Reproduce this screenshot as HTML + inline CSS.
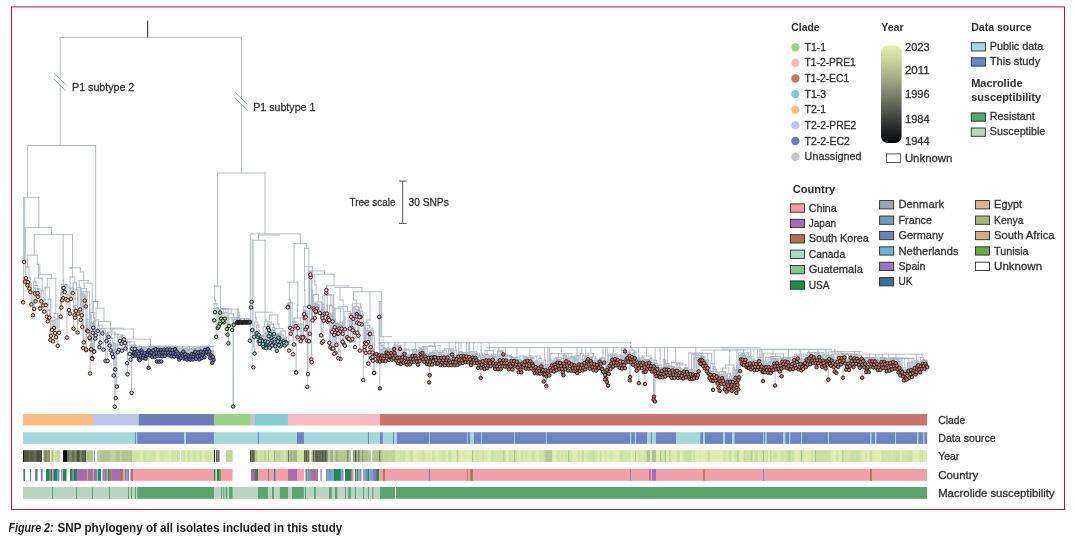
<!DOCTYPE html>
<html lang="en"><head><meta charset="utf-8"><title>Figure 2: SNP phylogeny of all isolates included in this study</title>
<style>html,body{margin:0;padding:0;background:#fff}body{width:1075px;height:536px;overflow:hidden}svg{display:block}text{font-family:"Liberation Sans",sans-serif}</style></head><body>
<svg width="1075" height="536" viewBox="0 0 1075 536">
<defs><linearGradient id="yg" x1="0" y1="0" x2="0" y2="1"><stop offset="0" stop-color="#e6edb4"/><stop offset="0.12" stop-color="#d0d8a4"/><stop offset="0.35" stop-color="#a2a882"/><stop offset="0.6" stop-color="#63675a"/><stop offset="0.85" stop-color="#25282a"/><stop offset="1" stop-color="#050607"/></linearGradient></defs>
<rect x="0" y="0" width="1075" height="536" fill="#ffffff"/>
<rect x="11.5" y="6.9" width="1053" height="502.6" fill="none" stroke="#b8163f" stroke-width="1"/>
<path d="M60.2 37.4L241.5 37.4M60.2 37.4L60.2 145.5M241.5 37.4L241.5 173.0M27.6 145.5L95.6 145.5M27.6 145.5L27.6 197.4M23.6 197.4L38.9 197.4M23.6 197.4L23.6 300.5M24.7 197.4L24.7 260.0M38.9 197.4L38.9 227.5M25.3 227.5L51.4 227.5M25.3 227.5L25.3 277.0M51.4 227.5L51.4 234.6M34.2 234.6L72.5 234.6M34.2 234.6L34.2 255.1M63.1 234.6L63.1 280.3M72.5 234.6L72.5 267.8M95.6 145.5L95.6 301.5M25.9 267.0L25.9 276.6M27.3 278.2L27.3 283.8M27.9 278.2L27.9 280.7M27.3 278.2L27.9 278.2M27.6 277.9L27.6 278.2M29.4 283.4L29.4 287.1M30.4 283.4L30.4 290.6M31.4 283.4L31.4 302.9M29.4 283.4L31.4 283.4M30.4 277.9L30.4 283.4M27.6 277.9L30.4 277.9M29.0 267.0L29.0 277.9M25.9 267.0L29.0 267.0M27.4 255.1L27.4 267.0M27.4 255.1L30.9 255.1M32.9 291.8L32.9 313.8M34.1 291.8L34.1 307.4M32.9 291.8L34.1 291.8M33.5 281.9L33.5 291.8M34.9 285.5L34.9 292.0M35.5 288.7L35.5 299.8M37.6 289.1L37.6 291.6M38.0 289.1L38.0 295.3M40.0 289.1L40.0 307.0M37.6 289.1L40.0 289.1M38.8 288.7L38.8 289.1M35.5 288.7L38.8 288.7M37.2 285.5L37.2 288.7M34.9 285.5L37.2 285.5M36.0 281.9L36.0 285.5M33.5 281.9L36.0 281.9M34.8 278.1L34.8 281.9M41.3 290.6L41.3 299.8M43.1 290.6L43.1 303.9M41.3 290.6L43.1 290.6M42.2 278.1L42.2 290.6M34.8 278.1L42.2 278.1M38.5 264.4L38.5 278.1M37.4 255.1L37.4 264.4M37.4 264.4L38.5 264.4M30.9 255.1L37.4 255.1M44.3 299.1L44.3 310.1M45.8 299.1L45.8 303.5M44.3 299.1L45.8 299.1M45.1 287.2L45.1 299.1M46.8 310.1L46.8 315.2M47.8 310.1L47.8 319.9M49.3 310.1L49.3 316.2M46.8 310.1L49.3 310.1M48.0 299.1L48.0 310.1M50.3 299.1L50.3 338.4M50.9 299.1L50.9 334.3M48.0 299.1L50.9 299.1M49.5 287.2L49.5 299.1M45.1 287.2L49.5 287.2M47.3 278.3L47.3 287.2M51.9 320.6L51.9 328.5M53.0 320.6L53.0 339.8M54.0 320.6L54.0 326.5M51.9 320.6L54.0 320.6M53.0 317.3L53.0 320.6M55.0 317.3L55.0 331.6M53.0 317.3L55.0 317.3M54.0 313.7L54.0 317.3M56.0 318.6L56.0 335.7M57.7 318.6L57.7 344.3M59.1 318.6L59.1 331.2M56.0 318.6L59.1 318.6M57.6 313.7L57.6 318.6M54.0 313.7L57.6 313.7M55.8 278.3L55.8 313.7M47.3 278.3L55.8 278.3M51.5 274.7L51.5 278.3M39.8 264.4L39.8 274.7M39.8 274.7L51.5 274.7M60.6 292.4L60.6 315.2M61.4 292.4L61.4 306.0M62.2 292.4L62.2 298.8M60.6 292.4L62.2 292.4M61.4 284.5L61.4 292.4M63.2 284.5L63.2 296.7M63.6 284.5L63.6 286.5M64.7 284.5L64.7 290.6M63.2 284.5L64.7 284.5M65.9 294.5L65.9 297.8M66.9 294.5L66.9 336.1M67.9 294.5L67.9 298.8M65.9 294.5L67.9 294.5M66.9 284.5L66.9 294.5M63.9 284.5L66.9 284.5M61.4 284.5L65.4 284.5M63.4 280.3L63.4 284.5M63.1 280.3L63.4 280.3M69.0 288.0L69.0 308.6M70.0 288.0L70.0 312.1M71.0 288.0L71.0 297.3M69.0 288.0L71.0 288.0M70.0 277.0L70.0 288.0M72.7 287.2L72.7 291.6M73.5 287.2L73.5 327.1M72.7 287.2L73.5 287.2M73.1 282.8L73.1 287.2M74.5 305.5L74.5 313.8M75.1 305.5L75.1 316.2M75.9 305.5L75.9 309.4M74.5 305.5L75.9 305.5M75.2 289.6L75.2 305.5M77.6 289.6L77.6 331.0M75.2 289.6L77.6 289.6M76.4 282.8L76.4 289.6M73.1 282.8L76.4 282.8M74.7 277.0L74.7 282.8M70.0 277.0L74.7 277.0M72.4 267.8L72.4 277.0M69.7 267.8L72.4 267.8M78.0 287.3L78.0 312.1M80.1 287.3L80.1 308.0M80.7 287.3L80.7 318.3M78.0 287.3L80.7 287.3M79.3 280.5L79.3 287.3M81.7 288.5L81.7 313.8M82.3 293.9L82.3 325.5M83.1 295.2L83.1 346.6M83.7 296.5L83.7 340.8M84.8 296.5L84.8 299.2M85.8 296.5L85.8 304.9M83.7 296.5L85.8 296.5M84.8 295.2L84.8 296.5M83.1 295.2L84.8 295.2M84.0 293.9L84.0 295.2M82.3 293.9L84.0 293.9M83.1 291.8L83.1 293.9M86.0 291.8L86.0 348.0M86.2 319.4L86.2 348.6M87.2 319.4L87.2 329.1M88.0 319.4L88.0 330.0M86.2 319.4L88.0 319.4M87.1 291.8L87.1 319.4M89.5 304.9L89.5 336.0M89.9 304.9L89.9 336.7M89.5 304.9L89.9 304.9M89.7 291.8L89.7 304.9M83.1 291.8L89.7 291.8M86.4 288.5L86.4 291.8M81.7 288.5L86.4 288.5M84.1 283.2L84.1 288.5M90.1 312.5L90.1 372.0M90.9 333.4L90.9 348.0M91.2 344.0L91.2 347.8M92.0 344.0L92.0 356.6M92.2 344.0L92.2 357.4M91.2 344.0L92.2 344.0M91.7 333.4L91.7 344.0M90.9 333.4L91.7 333.4M91.3 312.5L91.3 333.4M94.0 312.5L94.0 349.7M90.1 312.5L94.0 312.5M92.1 283.2L92.1 312.5M84.1 283.2L92.1 283.2M88.1 280.5L88.1 283.2M79.3 280.5L88.1 280.5M83.7 271.9L83.7 280.5M80.3 267.8L80.3 271.9M80.3 271.9L83.7 271.9M69.7 267.8L80.3 267.8M93.5 301.5L97.6 301.5M92.2 324.1L92.2 357.4M92.8 324.1L92.8 331.3M93.2 324.1L93.2 326.2M92.2 324.1L93.2 324.1M92.7 323.6L92.7 324.1M94.0 327.8L94.0 349.7M94.2 327.8L94.2 350.2M95.3 327.8L95.3 337.1M94.0 327.8L95.3 327.8M94.6 323.6L94.6 327.8M92.7 323.6L94.6 323.6M93.7 321.1L93.7 323.6M95.7 321.1L95.7 333.8M93.7 321.1L95.7 321.1M94.7 318.0L94.7 321.1M93.5 301.5L93.5 318.0M93.5 318.0L94.7 318.0M97.6 301.5L97.6 308.1M96.0 308.1L103.9 308.1M97.7 325.8L97.7 329.3M99.4 325.8L99.4 345.7M97.7 325.8L99.4 325.8M98.5 320.0L98.5 325.8M96.0 308.1L96.0 320.0M96.0 320.0L98.5 320.0M103.9 308.1L103.9 321.7M98.3 321.7L110.5 321.7M100.4 328.8L100.4 341.2M102.4 330.2L102.4 331.9M103.5 330.2L103.5 348.2M105.5 330.2L105.5 359.4M102.4 330.2L105.5 330.2M104.0 328.8L104.0 330.2M100.4 328.8L104.0 328.8M102.2 325.0L102.2 328.8M98.3 321.7L98.3 325.0M98.3 325.0L102.2 325.0M110.5 321.7L110.5 329.0M100.8 328.2L123.8 328.2M106.5 333.2L106.5 339.5M107.6 333.2L107.6 359.4M108.6 333.2L108.6 335.4M106.5 333.2L108.6 333.2M107.6 332.1L107.6 333.2M109.6 340.5L109.6 344.1M110.7 340.5L110.7 348.8M109.6 340.5L110.7 340.5M110.1 338.1L110.1 340.5M112.1 342.4L112.1 352.3M113.1 342.4L113.1 355.5M112.1 342.4L113.1 342.4M112.6 338.1L112.6 342.4M110.1 338.1L112.6 338.1M111.4 334.0L111.4 338.1M113.7 343.4L113.7 374.0M114.8 343.4L114.8 405.2M115.2 343.4L115.2 367.9M115.8 343.4L115.8 396.6M113.7 343.4L115.8 343.4M114.8 334.7L114.8 343.4M116.8 345.0L116.8 385.1M117.8 345.0L117.8 350.8M118.9 345.0L118.9 348.4M116.8 345.0L118.9 345.0M117.8 334.7L117.8 345.0M119.9 336.5L119.9 339.5M121.5 336.5L121.5 342.2M121.9 336.5L121.9 349.2M119.9 336.5L121.9 336.5M120.9 335.7L120.9 336.5M124.0 335.7L124.0 337.9M120.9 335.7L124.0 335.7M122.5 334.7L122.5 335.7M114.8 334.7L122.5 334.7M118.6 334.0L118.6 334.7M111.4 334.0L118.6 334.0M115.0 332.1L115.0 334.0M107.6 332.1L115.0 332.1M111.3 331.0L111.3 332.1M112.0 328.2L112.0 331.0M111.3 331.0L112.0 331.0M110.5 329.0L133.5 329.0M133.5 329.0L133.5 339.1M127.4 339.1L150.5 339.1M125.0 342.0L125.0 341.6M125.4 342.0L125.4 347.1M127.1 342.0L127.1 361.7M125.0 342.0L127.1 342.0M127.5 345.3L127.5 372.8M129.7 348.1L129.7 352.5M130.6 348.1L130.6 358.0M129.7 348.1L130.6 348.1M130.1 345.3L130.1 348.1M131.6 345.3L131.6 391.3M132.2 345.3L132.2 347.3M133.0 351.9L133.0 354.3M133.2 351.9L133.2 354.3M133.0 351.9L133.2 351.9M133.1 345.3L133.1 351.9M131.6 345.3L133.1 345.3M130.1 345.3L132.3 345.3M127.5 345.3L131.2 345.3M129.4 342.0L129.4 345.3M126.0 342.0L129.4 342.0M133.8 345.0L133.8 351.3M134.7 345.4L134.7 351.0M134.9 345.4L134.9 347.3M134.7 345.4L134.9 345.4M135.5 349.3L135.5 354.2M136.3 349.3L136.3 351.4M136.4 349.3L136.4 352.0M135.5 349.3L136.4 349.3M135.9 345.4L135.9 349.3M134.8 345.4L135.9 345.4M135.4 345.0L135.4 345.4M133.8 345.0L135.4 345.0M134.6 342.0L134.6 345.0M127.7 342.0L134.6 342.0M127.4 339.1L127.4 342.0M127.4 342.0L131.2 342.0M150.5 339.1L150.5 346.4M137.1 346.4L213.5 346.4M137.2 347.3L137.2 349.8M138.0 347.3L138.0 354.3M137.2 347.3L138.0 347.3M137.6 346.4L137.6 347.3M138.8 349.3L138.8 357.6M138.9 349.6L138.9 352.0M139.7 349.6L139.7 358.7M140.6 349.6L140.6 354.6M138.9 349.6L140.6 349.6M139.7 349.3L139.7 349.6M138.8 349.3L139.7 349.3M139.2 346.4L139.2 349.3M141.4 347.1L141.4 349.0M142.2 347.1L142.2 351.2M143.1 347.1L143.1 356.3M141.4 347.1L143.1 347.1M143.9 349.0L143.9 354.0M144.8 349.0L144.8 351.7M145.6 349.0L145.6 357.2M143.9 349.0L145.6 349.0M144.8 347.9L144.8 349.0M146.4 348.7L146.4 354.2M147.3 348.7L147.3 353.2M148.1 348.7L148.1 350.3M146.4 348.7L148.1 348.7M147.3 347.9L147.3 348.7M144.8 347.9L147.3 347.9M146.0 347.1L146.0 347.9M142.2 347.1L146.0 347.1M144.1 346.4L144.1 347.1M148.6 347.0L148.6 366.2M149.0 347.0L149.0 349.0M148.6 347.0L149.0 347.0M149.8 348.7L149.8 353.9M150.6 348.7L150.6 351.4M149.8 348.7L150.6 348.7M150.2 347.0L150.2 348.7M151.5 347.0L151.5 351.0M152.3 347.0L152.3 355.4M153.2 347.0L153.2 348.8M154.0 347.0L154.0 352.8M152.3 347.0L154.0 347.0M151.5 347.0L153.2 347.0M150.2 347.0L152.3 347.0M148.8 347.0L151.3 347.0M150.0 346.6L150.0 347.0M154.8 346.6L154.8 355.5M150.0 346.6L154.8 346.6M152.4 346.4L152.4 346.6M155.7 346.4L155.7 347.7M156.5 348.3L156.5 351.1M157.0 348.3L157.0 360.0M157.4 348.3L157.4 354.3M156.5 348.3L157.4 348.3M156.9 346.4L156.9 348.3M158.2 346.4L158.2 348.3M155.7 346.4L158.2 346.4M159.0 346.4L159.0 351.3M159.2 346.4L159.2 360.1M159.9 346.4L159.9 354.2M160.7 346.4L160.7 348.5M159.2 346.4L160.7 346.4M159.0 346.4L160.0 346.4M161.3 347.6L161.3 360.0M161.6 348.8L161.6 350.8M162.4 348.8L162.4 354.6M163.2 348.8L163.2 350.9M161.6 348.8L163.2 348.8M162.4 347.6L162.4 348.8M161.3 347.6L162.4 347.6M161.9 346.4L161.9 347.6M164.1 346.4L164.1 348.1M161.9 346.4L164.1 346.4M164.9 346.4L164.9 354.4M165.8 346.4L165.8 351.3M166.6 346.4L166.6 348.7M167.4 346.4L167.4 348.1M165.8 346.4L167.4 346.4M164.9 346.4L166.6 346.4M168.3 346.4L168.3 351.1M169.1 346.4L169.1 353.8M170.0 346.4L170.0 348.1M170.8 346.4L170.8 351.5M169.1 346.4L170.8 346.4M168.3 346.4L170.0 346.4M165.8 346.4L169.1 346.4M171.6 346.8L171.6 355.0M172.5 346.8L172.5 348.8M171.6 346.8L172.5 346.8M172.1 346.4L172.1 346.8M173.3 346.4L173.3 351.9M174.2 346.4L174.2 355.0M175.0 346.4L175.0 347.7M175.8 346.4L175.8 352.5M173.3 346.4L175.8 346.4M176.7 347.5L176.7 350.2M177.5 347.5L177.5 355.0M176.7 347.5L177.5 347.5M177.1 346.4L177.1 347.5M174.6 346.4L177.1 346.4M172.1 346.4L175.8 346.4M178.4 348.4L178.4 352.2M179.2 348.4L179.2 358.0M180.0 348.4L180.0 354.6M178.4 348.4L180.0 348.4M179.2 346.4L179.2 348.4M180.9 348.3L180.9 356.4M181.7 348.3L181.7 352.3M182.6 348.3L182.6 354.3M183.4 348.3L183.4 350.1M182.6 348.3L183.4 348.3M184.2 348.3L184.2 356.9M185.1 348.3L185.1 352.7M185.9 348.3L185.9 355.7M181.7 348.3L185.9 348.3M180.9 348.3L183.8 348.3M182.4 346.4L182.4 348.3M186.8 349.9L186.8 358.0M187.6 349.9L187.6 353.5M186.8 349.9L187.6 349.9M187.2 346.4L187.2 349.9M188.4 349.9L188.4 354.3M189.3 349.9L189.3 357.2M190.1 349.9L190.1 358.0M188.4 349.9L190.1 349.9M189.3 346.4L189.3 349.9M191.0 348.5L191.0 354.8M191.8 349.5L191.8 352.6M192.6 349.5L192.6 358.0M191.8 349.5L192.6 349.5M192.2 348.5L192.2 349.5M193.5 348.5L193.5 355.0M194.3 348.5L194.3 352.8M195.2 348.5L195.2 350.3M196.0 348.5L196.0 357.3M194.3 348.5L196.0 348.5M193.5 348.5L195.2 348.5M191.0 348.5L194.3 348.5M192.6 346.4L192.6 348.5M196.8 350.2L196.8 352.9M197.7 350.2L197.7 354.7M196.8 350.2L197.7 350.2M197.3 347.7L197.3 350.2M198.5 349.0L198.5 350.7M199.4 349.0L199.4 358.0M198.5 349.0L199.4 349.0M198.9 347.9L198.9 349.0M200.2 347.9L200.2 354.4M201.0 347.9L201.0 350.0M200.2 347.9L201.0 347.9M198.9 347.9L200.6 347.9M199.8 347.7L199.8 347.9M197.3 347.7L199.8 347.7M198.5 346.4L198.5 347.7M201.9 347.2L201.9 356.6M202.7 347.2L202.7 353.4M203.6 347.2L203.6 351.0M201.9 347.2L203.6 347.2M202.7 346.4L202.7 347.2M204.4 346.4L204.4 355.7M205.2 346.4L205.2 348.4M206.1 346.4L206.1 351.1M205.2 346.4L206.1 346.4M202.7 346.4L205.7 346.4M206.9 346.4L206.9 350.3M207.8 346.4L207.8 347.6M208.6 346.4L208.6 352.8M206.9 346.4L208.6 346.4M209.4 346.4L209.4 349.9M207.8 346.4L209.4 346.4M210.3 351.4L210.3 356.7M211.1 351.4L211.1 353.8M210.3 351.4L211.1 351.4M210.7 346.4L210.7 351.4M208.6 346.4L210.7 346.4M212.2 350.9L212.2 361.3M212.9 350.9L212.9 355.5M213.6 350.9L213.6 358.3M212.2 350.9L213.6 350.9M212.9 346.4L212.9 350.9M217.5 173.0L265.0 173.0M217.5 173.0L217.5 286.0M214.4 286.0L220.6 286.0M265.0 173.0L265.0 233.9M250.4 233.9L300.3 233.9M258.5 235.0L279.6 235.0M250.4 233.9L250.4 340.0M252.2 240.2L252.2 366.0M252.2 240.2L265.0 240.2M258.5 233.9L258.5 240.2M265.0 240.2L265.0 312.2M300.3 233.9L300.3 243.6M294.0 243.6L306.3 243.6M294.0 243.6L294.0 282.2M287.5 282.2L297.9 282.2M306.3 243.6L306.3 248.3M304.5 248.3L308.9 248.3M304.5 248.3L304.5 266.6M308.9 248.3L308.9 271.0M214.2 303.8L214.2 318.9M215.0 307.9L215.0 310.7M216.1 307.9L216.1 335.3M217.7 307.9L217.7 326.5M218.7 307.9L218.7 325.0M215.0 307.9L218.7 307.9M216.9 303.8L216.9 307.9M214.2 303.8L216.9 303.8M215.5 300.0L215.5 303.8M214.7 286.0L214.7 300.0M214.7 300.0L215.5 300.0M219.8 309.0L219.8 322.4M220.2 309.0L220.2 311.1M221.2 309.0L221.2 317.2M220.2 309.0L221.2 309.0M222.8 313.2L222.8 319.3M223.9 313.2L223.9 320.9M222.8 313.2L223.9 313.2M223.3 309.0L223.3 313.2M224.9 312.5L224.9 317.2M226.9 312.5L226.9 327.5M224.9 312.5L226.9 312.5M225.9 309.0L225.9 312.5M220.7 309.0L225.9 309.0M219.8 309.0L223.3 309.0M227.6 327.2L227.6 333.2M228.4 327.2L228.4 341.9M227.6 327.2L228.4 327.2M228.0 309.0L228.0 327.2M229.0 313.8L229.0 324.4M232.1 317.4L232.1 328.5M233.1 319.4L233.1 405.0M233.7 319.4L233.7 323.4M236.8 319.4L236.8 321.3M233.1 319.4L236.8 319.4M234.9 317.4L234.9 319.4M232.1 317.4L234.9 317.4M233.5 313.8L233.5 317.4M229.0 313.8L233.5 313.8M231.2 309.0L231.2 313.8M237.0 317.3L237.0 320.8M237.4 317.3L237.4 320.6M237.0 317.3L237.4 317.3M237.2 309.0L237.2 317.3M237.9 312.6L237.9 320.6M238.3 317.1L238.3 321.0M238.8 317.1L238.8 321.1M239.2 317.1L239.2 320.6M238.3 317.1L239.2 317.1M238.8 315.7L238.8 317.1M239.7 315.7L239.7 320.5M238.8 315.7L239.7 315.7M239.2 312.6L239.2 315.7M237.9 312.6L239.2 312.6M238.6 309.0L238.6 312.6M221.5 309.0L238.6 309.0M220.5 286.0L220.5 309.0M220.5 309.0L230.1 309.0M233.3 325.0L233.3 405.0M236.9 318.5L250.3 318.5M228.0 317.8L238.6 317.8M255.4 312.2L272.2 312.2M254.6 321.9L254.6 352.1M256.7 325.1L256.7 331.6M257.7 331.8L257.7 335.3M258.7 331.8L258.7 333.4M257.7 331.8L258.7 331.8M258.2 331.1L258.2 331.8M258.7 335.1L258.7 339.8M259.8 336.0L259.8 342.3M260.0 336.0L260.0 339.2M260.8 336.0L260.8 337.8M261.8 336.0L261.8 342.9M260.0 336.0L261.8 336.0M259.8 336.0L260.9 336.0M260.3 335.1L260.3 336.0M258.7 335.1L260.3 335.1M259.5 331.1L259.5 335.1M258.2 331.1L259.5 331.1M258.9 325.1L258.9 331.1M256.7 325.1L258.9 325.1M257.8 321.9L257.8 325.1M254.6 321.9L257.8 321.9M256.2 318.0L256.2 321.9M255.4 312.2L255.4 318.0M255.4 318.0L256.2 318.0M262.2 336.7L262.2 339.4M263.0 336.7L263.0 342.4M262.2 336.7L263.0 336.7M262.6 335.3L262.6 336.7M263.1 335.3L263.1 344.3M263.9 335.3L263.9 346.0M262.6 335.3L263.9 335.3M263.2 326.8L263.2 335.3M264.9 333.2L264.9 342.9M265.5 333.2L265.5 339.8M266.3 333.2L266.3 346.6M264.9 333.2L266.3 333.2M265.6 326.8L265.6 333.2M263.2 326.8L265.6 326.8M264.4 321.6L264.4 326.8M267.0 332.5L267.0 341.9M267.8 332.5L267.8 340.5M267.0 332.5L267.8 332.5M267.4 323.9L267.4 332.5M268.0 324.8L268.0 326.5M268.8 324.8L268.8 344.9M268.9 324.8L268.9 334.8M268.0 324.8L268.9 324.8M268.4 323.9L268.4 324.8M267.4 323.9L268.4 323.9M267.9 321.6L267.9 323.9M264.4 321.6L267.9 321.6M266.2 320.0L266.2 321.6M265.1 312.2L265.1 320.0M265.1 320.0L266.2 320.0M269.4 315.0L277.8 315.0M269.0 325.9L269.0 328.5M269.6 325.9L269.6 346.3M270.0 325.9L270.0 332.6M269.0 325.9L270.0 325.9M269.5 324.2L269.5 325.9M271.1 330.0L271.1 336.1M271.7 330.0L271.7 343.9M272.0 330.0L272.0 343.9M272.1 330.0L272.1 338.8M273.1 330.0L273.1 342.9M274.1 330.0L274.1 332.6M271.1 330.0L274.1 330.0M272.6 327.4L272.6 330.0M274.5 327.4L274.5 337.8M272.6 327.4L274.5 327.4M273.6 324.2L273.6 327.4M269.5 324.2L273.6 324.2M271.5 322.0L271.5 324.2M269.4 315.0L269.4 322.0M269.4 322.0L271.5 322.0M275.2 328.7L275.2 344.9M276.2 334.6L276.2 342.9M276.8 334.6L276.8 349.4M277.8 334.6L277.8 339.8M278.4 334.6L278.4 336.2M276.8 334.6L278.4 334.6M278.7 335.1L278.7 343.5M279.3 335.1L279.3 336.7M278.7 335.1L279.3 335.1M279.0 334.6L279.0 335.1M277.6 334.6L279.0 334.6M276.2 334.6L278.3 334.6M277.2 334.0L277.2 334.6M280.3 334.0L280.3 340.8M277.2 334.0L280.3 334.0M278.8 333.1L278.8 334.0M280.3 335.1L280.3 344.9M281.9 335.1L281.9 342.9M283.4 335.1L283.4 339.8M280.3 335.1L283.4 335.1M281.8 333.1L281.8 335.1M278.8 333.1L281.8 333.1M280.3 331.1L280.3 333.1M284.0 338.0L284.0 341.4M284.7 338.0L284.7 344.0M285.4 338.3L285.4 342.9M286.4 338.3L286.4 340.8M285.4 338.3L286.4 338.3M285.9 338.0L285.9 338.3M286.6 338.0L286.6 342.1M284.0 338.0L286.6 338.0M285.3 331.1L285.3 338.0M280.3 331.1L285.3 331.1M282.8 328.7L282.8 331.1M275.2 328.7L282.8 328.7M279.0 324.0L279.0 328.7M277.8 315.0L277.8 324.0M277.8 324.0L279.0 324.0M253.1 240.2L253.1 347.7M287.8 303.5L287.8 305.9M288.1 303.5L288.1 305.3M289.0 303.5L289.0 349.1M290.1 303.5L290.1 326.3M288.1 303.5L290.1 303.5M287.8 303.5L289.1 303.5M288.5 302.7L288.5 303.5M290.7 302.7L290.7 332.3M292.3 302.7L292.3 327.8M288.5 302.7L292.3 302.7M290.4 300.0L290.4 302.7M289.3 282.2L289.3 300.0M289.3 300.0L290.4 300.0M293.0 321.2L293.0 352.9M293.9 321.9L293.9 343.0M295.7 321.9L295.7 324.5M296.1 321.9L296.1 371.0M293.9 321.9L296.1 321.9M295.0 321.2L295.0 321.9M293.0 321.2L295.0 321.2M294.0 318.1L294.0 321.2M297.5 325.0L297.5 335.7M297.9 325.0L297.9 326.7M300.8 325.0L300.8 339.7M301.3 325.0L301.3 335.7M297.9 325.0L301.3 325.0M297.5 325.0L299.6 325.0M298.5 324.1L298.5 325.0M302.9 324.1L302.9 336.0M298.5 324.1L302.9 324.1M300.7 318.1L300.7 324.1M294.0 318.1L300.7 318.1M297.4 305.0L297.4 318.1M297.9 282.2L297.9 305.0M297.4 305.0L297.9 305.0M304.5 266.6L312.3 266.6M303.5 310.0L303.5 335.7M304.2 310.0L304.2 312.6M303.5 310.0L304.2 310.0M303.8 306.5L303.8 310.0M304.6 310.7L304.6 316.6M305.7 311.6L305.7 327.8M305.7 311.6L305.7 315.6M305.7 311.6L305.7 311.6M305.7 310.7L305.7 311.6M306.9 314.9L306.9 339.0M307.0 314.9L307.0 325.5M307.3 333.3L307.3 385.4M308.0 333.3L308.0 372.6M307.3 333.3L308.0 333.3M307.6 314.9L307.6 333.3M306.9 314.9L307.6 314.9M307.3 310.7L307.3 314.9M304.6 310.7L307.3 310.7M305.9 306.5L305.9 310.7M303.8 306.5L305.9 306.5M304.9 290.0L304.9 306.5M304.5 266.6L304.5 290.0M304.5 290.0L304.9 290.0M308.9 271.0L324.6 271.0M309.0 272.0L309.0 339.8M309.1 272.0L309.1 305.4M309.8 272.0L309.8 332.3M310.4 272.0L310.4 273.2M310.7 272.0L310.7 275.7M310.4 272.0L310.7 272.0M311.3 272.0L311.3 358.0M309.8 272.0L311.3 272.0M311.6 290.0L311.6 360.7M312.5 290.0L312.5 318.9M311.6 290.0L312.5 290.0M312.0 272.0L312.0 290.0M310.6 272.0L312.0 272.0M309.1 272.0L311.3 272.0M309.0 272.0L310.2 272.0M312.3 266.6L312.3 272.0M309.6 272.0L312.3 272.0M324.6 271.0L324.6 274.1M314.9 274.1L334.0 274.1M313.6 294.5L313.6 307.0M314.6 303.6L314.6 308.7M314.7 307.8L314.7 316.6M315.8 307.8L315.8 310.6M315.8 307.8L315.8 309.9M314.7 307.8L315.8 307.8M315.3 304.6L315.3 307.8M316.9 304.9L316.9 307.0M319.8 304.9L319.8 311.5M316.9 304.9L319.8 304.9M318.4 304.6L318.4 304.9M315.3 304.6L318.4 304.6M316.8 303.6L316.8 304.6M314.6 303.6L316.8 303.6M315.7 302.0L315.7 303.6M321.0 310.4L321.0 333.9M321.9 310.4L321.9 341.3M321.0 310.4L321.9 310.4M321.4 302.0L321.4 310.4M315.7 302.0L321.4 302.0M318.6 294.5L318.6 302.0M313.6 294.5L318.6 294.5M316.1 285.0L316.1 294.5M314.9 274.1L314.9 285.0M314.9 285.0L316.1 285.0M334.0 274.1L334.0 285.8M326.4 285.8L348.2 285.8M322.5 304.2L322.5 314.4M322.5 307.6L322.5 316.6M323.2 307.6L323.2 339.8M323.8 307.6L323.8 319.2M322.5 307.6L323.8 307.6M323.2 304.2L323.2 307.6M322.5 304.2L323.2 304.2M322.9 295.0L322.9 304.2M324.8 295.0L324.8 312.2M326.3 295.0L326.3 291.3M326.4 295.0L326.4 288.6M326.9 305.2L326.9 312.1M327.5 305.2L327.5 320.0M327.5 305.2L327.5 318.2M326.9 305.2L327.5 305.2M327.2 295.0L327.2 305.2M326.4 295.0L327.2 295.0M326.3 295.0L326.8 295.0M328.1 313.3L328.1 316.6M329.2 315.4L329.2 318.6M329.3 315.4L329.3 341.3M330.4 315.4L330.4 345.7M331.9 315.4L331.9 347.3M329.2 315.4L331.9 315.4M330.6 313.3L330.6 315.4M328.1 313.3L330.6 313.3M329.4 305.5L329.4 313.3M332.0 313.3L332.0 330.6M332.6 313.3L332.6 320.0M332.0 313.3L332.6 313.3M332.3 305.5L332.3 313.3M329.4 305.5L332.3 305.5M330.8 295.0L330.8 305.5M326.6 295.0L330.8 295.0M333.1 295.0L333.1 347.0M333.7 295.0L333.7 328.5M328.7 295.0L333.7 295.0M324.8 295.0L331.2 295.0M322.9 295.0L328.0 295.0M326.4 285.8L326.4 295.0M325.4 295.0L326.4 295.0M348.2 285.8L348.2 287.5M334.9 287.5L362.0 287.5M334.2 325.5L334.2 333.4M334.3 325.5L334.3 352.2M334.2 325.5L334.3 325.5M334.2 308.2L334.2 325.5M334.8 318.9L334.8 325.8M335.5 318.9L335.5 351.3M334.8 318.9L335.5 318.9M335.2 308.2L335.2 318.9M336.4 323.6L336.4 343.5M337.1 325.2L337.1 328.5M337.8 325.2L337.8 332.3M338.3 325.2L338.3 356.7M338.3 325.2L338.3 331.9M339.3 325.2L339.3 327.2M338.3 325.2L339.3 325.2M337.8 325.2L338.8 325.2M337.1 325.2L338.3 325.2M339.9 325.2L339.9 330.1M340.4 325.2L340.4 357.6M341.6 325.2L341.6 327.2M342.7 325.2L342.7 332.3M340.4 325.2L342.7 325.2M339.9 325.2L341.6 325.2M337.7 325.2L340.7 325.2M339.2 323.6L339.2 325.2M336.4 323.6L339.2 323.6M337.8 322.2L337.8 323.6M342.7 322.2L342.7 340.3M337.8 322.2L342.7 322.2M340.3 308.2L340.3 322.2M343.4 308.2L343.4 341.9M334.2 308.2L343.4 308.2M338.8 306.4L338.8 308.2M344.9 317.2L344.9 327.8M344.9 317.2L344.9 344.2M344.9 317.2L344.9 317.2M344.9 311.5L344.9 317.2M347.2 328.9L347.2 335.7M348.3 328.9L348.3 337.5M348.8 328.9L348.8 337.3M347.2 328.9L348.8 328.9M348.0 320.9L348.0 328.9M349.9 320.9L349.9 327.1M348.0 320.9L349.9 320.9M348.9 313.4L348.9 320.9M350.5 313.4L350.5 339.0M351.2 313.4L351.2 315.4M351.6 313.4L351.6 326.3M351.2 313.4L351.6 313.4M348.9 313.4L351.4 313.4M350.2 311.5L350.2 313.4M344.9 311.5L350.2 311.5M347.5 306.4L347.5 311.5M338.8 306.4L347.5 306.4M343.2 300.0L343.2 306.4M340.0 287.5L340.0 300.0M340.0 300.0L343.2 300.0M362.0 287.5L362.0 291.8M353.5 291.8L381.7 291.8M352.4 303.8L352.4 337.5M352.8 307.9L352.8 328.9M353.2 312.0L353.2 317.3M355.0 312.0L355.0 331.2M355.0 312.0L355.0 345.7M353.2 312.0L355.0 312.0M354.1 309.6L354.1 312.0M356.8 309.6L356.8 312.6M354.1 309.6L356.8 309.6M355.4 307.9L355.4 309.6M352.8 307.9L355.4 307.9M354.1 306.5L354.1 307.9M356.8 313.3L356.8 315.1M357.2 313.3L357.2 321.1M357.3 313.3L357.3 331.2M356.8 313.3L357.3 313.3M357.1 311.9L357.1 313.3M358.4 311.9L358.4 334.1M357.1 311.9L358.4 311.9M357.7 310.2L357.7 311.9M359.2 310.2L359.2 322.2M357.7 310.2L359.2 310.2M358.4 306.5L358.4 310.2M354.1 306.5L358.4 306.5M356.3 303.8L356.3 306.5M359.5 307.3L359.5 315.5M359.9 311.3L359.9 349.1M360.6 311.3L360.6 315.5M361.7 315.2L361.7 322.9M363.3 315.2L363.3 378.6M361.7 315.2L363.3 315.2M362.5 311.3L362.5 315.2M359.9 311.3L362.5 311.3M361.2 307.3L361.2 311.3M359.5 307.3L361.2 307.3M360.4 303.8L360.4 307.3M352.4 303.8L360.4 303.8M356.4 300.0L356.4 303.8M353.5 291.8L353.5 300.0M353.5 300.0L356.4 300.0M364.6 328.0L364.6 348.7M364.6 328.0L364.6 345.3M365.1 328.0L365.1 341.3M364.6 328.0L365.1 328.0M364.8 322.8L364.8 328.0M365.7 325.5L365.7 351.3M366.4 330.5L366.4 342.5M368.0 330.8L368.0 340.6M368.4 330.8L368.4 362.1M369.5 330.8L369.5 332.7M369.5 330.8L369.5 350.9M368.0 330.8L369.5 330.8M368.8 330.5L368.8 330.8M366.4 330.5L368.8 330.5M367.6 328.1L367.6 330.5M370.2 330.8L370.2 332.4M370.7 330.8L370.7 345.7M371.0 330.8L371.0 356.5M370.2 330.8L371.0 330.8M370.6 330.2L370.6 330.8M372.5 344.2L372.5 351.0M372.7 349.2L372.7 355.3M372.9 351.5L372.9 359.2M374.0 353.0L374.0 354.7M374.0 353.0L374.0 371.5M374.1 353.0L374.1 371.5M374.0 353.0L374.1 353.0M374.1 351.5L374.1 353.0M372.9 351.5L374.1 351.5M373.5 349.2L373.5 351.5M372.7 349.2L373.5 349.2M373.1 344.2L373.1 349.2M372.5 344.2L373.1 344.2M372.8 335.6L372.8 344.2M374.5 335.6L374.5 355.0M372.8 335.6L374.5 335.6M373.6 330.2L373.6 335.6M370.6 330.2L373.6 330.2M372.1 328.1L372.1 330.2M367.6 328.1L372.1 328.1M369.8 325.5L369.8 328.1M365.7 325.5L369.8 325.5M367.8 322.8L367.8 325.5M364.8 322.8L367.8 322.8M366.3 320.0L366.3 322.8M370.0 291.8L370.0 320.0M366.3 320.0L370.0 320.0M381.7 291.8L381.7 336.7M380.3 301.5L380.3 336.7M379.3 301.5L379.3 315.0M379.3 301.5L381.7 301.5M380.3 336.7L391.5 336.7M383.0 336.7L383.0 342.7M380.0 342.7L630.5 342.7M630.5 342.7L630.5 347.5M487.0 347.5L760.0 347.5M721.5 349.2L831.5 349.2M760.0 349.7L831.5 349.7M831.5 351.4L861.3 351.4M863.0 354.2L923.4 354.2M701.0 350.0L745.0 350.0M379.2 343.0L379.2 315.5M379.2 343.0L379.2 353.8M379.2 343.0L379.2 343.0M379.3 343.0L379.3 315.4M379.9 343.0L379.9 386.9M379.3 343.0L379.9 343.0M380.1 349.5L380.1 359.8M381.0 349.5L381.0 356.9M381.9 349.5L381.9 354.0M380.1 349.5L381.9 349.5M381.0 345.6L381.0 349.5M382.8 345.6L382.8 359.4M381.0 345.6L382.8 345.6M381.9 343.0L381.9 345.6M379.6 343.0L381.9 343.0M379.2 343.0L380.7 343.0M380.0 342.7L380.0 343.0M383.7 347.9L383.7 357.0M384.6 347.9L384.6 354.4M383.7 347.9L384.6 347.9M384.1 345.2L384.1 347.9M384.1 342.7L384.1 345.2M385.5 349.1L385.5 359.6M386.4 349.1L386.4 351.1M385.5 349.1L386.4 349.1M385.9 348.9L385.9 349.1M387.3 349.8L387.3 354.8M388.2 350.3L388.2 352.1M389.1 350.3L389.1 358.3M390.0 350.3L390.0 354.6M388.2 350.3L390.0 350.3M389.1 349.8L389.1 350.3M387.3 349.8L389.1 349.8M388.2 349.2L388.2 349.8M390.9 349.8L390.9 351.6M391.8 352.2L391.8 358.1M392.7 352.2L392.7 354.1M391.8 352.2L392.7 352.2M392.2 349.8L392.2 352.2M393.6 349.8L393.6 356.5M390.9 349.8L393.6 349.8M392.2 349.2L392.2 349.8M388.2 349.2L392.2 349.2M390.2 348.9L390.2 349.2M385.9 348.9L390.2 348.9M388.1 348.1L388.1 348.9M388.1 342.7L388.1 348.1M394.0 345.1L394.0 347.5M394.5 345.1L394.5 351.4M395.4 345.1L395.4 354.2M396.3 345.1L396.3 359.1M394.0 345.1L396.3 345.1M395.1 344.2L395.1 345.1M395.1 342.7L395.1 344.2M397.2 345.6L397.2 356.5M398.1 345.6L398.1 361.7M399.0 345.6L399.0 359.3M399.9 345.6L399.9 356.1M400.0 345.6L400.0 347.5M399.0 345.6L400.0 345.6M400.8 345.6L400.8 362.5M399.5 345.6L400.8 345.6M398.1 345.6L400.1 345.6M397.2 345.6L399.1 345.6M398.2 344.7L398.2 345.6M398.2 342.7L398.2 344.7M401.7 349.1L401.7 358.5M402.6 352.4L402.6 355.7M403.5 352.4L403.5 361.3M402.6 352.4L403.5 352.4M403.0 349.9L403.0 352.4M404.4 350.3L404.4 352.3M405.3 354.0L405.3 356.4M406.2 354.0L406.2 360.7M407.1 354.0L407.1 363.1M405.3 354.0L407.1 354.0M406.2 350.3L406.2 354.0M404.4 350.3L406.2 350.3M405.3 349.9L405.3 350.3M408.0 354.8L408.0 357.3M408.9 355.1L408.9 360.6M409.8 355.1L409.8 362.9M410.7 355.1L410.7 357.2M408.9 355.1L410.7 355.1M411.6 355.1L411.6 360.3M409.8 355.1L411.6 355.1M410.7 354.8L410.7 355.1M408.0 354.8L410.7 354.8M409.3 349.9L409.3 354.8M412.5 349.9L412.5 354.5M413.4 349.9L413.4 357.7M403.0 349.9L413.4 349.9M408.2 349.1L408.2 349.9M401.7 349.1L408.2 349.1M405.0 348.7L405.0 349.1M405.0 342.7L405.0 348.7M414.3 349.3L414.3 360.2M415.2 351.6L415.2 354.3M416.1 351.6L416.1 356.9M417.0 351.6L417.0 360.1M417.9 351.6L417.9 363.2M415.2 351.6L417.9 351.6M416.5 349.3L416.5 351.6M414.3 349.3L416.5 349.3M415.4 347.6L415.4 349.3M415.4 342.7L415.4 347.6M418.8 351.0L418.8 356.9M419.7 351.0L419.7 359.5M418.8 351.0L419.7 351.0M419.2 348.0L419.2 351.0M420.6 349.0L420.6 352.4M421.5 349.0L421.5 355.6M420.6 349.0L421.5 349.0M421.0 348.0L421.0 349.0M422.4 349.5L422.4 351.5M423.3 349.5L423.3 357.9M424.2 349.5L424.2 360.2M422.4 349.5L424.2 349.5M423.3 348.0L423.3 349.5M425.1 348.0L425.1 355.1M426.0 353.6L426.0 357.8M426.9 354.7L426.9 362.5M427.8 354.7L427.8 360.1M428.7 354.7L428.7 356.3M429.2 354.7L429.2 380.9M426.9 354.7L429.2 354.7M428.0 353.6L428.0 354.7M426.0 353.6L428.0 353.6M427.0 348.0L427.0 353.6M419.2 348.0L427.0 348.0M423.1 346.5L423.1 348.0M429.6 354.9L429.6 362.9M429.7 354.9L429.7 373.8M429.6 354.9L429.7 354.9M429.6 352.2L429.6 354.9M430.5 352.9L430.5 360.2M431.4 352.9L431.4 356.1M432.3 354.9L432.3 363.0M433.2 354.9L433.2 359.5M432.3 354.9L433.2 354.9M432.7 352.9L432.7 354.9M434.1 353.5L434.1 355.8M435.0 353.5L435.0 355.8M434.1 353.5L435.0 353.5M434.5 352.9L434.5 353.5M430.5 352.9L434.5 352.9M432.5 352.2L432.5 352.9M435.9 355.6L435.9 358.7M436.8 355.6L436.8 362.5M435.9 355.6L436.8 355.6M436.3 352.2L436.3 355.6M429.6 352.2L436.3 352.2M433.0 350.7L433.0 352.2M437.7 350.7L437.7 361.6M433.0 350.7L437.7 350.7M435.3 346.5L435.3 350.7M423.1 346.5L435.3 346.5M429.2 345.7L429.2 346.5M438.6 352.5L438.6 356.5M439.5 352.5L439.5 359.1M440.4 352.5L440.4 363.5M441.3 352.5L441.3 356.3M438.6 352.5L441.3 352.5M439.9 345.7L439.9 352.5M429.2 345.7L439.9 345.7M434.6 344.9L434.6 345.7M434.6 342.7L434.6 344.9M442.2 352.3L442.2 361.0M443.1 354.4L443.1 358.7M444.0 354.4L444.0 356.1M444.9 354.4L444.9 363.7M443.1 354.4L444.9 354.4M444.0 352.3L444.0 354.4M442.2 352.3L444.0 352.3M443.1 350.7L443.1 352.3M445.8 355.9L445.8 361.0M446.7 355.9L446.7 358.6M445.8 355.9L446.7 355.9M446.2 350.7L446.2 355.9M443.1 350.7L446.2 350.7M444.7 348.9L444.7 350.7M447.6 353.9L447.6 356.0M448.5 353.9L448.5 363.7M449.4 353.9L449.4 359.3M447.6 353.9L449.4 353.9M448.5 349.8L448.5 353.9M450.3 350.5L450.3 361.1M451.2 350.5L451.2 363.7M452.1 350.5L452.1 353.0M450.3 350.5L452.1 350.5M451.2 349.8L451.2 350.5M448.5 349.8L451.2 349.8M449.8 348.9L449.8 349.8M453.0 352.7L453.0 360.5M453.9 352.7L453.9 357.0M453.0 352.7L453.9 352.7M453.4 348.9L453.4 352.7M444.7 348.9L453.4 348.9M449.1 347.2L449.1 348.9M449.1 342.7L449.1 347.2M454.8 350.2L454.8 363.7M455.7 355.6L455.7 360.7M456.6 355.6L456.6 357.8M457.5 355.6L457.5 363.3M455.7 355.6L457.5 355.6M456.6 350.2L456.6 355.6M454.8 350.2L456.6 350.2M455.7 347.2L455.7 350.2M455.7 342.7L455.7 347.2M458.4 352.1L458.4 355.0M459.3 352.1L459.3 358.6M458.4 352.1L459.3 352.1M458.8 351.1L458.8 352.1M458.8 342.7L458.8 351.1M460.2 351.9L460.2 361.9M461.1 352.6L461.1 354.5M462.0 352.9L462.0 358.8M462.9 352.9L462.9 361.3M463.8 352.9L463.8 354.8M462.0 352.9L463.8 352.9M462.9 352.6L462.9 352.9M461.1 352.6L462.9 352.6M462.0 351.9L462.0 352.6M460.2 351.9L462.0 351.9M461.1 346.1L461.1 351.9M461.1 342.7L461.1 346.1M464.7 352.9L464.7 357.5M465.6 352.9L465.6 360.6M466.5 352.9L466.5 355.1M464.7 352.9L466.5 352.9M465.6 352.4L465.6 352.9M467.4 352.4L467.4 358.3M465.6 352.4L467.4 352.4M466.5 348.9L466.5 352.4M466.5 342.7L466.5 348.9M468.3 342.7L468.3 360.8M469.2 352.1L469.2 355.5M470.1 352.1L470.1 357.9M469.2 352.1L470.1 352.1M469.6 346.9L469.6 352.1M469.6 342.7L469.6 346.9M471.0 351.8L471.0 363.6M471.9 354.2L471.9 360.9M472.8 354.2L472.8 356.2M473.7 354.2L473.7 358.5M471.9 354.2L473.7 354.2M472.8 351.8L472.8 354.2M474.6 351.8L474.6 361.3M475.5 353.3L475.5 356.4M476.4 353.3L476.4 358.9M477.3 353.3L477.3 361.4M475.5 353.3L477.3 353.3M476.4 351.8L476.4 353.3M471.0 351.8L476.4 351.8M473.7 349.1L473.7 351.8M473.7 342.7L473.7 349.1M478.2 360.0L478.2 366.3M479.1 360.0L479.1 363.9M478.2 360.0L479.1 360.0M478.6 356.0L478.6 360.0M480.0 356.8L480.0 360.8M480.7 356.8L480.7 376.5M480.9 356.8L480.9 366.2M480.0 356.8L480.9 356.8M480.4 356.0L480.4 356.8M478.6 356.0L480.4 356.0M479.5 354.1L479.5 356.0M481.8 355.5L481.8 363.1M482.7 355.5L482.7 359.7M483.6 355.5L483.6 365.8M481.8 355.5L483.6 355.5M482.7 354.1L482.7 355.5M479.5 354.1L482.7 354.1M481.1 350.1L481.1 354.1M481.1 342.7L481.1 350.1M484.5 354.4L484.5 367.4M485.4 354.4L485.4 361.4M484.5 354.4L485.4 354.4M484.9 350.5L484.9 354.4M486.3 354.5L486.3 358.9M487.2 354.5L487.2 366.5M488.1 354.5L488.1 364.1M486.3 354.5L488.1 354.5M487.2 350.5L487.2 354.5M489.0 357.3L489.0 359.0M489.9 357.3L489.9 361.7M489.0 357.3L489.9 357.3M489.4 355.5L489.4 357.3M490.8 356.7L490.8 364.6M491.7 356.7L491.7 359.1M492.6 356.7L492.6 358.3M490.8 356.7L492.6 356.7M493.5 356.7L493.5 362.1M491.7 356.7L493.5 356.7M492.6 356.0L492.6 356.7M494.4 356.0L494.4 364.5M492.6 356.0L494.4 356.0M493.5 355.5L493.5 356.0M489.4 355.5L493.5 355.5M491.5 354.3L491.5 355.5M495.3 357.1L495.3 367.4M496.2 357.1L496.2 362.1M495.3 357.1L496.2 357.1M495.7 354.3L495.7 357.1M491.5 354.3L495.7 354.3M493.6 350.5L493.6 354.3M484.9 350.5L493.6 350.5M489.3 347.7L489.3 350.5M489.3 342.7L489.3 347.7M497.1 354.9L497.1 364.8M498.0 354.9L498.0 367.7M497.1 354.9L498.0 354.9M497.5 350.9L497.5 354.9M498.9 350.9L498.9 362.4M499.8 356.3L499.8 358.7M500.7 356.3L500.7 367.6M499.8 356.3L500.7 356.3M500.2 350.9L500.2 356.3M501.6 350.9L501.6 361.3M502.5 350.9L502.5 364.9M503.3 350.9L503.3 352.9M501.6 350.9L503.3 350.9M500.2 350.9L502.4 350.9M498.9 350.9L501.3 350.9M497.5 350.9L500.1 350.9M498.8 349.1L498.8 350.9M498.8 347.5L498.8 349.1M503.4 354.1L503.4 358.9M504.3 355.9L504.3 361.9M505.2 355.9L505.2 365.1M506.1 355.9L506.1 359.1M504.3 355.9L506.1 355.9M505.2 355.1L505.2 355.9M507.0 359.2L507.0 361.8M507.9 359.2L507.9 365.4M507.0 359.2L507.9 359.2M507.4 355.9L507.4 359.2M508.8 359.9L508.8 367.8M509.7 359.9L509.7 363.0M508.8 359.9L509.7 359.9M509.2 356.5L509.2 359.9M510.6 357.6L510.6 364.8M511.5 357.6L511.5 359.6M510.6 357.6L511.5 357.6M511.0 357.4L511.0 357.6M512.4 357.6L512.4 368.0M513.3 357.6L513.3 362.3M514.2 357.6L514.2 359.5M515.1 357.6L515.1 364.8M513.3 357.6L515.1 357.6M512.4 357.6L514.2 357.6M513.3 357.4L513.3 357.6M511.0 357.4L513.3 357.4M512.2 356.5L512.2 357.4M509.2 356.5L512.2 356.5M510.7 355.9L510.7 356.5M507.4 355.9L510.7 355.9M509.1 355.1L509.1 355.9M505.2 355.1L509.1 355.1M507.1 354.1L507.1 355.1M503.4 354.1L507.1 354.1M505.3 353.7L505.3 354.1M505.3 347.5L505.3 353.7M516.0 357.2L516.0 362.9M516.9 357.2L516.9 360.2M517.8 357.2L517.8 366.1M516.0 357.2L517.8 357.2M516.9 351.0L516.9 357.2M516.9 347.5L516.9 351.0M518.7 359.3L518.7 370.7M519.6 361.5L519.6 363.2M520.5 361.5L520.5 368.2M519.6 361.5L520.5 361.5M520.0 360.3L520.0 361.5M521.4 360.3L521.4 370.9M522.3 360.3L522.3 362.1M521.4 360.3L522.3 360.3M520.0 360.3L521.8 360.3M520.9 359.3L520.9 360.3M518.7 359.3L520.9 359.3M519.8 356.1L519.8 359.3M523.2 356.1L523.2 365.6M524.1 356.7L524.1 363.3M525.0 357.6L525.0 360.1M525.9 357.6L525.9 367.1M526.8 357.6L526.8 363.6M527.7 357.6L527.7 359.4M525.0 357.6L527.7 357.6M526.3 356.7L526.3 357.6M524.1 356.7L526.3 356.7M525.2 356.1L525.2 356.7M528.6 361.7L528.6 367.2M529.5 361.7L529.5 364.4M528.6 361.7L529.5 361.7M529.0 358.0L529.0 361.7M530.4 358.0L530.4 359.9M531.3 358.0L531.3 366.9M532.2 358.0L532.2 362.3M530.4 358.0L532.2 358.0M533.1 362.0L533.1 364.2M534.0 362.0L534.0 369.3M534.9 362.0L534.9 371.7M533.1 362.0L534.9 362.0M534.0 358.0L534.0 362.0M531.3 358.0L534.0 358.0M529.0 358.0L532.6 358.0M530.8 356.1L530.8 358.0M535.8 360.8L535.8 365.8M536.7 360.8L536.7 369.4M537.6 360.8L537.6 371.9M535.8 360.8L537.6 360.8M536.7 356.1L536.7 360.8M538.5 363.7L538.5 366.9M539.4 363.7L539.4 369.4M538.5 363.7L539.4 363.7M538.9 358.3L538.9 363.7M540.3 362.3L540.3 372.2M541.2 362.9L541.2 364.8M542.1 362.9L542.1 369.6M543.0 362.9L543.0 368.5M541.2 362.9L543.0 362.9M542.1 362.3L542.1 362.9M540.3 362.3L542.1 362.3M541.2 358.3L541.2 362.3M538.9 358.3L541.2 358.3M540.1 356.1L540.1 358.3M519.8 356.1L540.1 356.1M529.9 355.6L529.9 356.1M529.9 347.5L529.9 355.6M543.7 365.4L543.7 380.0M543.9 365.4L543.9 373.2M543.7 365.4L543.9 365.4M543.8 360.2L543.8 365.4M544.8 364.5L544.8 372.6M545.7 366.4L545.7 368.8M546.3 366.4L546.3 384.5M546.6 366.4L546.6 374.9M545.7 366.4L546.6 366.4M546.1 364.5L546.1 366.4M544.8 364.5L546.1 364.5M545.5 360.2L545.5 364.5M543.8 360.2L545.5 360.2M544.6 354.5L544.6 360.2M544.6 347.5L544.6 354.5M547.5 364.8L547.5 371.8M548.4 364.8L548.4 369.4M547.5 364.8L548.4 364.8M547.9 360.9L547.9 364.8M547.9 347.5L547.9 360.9M549.3 347.5L549.3 373.8M550.2 360.0L550.2 366.6M551.1 360.0L551.1 369.1M550.2 360.0L551.1 360.0M550.6 353.6L550.6 360.0M552.0 362.2L552.0 364.0M552.9 362.2L552.9 366.7M553.8 362.2L553.8 369.9M552.0 362.2L553.8 362.2M552.9 361.0L552.9 362.2M554.7 361.0L554.7 363.1M555.6 361.0L555.6 365.5M554.7 361.0L555.6 361.0M552.9 361.0L555.1 361.0M554.0 358.8L554.0 361.0M556.5 359.3L556.5 368.8M557.4 359.3L557.4 361.2M558.3 359.8L558.3 364.1M559.2 359.8L559.2 367.8M560.1 359.8L560.1 361.4M558.3 359.8L560.1 359.8M559.2 359.3L559.2 359.8M557.4 359.3L559.2 359.3M556.5 359.3L558.3 359.3M557.4 358.8L557.4 359.3M554.0 358.8L557.4 358.8M555.7 357.7L555.7 358.8M561.0 361.5L561.0 364.7M561.9 361.5L561.9 367.3M561.0 361.5L561.9 361.5M561.4 357.7L561.4 361.5M555.7 357.7L561.4 357.7M558.6 353.6L558.6 357.7M562.8 355.2L562.8 370.7M563.4 358.8L563.4 373.8M563.7 358.8L563.7 362.3M563.4 358.8L563.7 358.8M563.5 355.2L563.5 358.8M564.6 355.2L564.6 365.0M565.5 355.2L565.5 367.6M566.4 355.2L566.4 359.7M562.8 355.2L566.4 355.2M564.6 353.6L564.6 355.2M567.3 358.2L567.3 363.9M568.2 358.2L568.2 368.9M569.1 358.2L569.1 361.4M567.3 358.2L569.1 358.2M568.2 353.6L568.2 358.2M570.0 356.9L570.0 364.5M570.9 356.9L570.9 369.1M571.8 356.9L571.8 362.9M572.7 356.9L572.7 366.5M573.6 356.9L573.6 369.3M570.0 356.9L573.6 356.9M571.8 353.6L571.8 356.9M550.6 353.6L571.8 353.6M561.2 351.6L561.2 353.6M561.2 347.5L561.2 351.6M574.5 357.8L574.5 363.9M575.4 357.8L575.4 366.8M574.5 357.8L575.4 357.8M574.9 355.8L574.9 357.8M576.3 355.8L576.3 370.3M577.2 355.8L577.2 371.6M578.1 355.8L578.1 366.2M579.0 355.8L579.0 363.0M574.9 355.8L579.0 355.8M577.0 353.4L577.0 355.8M577.0 347.5L577.0 353.4M579.9 362.5L579.9 369.4M580.8 362.5L580.8 366.6M579.9 362.5L580.8 362.5M580.3 353.9L580.3 362.5M581.7 359.3L581.7 363.4M582.6 359.3L582.6 368.9M583.5 359.3L583.5 366.4M581.7 359.3L583.5 359.3M582.6 355.7L582.6 359.3M584.4 355.7L584.4 361.6M582.6 355.7L584.4 355.7M583.5 353.9L583.5 355.7M580.3 353.9L583.5 353.9M581.9 350.6L581.9 353.9M581.9 347.5L581.9 350.6M585.3 356.8L585.3 367.8M586.2 356.8L586.2 364.9M585.3 356.8L586.2 356.8M585.7 351.6L585.7 356.8M585.7 347.5L585.7 351.6M587.1 355.8L587.1 359.7M588.0 355.8L588.0 357.8M588.9 355.8L588.9 362.9M587.1 355.8L588.9 355.8M588.0 353.7L588.0 355.8M589.8 357.7L589.8 367.0M590.7 357.7L590.7 359.7M589.8 357.7L590.7 357.7M590.2 357.3L590.2 357.7M591.6 357.3L591.6 362.1M592.5 357.3L592.5 365.5M590.2 357.3L592.5 357.3M591.4 356.9L591.4 357.3M593.4 360.7L593.4 368.6M594.3 360.7L594.3 362.5M595.2 360.7L595.2 366.2M593.4 360.7L595.2 360.7M594.3 358.9L594.3 360.7M596.1 360.3L596.1 369.0M597.0 360.9L597.0 363.5M597.9 360.9L597.9 366.5M598.8 360.9L598.8 366.5M597.0 360.9L598.8 360.9M597.9 360.3L597.9 360.9M596.1 360.3L597.9 360.3M597.0 358.9L597.0 360.3M594.3 358.9L597.0 358.9M595.6 356.9L595.6 358.9M591.4 356.9L595.6 356.9M593.5 353.7L593.5 356.9M588.0 353.7L593.5 353.7M590.8 351.9L590.8 353.7M590.8 347.5L590.8 351.9M599.7 358.1L599.7 360.2M600.6 358.1L600.6 362.5M601.5 358.1L601.5 367.1M599.7 358.1L601.5 358.1M602.4 362.8L602.4 367.6M603.3 362.8L603.3 370.2M602.4 362.8L603.3 362.8M602.8 358.1L602.8 362.8M600.6 358.1L602.8 358.1M604.2 358.1L604.2 361.2M601.7 358.1L604.2 358.1M603.0 353.1L603.0 358.1M603.0 347.5L603.0 353.1M605.0 371.0L605.0 378.0M605.1 371.0L605.1 373.5M606.0 371.0L606.0 376.8M605.0 371.0L606.0 371.0M605.5 363.6L605.5 371.0M605.5 347.5L605.5 363.6M606.8 365.7L606.8 380.5M606.9 365.7L606.9 368.4M607.8 365.7L607.8 371.3M606.8 365.7L607.8 365.7M607.3 362.4L607.3 365.7M607.3 347.5L607.3 362.4M608.1 366.6L608.1 384.1M608.7 366.6L608.7 372.3M608.1 366.6L608.7 366.6M608.4 354.9L608.4 366.6M609.6 359.9L609.6 364.4M610.5 359.9L610.5 367.6M611.4 359.9L611.4 362.0M609.6 359.9L611.4 359.9M610.5 356.2L610.5 359.9M612.3 356.2L612.3 358.2M613.2 356.2L613.2 365.0M612.3 356.2L613.2 356.2M610.5 356.2L612.7 356.2M611.6 355.6L611.6 356.2M614.1 355.6L614.1 361.2M611.6 355.6L614.1 355.6M612.9 354.9L612.9 355.6M608.4 354.9L612.9 354.9M610.6 353.9L610.6 354.9M615.0 355.0L615.0 357.7M615.9 356.4L615.9 363.9M616.8 356.8L616.8 361.0M617.7 356.8L617.7 358.6M616.8 356.8L617.7 356.8M618.6 361.8L618.6 363.8M619.5 361.8L619.5 366.1M618.6 361.8L619.5 361.8M619.0 356.8L619.0 361.8M617.2 356.8L619.0 356.8M618.1 356.4L618.1 356.8M615.9 356.4L618.1 356.4M617.0 355.0L617.0 356.4M615.0 355.0L617.0 355.0M616.0 353.9L616.0 355.0M610.6 353.9L616.0 353.9M613.3 351.7L613.3 353.9M613.3 347.5L613.3 351.7M620.4 355.9L620.4 359.7M621.3 355.9L621.3 363.8M620.4 355.9L621.3 355.9M620.8 355.0L620.8 355.9M622.2 357.1L622.2 366.9M623.1 357.1L623.1 360.5M622.2 357.1L623.1 357.1M622.6 355.0L622.6 357.1M620.8 355.0L622.6 355.0M621.7 350.6L621.7 355.0M621.7 347.5L621.7 350.6M624.0 348.1L624.0 363.7M624.9 348.1L624.9 366.7M625.0 348.1L625.0 349.9M624.0 348.1L625.0 348.1M624.5 347.5L624.5 348.1M625.8 347.5L625.8 361.0M626.7 354.5L626.7 357.5M627.6 354.5L627.6 356.3M628.5 354.5L628.5 360.1M626.7 354.5L628.5 354.5M627.6 352.7L627.6 354.5M629.4 352.7L629.4 354.5M629.8 352.7L629.8 379.0M629.4 352.7L629.8 352.7M627.6 352.7L629.6 352.7M628.6 352.2L628.6 352.7M630.1 353.5L630.1 375.5M630.3 353.5L630.3 357.2M630.1 353.5L630.3 353.5M630.2 352.2L630.2 353.5M628.6 352.2L630.2 352.2M629.4 350.2L629.4 352.2M631.2 353.9L631.2 360.8M632.1 353.9L632.1 355.7M633.0 353.9L633.0 363.3M631.2 353.9L633.0 353.9M633.9 353.9L633.9 360.0M634.8 353.9L634.8 356.8M632.1 353.9L634.8 353.9M633.4 352.1L633.4 353.9M635.7 358.9L635.7 365.1M636.6 358.9L636.6 369.2M635.7 358.9L636.6 358.9M636.1 352.1L636.1 358.9M633.4 352.1L636.1 352.1M634.8 350.2L634.8 352.1M629.4 350.2L634.8 350.2M632.1 349.1L632.1 350.2M632.1 347.5L632.1 349.1M637.5 358.8L637.5 361.0M638.4 358.8L638.4 363.8M637.5 358.8L638.4 358.8M637.9 358.2L637.9 358.8M638.9 359.1L638.9 381.7M639.3 359.1L639.3 366.8M640.2 359.1L640.2 361.4M638.9 359.1L640.2 359.1M639.5 358.2L639.5 359.1M637.9 358.2L639.5 358.2M638.7 356.4L638.7 358.2M638.7 347.5L638.7 356.4M641.1 357.3L641.1 363.8M642.0 359.1L642.0 366.6M642.9 359.6L642.9 361.2M643.8 359.6L643.8 370.5M644.7 359.6L644.7 365.7M642.9 359.6L644.7 359.6M645.0 360.0L645.0 382.5M645.6 360.0L645.6 370.2M646.5 360.0L646.5 362.4M645.0 360.0L646.5 360.0M645.7 359.6L645.7 360.0M647.4 359.6L647.4 367.2M648.3 359.6L648.3 364.8M649.2 359.6L649.2 361.4M647.4 359.6L649.2 359.6M645.7 359.6L648.3 359.6M643.8 359.6L647.0 359.6M645.4 359.1L645.4 359.6M642.0 359.1L645.4 359.1M643.7 357.3L643.7 359.1M641.1 357.3L643.7 357.3M642.4 356.0L642.4 357.3M650.1 358.2L650.1 367.4M651.0 358.2L651.0 364.7M651.9 358.2L651.9 370.0M650.1 358.2L651.9 358.2M651.0 356.0L651.0 358.2M642.4 356.0L651.0 356.0M646.7 352.5L646.7 356.0M646.7 347.5L646.7 352.5M652.8 362.6L652.8 367.4M653.5 362.6L653.5 398.1M653.7 362.6L653.7 364.9M654.0 362.6L654.0 395.3M654.6 362.6L654.6 369.9M655.0 362.6L655.0 400.0M652.8 362.6L655.0 362.6M653.9 360.3L653.9 362.6M655.5 363.2L655.5 372.6M656.4 365.6L656.4 374.7M657.3 365.6L657.3 367.4M658.2 365.6L658.2 371.5M656.4 365.6L658.2 365.6M657.3 363.2L657.3 365.6M655.5 363.2L657.3 363.2M656.4 360.3L656.4 363.2M653.9 360.3L656.4 360.3M655.1 354.8L655.1 360.3M655.1 347.5L655.1 354.8M659.1 364.9L659.1 374.9M660.0 367.5L660.0 375.7M660.9 367.5L660.9 371.8M661.8 367.5L661.8 369.4M662.7 367.5L662.7 375.8M661.8 367.5L662.7 367.5M660.0 367.5L662.2 367.5M661.1 364.9L661.1 367.5M659.1 364.9L661.1 364.9M660.1 351.8L660.1 364.9M660.1 347.5L660.1 351.8M663.6 359.9L663.6 372.5M664.5 359.9L664.5 368.0M665.4 359.9L665.4 374.9M663.6 359.9L665.4 359.9M664.5 353.5L664.5 359.9M664.5 347.5L664.5 353.5M666.3 363.7L666.3 370.8M667.2 366.4L667.2 368.1M668.1 366.4L668.1 373.6M669.0 366.4L669.0 368.6M667.2 366.4L669.0 366.4M668.1 365.7L668.1 366.4M669.9 365.7L669.9 371.2M668.1 365.7L669.9 365.7M669.0 363.7L669.0 365.7M666.3 363.7L669.0 363.7M667.6 358.4L667.6 363.7M667.6 347.5L667.6 358.4M670.8 366.3L670.8 374.5M671.7 366.8L671.7 376.3M672.6 366.8L672.6 368.9M673.5 367.6L673.5 373.6M674.4 367.6L674.4 376.4M675.3 367.6L675.3 369.8M673.5 367.6L675.3 367.6M674.4 366.8L674.4 367.6M672.6 366.8L674.4 366.8M671.7 366.8L673.5 366.8M672.6 366.3L672.6 366.8M670.8 366.3L672.6 366.3M671.7 362.3L671.7 366.3M676.2 364.5L676.2 373.9M677.1 364.5L677.1 369.3M676.2 364.5L677.1 364.5M676.6 363.3L676.6 364.5M678.0 369.6L678.0 376.4M678.9 369.6L678.9 373.5M678.0 369.6L678.9 369.6M678.4 367.2L678.4 369.6M679.8 368.7L679.8 371.2M680.7 369.5L680.7 376.0M681.6 369.5L681.6 374.3M682.5 369.5L682.5 371.3M683.4 369.5L683.4 376.9M682.5 369.5L683.4 369.5M680.7 369.5L682.9 369.5M681.8 368.7L681.8 369.5M679.8 368.7L681.8 368.7M680.8 367.2L680.8 368.7M678.4 367.2L680.8 367.2M679.6 364.9L679.6 367.2M684.3 368.5L684.3 370.2M685.2 368.5L685.2 373.1M684.3 368.5L685.2 368.5M684.7 367.7L684.7 368.5M686.1 368.1L686.1 375.8M687.0 368.1L687.0 370.5M687.9 368.1L687.9 372.9M686.1 368.1L687.9 368.1M687.0 367.7L687.0 368.1M684.7 367.7L687.0 367.7M685.9 364.9L685.9 367.7M679.6 364.9L685.9 364.9M682.8 363.3L682.8 364.9M676.6 363.3L682.8 363.3M679.7 362.3L679.7 363.3M671.7 362.3L679.7 362.3M675.7 358.4L675.7 362.3M675.7 347.5L675.7 358.4M688.8 352.9L688.8 375.6M689.7 369.9L689.7 377.2M690.6 369.9L690.6 372.7M691.5 369.9L691.5 376.9M689.7 369.9L691.5 369.9M690.6 369.3L690.6 369.9M692.4 369.3L692.4 377.4M690.6 369.3L692.4 369.3M691.5 354.1L691.5 369.3M693.3 355.0L693.3 373.1M694.2 357.4L694.2 376.8M695.1 357.4L695.1 374.0M696.0 370.2L696.0 373.5M696.9 370.2L696.9 376.5M696.0 370.2L696.9 370.2M696.4 357.4L696.4 370.2M697.8 357.4L697.8 373.8M698.7 357.4L698.7 369.9M699.6 357.4L699.6 359.1M698.7 357.4L699.6 357.4M695.1 357.4L699.1 357.4M694.2 357.4L697.1 357.4M695.7 355.6L695.7 357.4M700.5 356.5L700.5 362.2M701.4 356.5L701.4 358.2M702.3 356.5L702.3 359.0M703.2 356.5L703.2 364.5M704.1 356.5L704.1 361.5M705.0 356.5L705.0 366.8M701.4 356.5L705.0 356.5M700.5 356.5L703.2 356.5M701.8 355.6L701.8 356.5M695.7 355.6L701.8 355.6M698.8 355.0L698.8 355.6M693.3 355.0L698.8 355.0M696.0 354.1L696.0 355.0M691.5 354.1L696.0 354.1M693.8 353.6L693.8 354.1M705.9 360.6L705.9 364.3M706.8 360.6L706.8 369.9M707.7 360.6L707.7 366.7M705.9 360.6L707.7 360.6M706.8 359.8L706.8 360.6M708.6 359.8L708.6 372.3M706.8 359.8L708.6 359.8M707.7 353.6L707.7 359.8M709.5 370.4L709.5 376.5M710.4 371.5L710.4 373.3M711.3 371.5L711.3 379.0M712.2 371.5L712.2 375.7M710.4 371.5L712.2 371.5M711.3 370.4L711.3 371.5M709.5 370.4L711.3 370.4M710.4 363.7L710.4 370.4M713.0 363.7L713.0 388.4M710.4 363.7L713.0 363.7M711.7 353.6L711.7 363.7M693.8 353.6L711.7 353.6M702.7 352.9L702.7 353.6M688.8 352.9L702.7 352.9M695.8 350.4L695.8 352.9M695.8 347.5L695.8 350.4M713.1 366.9L713.1 379.3M714.0 369.8L714.0 373.7M714.9 373.9L714.9 376.7M715.8 373.9L715.8 379.3M714.9 373.9L715.8 373.9M715.3 371.8L715.3 373.9M716.7 372.7L716.7 375.0M717.6 375.0L717.6 382.0M718.5 375.0L718.5 386.1M719.4 375.0L719.4 377.3M717.6 375.0L719.4 375.0M718.5 372.7L718.5 375.0M716.7 372.7L718.5 372.7M717.6 371.8L717.6 372.7M715.3 371.8L717.6 371.8M716.5 369.8L716.5 371.8M714.0 369.8L716.5 369.8M715.2 366.9L715.2 369.8M713.1 366.9L715.2 366.9M714.2 365.0L714.2 366.9M714.2 350.0L714.2 365.0M719.6 371.7L719.6 389.3M720.3 374.5L720.3 379.9M721.2 374.5L721.2 382.3M722.1 374.5L722.1 376.6M720.3 374.5L722.1 374.5M721.2 371.7L721.2 374.5M723.0 371.7L723.0 379.3M723.9 371.7L723.9 382.5M724.8 371.7L724.8 387.6M725.7 371.7L725.7 385.2M719.6 371.7L725.7 371.7M722.6 368.1L722.6 371.7M726.6 375.7L726.6 390.1M727.5 375.7L727.5 380.3M726.6 375.7L727.5 375.7M727.0 373.8L727.0 375.7M728.4 378.5L728.4 384.7M729.3 378.5L729.3 387.7M730.2 378.5L730.2 380.3M728.4 378.5L730.2 378.5M729.3 376.2L729.3 378.5M731.1 378.3L731.1 385.0M731.7 378.3L731.7 389.3M732.0 378.3L732.0 383.1M731.1 378.3L732.0 378.3M731.5 376.2L731.5 378.3M729.3 376.2L731.5 376.2M730.4 373.8L730.4 376.2M727.0 373.8L730.4 373.8M728.7 368.1L728.7 373.8M722.6 368.1L728.7 368.1M725.7 365.0L725.7 368.1M732.9 367.9L732.9 380.5M733.8 370.0L733.8 387.3M734.7 370.0L734.7 384.1M735.6 370.0L735.6 376.4M733.8 370.0L735.6 370.0M734.7 367.9L734.7 370.0M732.9 367.9L734.7 367.9M733.8 365.0L733.8 367.9M725.7 365.0L733.8 365.0M729.7 357.7L729.7 365.0M729.7 350.0L729.7 357.7M736.4 366.1L736.4 391.5M736.5 366.1L736.5 381.0M737.4 366.1L737.4 383.3M736.4 366.1L737.4 366.1M736.9 356.2L736.9 366.1M736.9 349.4L736.9 356.2M738.3 369.2L738.3 378.3M738.3 369.2L738.3 387.8M738.3 369.2L738.3 369.2M738.3 352.9L738.3 369.2M739.2 355.5L739.2 375.8M740.1 355.5L740.1 369.7M741.0 355.5L741.0 357.9M739.2 355.5L741.0 355.5M740.1 355.0L740.1 355.5M741.9 356.3L741.9 362.3M742.8 356.3L742.8 358.3M741.9 356.3L742.8 356.3M742.3 355.0L742.3 356.3M740.1 355.0L742.3 355.0M741.2 353.8L741.2 355.0M743.7 355.6L743.7 363.5M744.6 355.6L744.6 360.7M745.5 355.6L745.5 358.4M743.7 355.6L745.5 355.6M744.6 353.8L744.6 355.6M741.2 353.8L744.6 353.8M742.9 352.9L742.9 353.8M746.4 357.3L746.4 365.3M747.3 357.3L747.3 362.9M746.4 357.3L747.3 357.3M746.8 352.9L746.8 357.3M748.2 356.6L748.2 366.5M749.1 356.6L749.1 366.5M748.2 356.6L749.1 356.6M748.6 352.9L748.6 356.6M738.3 352.9L748.6 352.9M743.5 352.1L743.5 352.9M743.5 349.4L743.5 352.1M750.0 356.4L750.0 361.9M750.9 356.4L750.9 367.9M751.8 356.4L751.8 365.2M750.0 356.4L751.8 356.4M750.9 352.0L750.9 356.4M750.9 349.4L750.9 352.0M752.7 360.1L752.7 366.2M753.6 360.4L753.6 362.2M754.5 360.4L754.5 368.6M753.6 360.4L754.5 360.4M755.4 360.7L755.4 365.3M756.3 360.7L756.3 362.6M755.4 360.7L756.3 360.7M755.8 360.4L755.8 360.7M754.0 360.4L755.8 360.4M754.9 360.1L754.9 360.4M752.7 360.1L754.9 360.1M753.8 358.3L753.8 360.1M753.8 349.4L753.8 358.3M757.2 361.9L757.2 368.3M758.1 361.9L758.1 365.6M757.2 361.9L758.1 361.9M757.6 357.0L757.6 361.9M757.6 349.4L757.6 357.0M759.0 357.2L759.0 359.7M759.9 357.2L759.9 362.6M760.8 357.2L760.8 367.9M759.0 357.2L760.8 357.2M759.9 353.7L759.9 357.2M759.9 349.4L759.9 353.7M761.7 349.4L761.7 365.3M762.6 365.0L762.6 370.2M763.0 365.0L763.0 379.5M762.6 365.0L763.0 365.0M762.8 353.9L762.8 365.0M763.5 353.9L763.5 370.1M764.4 361.4L764.4 366.1M765.3 361.4L765.3 370.7M766.2 363.8L766.2 365.7M767.1 363.8L767.1 368.4M766.2 363.8L767.1 363.8M766.6 361.4L766.6 363.8M764.4 361.4L766.6 361.4M765.5 357.6L765.5 361.4M768.0 359.1L768.0 371.1M768.9 362.3L768.9 365.7M769.8 362.3L769.8 368.4M768.9 362.3L769.8 362.3M769.3 361.2L769.3 362.3M770.7 361.2L770.7 371.5M771.6 361.2L771.6 366.1M772.5 361.2L772.5 368.7M773.4 361.2L773.4 368.2M769.3 361.2L773.4 361.2M771.4 359.9L771.4 361.2M774.3 359.9L774.3 362.2M775.2 359.9L775.2 365.0M775.2 363.5L775.2 384.1M776.1 363.5L776.1 367.9M775.2 363.5L776.1 363.5M775.6 359.9L775.6 363.5M777.0 359.9L777.0 361.7M774.3 359.9L777.0 359.9M777.9 359.9L777.9 364.9M775.6 359.9L777.9 359.9M771.4 359.9L776.8 359.9M774.1 359.1L774.1 359.9M768.0 359.1L774.1 359.1M771.0 358.4L771.0 359.1M778.8 362.6L778.8 367.3M779.7 362.6L779.7 370.0M778.8 362.6L779.7 362.6M779.2 358.4L779.2 362.6M771.0 358.4L779.2 358.4M775.1 357.6L775.1 358.4M765.5 357.6L775.1 357.6M770.3 356.5L770.3 357.6M780.6 356.5L780.6 364.0M770.3 356.5L780.6 356.5M775.5 353.9L775.5 356.5M781.5 358.3L781.5 367.1M781.6 358.3L781.6 374.8M782.4 358.3L782.4 360.2M781.5 358.3L782.4 358.3M783.3 358.3L783.3 362.6M781.9 358.3L783.3 358.3M782.6 357.5L782.6 358.3M784.2 357.5L784.2 365.8M782.6 357.5L784.2 357.5M783.4 353.9L783.4 357.5M762.8 353.9L783.4 353.9M773.1 353.3L773.1 353.9M773.1 349.4L773.1 353.3M785.1 357.3L785.1 360.0M786.0 360.4L786.0 363.1M786.9 360.4L786.9 366.7M786.0 360.4L786.9 360.4M786.4 358.8L786.4 360.4M787.8 358.8L787.8 360.7M788.7 358.8L788.7 364.4M787.8 358.8L788.7 358.8M786.4 358.8L788.2 358.8M787.3 357.3L787.3 358.8M789.6 357.3L789.6 367.8M790.5 357.3L790.5 367.8M791.4 360.2L791.4 365.1M792.3 360.2L792.3 362.6M793.2 360.2L793.2 367.4M791.4 360.2L793.2 360.2M792.3 357.3L792.3 360.2M785.1 357.3L792.3 357.3M788.7 356.1L788.7 357.3M788.7 349.4L788.7 356.1M794.1 356.6L794.1 358.7M795.0 356.6L795.0 364.2M794.1 356.6L795.0 356.6M794.5 354.2L794.5 356.6M795.9 355.4L795.9 366.7M796.8 355.4L796.8 360.6M797.7 355.4L797.7 357.1M795.9 355.4L797.7 355.4M796.8 354.2L796.8 355.4M798.6 356.0L798.6 367.8M799.5 356.0L799.5 365.4M800.4 358.8L800.4 362.6M801.3 358.8L801.3 368.8M802.2 358.8L802.2 365.7M800.4 358.8L802.2 358.8M801.3 356.0L801.3 358.8M803.1 359.5L803.1 367.4M804.0 359.5L804.0 362.6M804.9 359.5L804.9 361.7M803.1 359.5L804.9 359.5M804.0 356.0L804.0 359.5M798.6 356.0L804.0 356.0M801.3 354.2L801.3 356.0M805.8 354.2L805.8 365.7M794.5 354.2L805.8 354.2M800.2 354.0L800.2 354.2M800.2 349.4L800.2 354.0M806.7 355.2L806.7 358.0M807.6 355.2L807.6 363.1M808.5 355.2L808.5 359.1M806.7 355.2L808.5 355.2M807.6 352.7L807.6 355.2M809.4 352.7L809.4 356.8M810.3 352.7L810.3 362.5M811.2 352.7L811.2 354.7M809.4 352.7L811.2 352.7M807.6 352.7L810.3 352.7M808.9 351.5L808.9 352.7M808.9 349.4L808.9 351.5M812.1 355.7L812.1 358.9M813.0 355.7L813.0 361.6M812.1 355.7L813.0 355.7M812.5 352.3L812.5 355.7M813.9 353.1L813.9 356.0M814.8 353.1L814.8 359.2M815.7 353.1L815.7 361.7M813.9 353.1L815.7 353.1M814.8 352.3L814.8 353.1M816.6 353.4L816.6 365.6M817.5 353.4L817.5 359.0M818.4 353.4L818.4 361.7M819.3 353.4L819.3 355.7M816.6 353.4L819.3 353.4M817.9 352.3L817.9 353.4M820.2 355.3L820.2 359.1M821.1 355.3L821.1 362.4M822.0 355.3L822.0 365.3M820.2 355.3L822.0 355.3M821.1 352.3L821.1 355.3M822.9 353.9L822.9 359.1M823.8 353.9L823.8 361.5M822.9 353.9L823.8 353.9M823.3 352.3L823.3 353.9M812.5 352.3L823.3 352.3M817.9 351.8L817.9 352.3M817.9 349.4L817.9 351.8M824.7 354.8L824.7 364.4M825.6 356.0L825.6 367.0M826.5 356.0L826.5 359.5M827.4 356.0L827.4 363.1M828.3 356.0L828.3 359.1M825.6 356.0L828.3 356.0M826.9 354.8L826.9 356.0M824.7 354.8L826.9 354.8M825.8 353.3L825.8 354.8M825.8 349.4L825.8 353.3M828.3 352.0L828.3 378.1M829.2 355.7L829.2 357.5M830.1 355.7L830.1 362.0M829.2 355.7L830.1 355.7M831.0 357.2L831.0 364.3M831.9 357.2L831.9 359.1M832.8 359.4L832.8 361.6M833.7 359.4L833.7 365.6M832.8 359.4L833.7 359.4M833.2 357.2L833.2 359.4M831.0 357.2L833.2 357.2M834.6 359.6L834.6 370.0M835.5 359.6L835.5 363.2M834.6 359.6L835.5 359.6M835.0 357.2L835.0 359.6M832.1 357.2L835.0 357.2M833.6 355.7L833.6 357.2M829.6 355.7L833.6 355.7M831.6 354.6L831.6 355.7M836.4 357.1L836.4 371.3M837.3 357.1L837.3 360.5M838.2 357.1L838.2 365.3M836.4 357.1L838.2 357.1M837.3 354.6L837.3 357.1M839.1 354.6L839.1 356.6M837.3 354.6L839.1 354.6M831.6 354.6L838.2 354.6M834.9 353.2L834.9 354.6M840.0 356.8L840.0 359.4M840.9 356.8L840.9 362.9M840.0 356.8L840.9 356.8M840.4 354.9L840.4 356.8M841.8 354.9L841.8 356.8M842.7 354.9L842.7 360.4M843.0 354.9L843.0 376.2M841.8 354.9L843.0 354.9M843.6 354.9L843.6 358.8M842.4 354.9L843.6 354.9M840.4 354.9L843.0 354.9M841.7 353.6L841.7 354.9M844.5 354.4L844.5 356.0M845.4 354.4L845.4 362.1M846.3 354.4L846.3 368.1M844.5 354.4L846.3 354.4M847.2 359.9L847.2 365.3M848.1 360.3L848.1 362.2M849.0 360.3L849.0 368.6M848.1 360.3L849.0 360.3M848.5 359.9L848.5 360.3M849.9 359.9L849.9 364.9M847.2 359.9L849.9 359.9M848.5 354.4L848.5 359.9M845.4 354.4L848.5 354.4M847.0 353.6L847.0 354.4M841.7 353.6L847.0 353.6M844.3 353.4L844.3 353.6M850.8 354.1L850.8 356.3M851.7 354.1L851.7 359.7M850.8 354.1L851.7 354.1M851.2 353.4L851.2 354.1M844.3 353.4L851.2 353.4M847.8 353.2L847.8 353.4M834.9 353.2L847.8 353.2M841.4 352.0L841.4 353.2M828.3 352.0L841.4 352.0M834.8 350.5L834.8 352.0M834.8 349.4L834.8 350.5M852.6 360.1L852.6 362.5M853.5 360.1L853.5 365.6M852.6 360.1L853.5 360.1M853.0 354.2L853.0 360.1M854.4 354.7L854.4 356.8M855.3 354.7L855.3 359.9M856.2 354.7L856.2 362.5M854.4 354.7L856.2 354.7M857.1 354.7L857.1 357.3M855.3 354.7L857.1 354.7M856.2 354.2L856.2 354.7M853.0 354.2L856.2 354.2M854.6 353.8L854.6 354.2M854.6 351.4L854.6 353.8M858.0 355.4L858.0 359.6M858.9 358.6L858.9 363.5M859.8 358.6L859.8 366.2M860.7 358.6L860.7 360.9M858.9 358.6L860.7 358.6M859.8 355.4L859.8 358.6M861.6 355.4L861.6 357.3M859.8 355.4L861.6 355.4M858.0 355.4L860.7 355.4M859.3 354.7L859.3 355.4M859.3 351.4L859.3 354.7M862.2 361.0L862.2 376.2M862.5 361.0L862.5 363.3M862.2 361.0L862.5 361.0M862.3 358.1L862.3 361.0M863.4 358.1L863.4 359.6M864.3 359.9L864.3 365.9M865.2 359.9L865.2 362.4M866.1 359.9L866.1 370.4M864.3 359.9L866.1 359.9M865.2 358.1L865.2 359.9M863.4 358.1L865.2 358.1M867.0 358.1L867.0 367.1M864.3 358.1L867.0 358.1M862.3 358.1L865.6 358.1M867.9 358.1L867.9 365.6M868.8 358.1L868.8 370.6M869.7 358.1L869.7 359.9M870.6 358.1L870.6 364.9M868.8 358.1L870.6 358.1M871.5 358.1L871.5 362.4M869.7 358.1L871.5 358.1M867.9 358.1L870.6 358.1M864.0 358.1L869.2 358.1M866.6 357.5L866.6 358.1M872.4 357.7L872.4 359.8M873.3 357.7L873.3 365.9M872.4 357.7L873.3 357.7M872.8 357.5L872.8 357.7M866.6 357.5L872.8 357.5M869.7 357.3L869.7 357.5M869.7 354.2L869.7 357.3M874.2 358.0L874.2 363.2M875.1 358.0L875.1 359.9M874.2 358.0L875.1 358.0M876.0 359.7L876.0 365.9M876.9 360.2L876.9 362.3M877.8 360.2L877.8 368.5M878.7 360.2L878.7 365.7M876.9 360.2L878.7 360.2M877.8 359.7L877.8 360.2M876.0 359.7L877.8 359.7M876.9 358.0L876.9 359.7M874.6 358.0L876.9 358.0M875.8 355.6L875.8 358.0M875.8 354.2L875.8 355.6M879.6 358.8L879.6 363.3M880.5 358.8L880.5 368.3M881.4 358.8L881.4 360.7M879.6 358.8L881.4 358.8M880.5 357.4L880.5 358.8M882.3 357.9L882.3 363.2M883.2 358.4L883.2 366.2M884.1 358.4L884.1 360.3M885.0 358.4L885.0 362.7M885.9 358.4L885.9 366.9M884.1 358.4L885.9 358.4M883.2 358.4L885.0 358.4M886.8 359.1L886.8 369.7M887.7 359.1L887.7 361.7M886.8 359.1L887.7 359.1M887.2 358.4L887.2 359.1M884.1 358.4L887.2 358.4M885.7 357.9L885.7 358.4M882.3 357.9L885.7 357.9M884.0 357.4L884.0 357.9M880.5 357.4L884.0 357.4M882.2 355.7L882.2 357.4M882.2 354.2L882.2 355.7M888.6 354.2L888.6 365.9M889.5 357.9L889.5 369.2M890.4 359.5L890.4 361.6M891.3 359.5L891.3 365.0M890.4 359.5L891.3 359.5M890.8 358.3L890.8 359.5M892.2 358.4L892.2 367.9M893.1 358.4L893.1 360.4M892.2 358.4L893.1 358.4M894.0 361.2L894.0 364.3M894.9 361.2L894.9 367.0M894.0 361.2L894.9 361.2M894.4 359.3L894.4 361.2M895.8 359.3L895.8 361.7M896.7 359.3L896.7 364.2M897.6 359.3L897.6 367.6M898.5 359.3L898.5 370.9M894.4 359.3L898.5 359.3M896.5 358.4L896.5 359.3M892.6 358.4L896.5 358.4M899.4 361.5L899.4 366.4M900.3 361.5L900.3 373.8M899.4 361.5L900.3 361.5M899.8 358.4L899.8 361.5M901.2 358.4L901.2 369.3M902.1 358.4L902.1 370.7M903.0 367.7L903.0 375.0M903.9 370.3L903.9 378.9M904.8 370.3L904.8 372.4M905.7 370.3L905.7 376.6M903.9 370.3L905.7 370.3M904.8 370.1L904.8 370.3M906.6 370.1L906.6 377.9M904.8 370.1L906.6 370.1M905.7 367.7L905.7 370.1M903.0 367.7L905.7 367.7M904.3 358.4L904.3 367.7M907.5 362.7L907.5 371.7M908.4 362.7L908.4 369.3M909.3 362.7L909.3 376.2M910.2 362.7L910.2 372.7M907.5 362.7L910.2 362.7M908.8 358.4L908.8 362.7M894.6 358.4L908.8 358.4M911.1 361.9L911.1 368.7M912.0 361.9L912.0 375.5M912.9 361.9L912.9 371.4M911.1 361.9L912.9 361.9M912.0 358.4L912.0 361.9M901.7 358.4L912.0 358.4M906.9 358.3L906.9 358.4M913.8 358.3L913.8 369.0M890.8 358.3L913.8 358.3M902.3 357.9L902.3 358.3M889.5 357.9L902.3 357.9M895.9 357.6L895.9 357.9M895.9 354.2L895.9 357.6M914.7 360.6L914.7 366.6M915.6 362.0L915.6 372.9M916.5 362.0L916.5 370.5M917.4 362.0L917.4 364.9M918.3 362.0L918.3 363.8M916.5 362.0L918.3 362.0M915.6 362.0L917.4 362.0M919.2 362.0L919.2 367.9M916.5 362.0L919.2 362.0M917.8 360.6L917.8 362.0M914.7 360.6L917.8 360.6M916.3 359.1L916.3 360.6M916.3 354.2L916.3 359.1M920.1 361.8L920.1 370.7M921.0 361.8L921.0 364.8M920.1 361.8L921.0 361.8M920.5 357.7L920.5 361.8M921.9 360.6L921.9 367.3M922.8 360.6L922.8 362.4M921.9 360.6L922.8 360.6M922.3 359.8L922.3 360.6M923.7 360.7L923.7 364.7M924.6 360.7L924.6 367.2M925.5 360.7L925.5 362.4M926.4 360.7L926.4 364.8M924.6 360.7L926.4 360.7M927.3 360.7L927.3 365.5M925.5 360.7L927.3 360.7M923.7 360.7L926.4 360.7M925.0 359.8L925.0 360.7M922.3 359.8L925.0 359.8M923.7 357.7L923.7 359.8M920.5 357.7L923.7 357.7M922.1 355.6L922.1 357.7M922.1 354.2L922.1 355.6" fill="none" stroke="#a9b3bd" stroke-width="0.85" stroke-linecap="square"/>
<path d="M147.7 20.5L147.7 37.4" stroke="#222" stroke-width="1" fill="none"/>
<path d="M60.0 79.4V84.6" stroke="#fff" stroke-width="2.4" fill="none"/>
<path d="M53.85 73.1L66.15 85.0M53.85 79.0L66.15 90.9" stroke="#97a2ad" stroke-width="0.9" fill="none"/>
<path d="M241.5 98.9V104.1" stroke="#fff" stroke-width="2.4" fill="none"/>
<path d="M235.35 92.6L247.65 104.5M235.35 98.5L247.65 110.4" stroke="#97a2ad" stroke-width="0.9" fill="none"/>
<text x="72.1" y="90.6" font-size="11" textLength="62.2" lengthAdjust="spacingAndGlyphs" fill="#2e2e2e" stroke="#333" stroke-width="0.28">P1 subtype 2</text>
<text x="253.2" y="110.6" font-size="11" textLength="62.2" lengthAdjust="spacingAndGlyphs" fill="#2e2e2e" stroke="#333" stroke-width="0.28">P1 subtype 1</text>
<path d="M402.7 181.1V223.4M399 181.1H406.6M399 223.4H406.6" stroke="#444" stroke-width="0.9" fill="none"/>
<text x="349.5" y="205.8" font-size="11" textLength="46.0" lengthAdjust="spacingAndGlyphs" fill="#2e2e2e" stroke="#333" stroke-width="0.28">Tree scale</text>
<text x="408.5" y="205.8" font-size="11" textLength="40.3" lengthAdjust="spacingAndGlyphs" fill="#2e2e2e" stroke="#333" stroke-width="0.28">30 SNPs</text>
<g stroke="#231e1e" stroke-width="0.95"><circle cx="24.2" cy="261.9" r="1.75" fill="#fbbe84"/><circle cx="25.9" cy="278.1" r="1.75" fill="#fbbe84"/><circle cx="24.9" cy="281.8" r="1.75" fill="#fbbe84"/><circle cx="27.9" cy="282.2" r="1.75" fill="#fbbe84"/><circle cx="27.3" cy="285.3" r="1.75" fill="#fbbe84"/><circle cx="29.4" cy="288.6" r="1.75" fill="#fbbe84"/><circle cx="30.4" cy="292.1" r="1.75" fill="#fbbe84"/><circle cx="34.9" cy="293.5" r="1.75" fill="#fbbe84"/><circle cx="37.6" cy="293.1" r="1.75" fill="#fbbe84"/><circle cx="38.0" cy="296.8" r="1.75" fill="#fbbe84"/><circle cx="23.2" cy="302.3" r="1.75" fill="#fbbe84"/><circle cx="31.4" cy="304.4" r="1.75" fill="#fbbe84"/><circle cx="35.5" cy="301.3" r="1.75" fill="#fbbe84"/><circle cx="41.3" cy="301.3" r="1.75" fill="#fbbe84"/><circle cx="43.1" cy="305.4" r="1.75" fill="#fbbe84"/><circle cx="45.8" cy="305.0" r="1.75" fill="#fbbe84"/><circle cx="34.1" cy="308.9" r="1.75" fill="#fbbe84"/><circle cx="40.0" cy="308.5" r="1.75" fill="#fbbe84"/><circle cx="44.3" cy="311.6" r="1.75" fill="#fbbe84"/><circle cx="32.9" cy="315.3" r="1.75" fill="#fbbe84"/><circle cx="46.8" cy="316.7" r="1.75" fill="#fbbe84"/><circle cx="49.3" cy="317.7" r="1.75" fill="#fbbe84"/><circle cx="47.8" cy="321.4" r="1.75" fill="#fbbe84"/><circle cx="54.0" cy="328.0" r="1.75" fill="#fbbe84"/><circle cx="51.9" cy="330.0" r="1.75" fill="#fbbe84"/><circle cx="55.0" cy="333.1" r="1.75" fill="#fbbe84"/><circle cx="59.1" cy="332.7" r="1.75" fill="#fbbe84"/><circle cx="50.9" cy="335.8" r="1.75" fill="#fbbe84"/><circle cx="56.0" cy="337.2" r="1.75" fill="#fbbe84"/><circle cx="50.3" cy="339.9" r="1.75" fill="#fbbe84"/><circle cx="53.0" cy="341.3" r="1.75" fill="#fbbe84"/><circle cx="57.7" cy="345.8" r="1.75" fill="#fbbe84"/><circle cx="63.6" cy="288.0" r="1.75" fill="#fbbe84"/><circle cx="64.7" cy="292.1" r="1.75" fill="#fbbe84"/><circle cx="72.7" cy="293.1" r="1.75" fill="#fbbe84"/><circle cx="63.2" cy="298.2" r="1.75" fill="#fbbe84"/><circle cx="62.2" cy="300.3" r="1.75" fill="#fbbe84"/><circle cx="65.9" cy="299.3" r="1.75" fill="#fbbe84"/><circle cx="67.9" cy="300.3" r="1.75" fill="#fbbe84"/><circle cx="71.0" cy="298.8" r="1.75" fill="#fbbe84"/><circle cx="84.8" cy="300.7" r="1.75" fill="#fbbe84"/><circle cx="61.4" cy="307.5" r="1.75" fill="#fbbe84"/><circle cx="85.8" cy="306.4" r="1.75" fill="#fbbe84"/><circle cx="69.0" cy="310.1" r="1.75" fill="#fbbe84"/><circle cx="70.0" cy="313.6" r="1.75" fill="#fbbe84"/><circle cx="75.9" cy="310.9" r="1.75" fill="#fbbe84"/><circle cx="80.1" cy="309.5" r="1.75" fill="#fbbe84"/><circle cx="78.0" cy="313.6" r="1.75" fill="#fbbe84"/><circle cx="74.5" cy="315.3" r="1.75" fill="#fbbe84"/><circle cx="81.7" cy="315.3" r="1.75" fill="#fbbe84"/><circle cx="75.1" cy="317.7" r="1.75" fill="#fbbe84"/><circle cx="60.6" cy="316.7" r="1.75" fill="#fbbe84"/><circle cx="80.7" cy="319.8" r="1.75" fill="#fbbe84"/><circle cx="82.3" cy="327.0" r="1.75" fill="#fbbe84"/><circle cx="73.5" cy="328.6" r="1.75" fill="#fbbe84"/><circle cx="77.6" cy="332.5" r="1.75" fill="#fbbe84"/><circle cx="66.9" cy="337.6" r="1.75" fill="#fbbe84"/><circle cx="87.2" cy="330.6" r="1.75" fill="#fbbe84"/><circle cx="89.9" cy="338.2" r="1.75" fill="#fbbe84"/><circle cx="83.7" cy="342.3" r="1.75" fill="#fbbe84"/><circle cx="83.1" cy="348.1" r="1.75" fill="#fbbe84"/><circle cx="86.2" cy="350.1" r="1.75" fill="#fbbe84"/><circle cx="90.9" cy="349.5" r="1.75" fill="#fbbe84"/><circle cx="94.0" cy="351.2" r="1.75" fill="#fbbe84"/><circle cx="92.0" cy="358.1" r="1.75" fill="#fbbe84"/><circle cx="90.1" cy="373.5" r="1.75" fill="#fbbe84"/><circle cx="92.2" cy="358.9" r="1.75" fill="#fbbe84"/><circle cx="88.0" cy="331.5" r="1.75" fill="#fbbe84"/><circle cx="89.5" cy="337.5" r="1.75" fill="#fbbe84"/><circle cx="86.0" cy="349.5" r="1.75" fill="#fbbe84"/><circle cx="91.2" cy="349.3" r="1.75" fill="#fbbe84"/><circle cx="93.2" cy="327.7" r="1.75" fill="#bfc8e8"/><circle cx="92.8" cy="332.8" r="1.75" fill="#bfc8e8"/><circle cx="97.7" cy="330.8" r="1.75" fill="#bfc8e8"/><circle cx="95.7" cy="335.3" r="1.75" fill="#bfc8e8"/><circle cx="102.4" cy="333.4" r="1.75" fill="#bfc8e8"/><circle cx="95.3" cy="338.6" r="1.75" fill="#bfc8e8"/><circle cx="108.6" cy="336.9" r="1.75" fill="#bfc8e8"/><circle cx="106.5" cy="341.0" r="1.75" fill="#bfc8e8"/><circle cx="100.4" cy="342.7" r="1.75" fill="#bfc8e8"/><circle cx="99.4" cy="347.2" r="1.75" fill="#bfc8e8"/><circle cx="103.5" cy="349.7" r="1.75" fill="#bfc8e8"/><circle cx="109.6" cy="345.6" r="1.75" fill="#bfc8e8"/><circle cx="94.2" cy="351.7" r="1.75" fill="#bfc8e8"/><circle cx="110.7" cy="350.3" r="1.75" fill="#bfc8e8"/><circle cx="112.1" cy="353.8" r="1.75" fill="#bfc8e8"/><circle cx="113.1" cy="357.0" r="1.75" fill="#bfc8e8"/><circle cx="105.5" cy="360.9" r="1.75" fill="#bfc8e8"/><circle cx="107.6" cy="360.9" r="1.75" fill="#bfc8e8"/><circle cx="115.2" cy="369.4" r="1.75" fill="#bfc8e8"/><circle cx="113.7" cy="375.5" r="1.75" fill="#bfc8e8"/><circle cx="116.8" cy="386.6" r="1.75" fill="#bfc8e8"/><circle cx="115.8" cy="398.1" r="1.75" fill="#bfc8e8"/><circle cx="114.8" cy="406.7" r="1.75" fill="#bfc8e8"/><circle cx="119.9" cy="341.0" r="1.75" fill="#bfc8e8"/><circle cx="124.0" cy="339.4" r="1.75" fill="#bfc8e8"/><circle cx="121.5" cy="343.7" r="1.75" fill="#bfc8e8"/><circle cx="125.0" cy="343.1" r="1.75" fill="#bfc8e8"/><circle cx="118.9" cy="349.9" r="1.75" fill="#bfc8e8"/><circle cx="121.9" cy="350.7" r="1.75" fill="#bfc8e8"/><circle cx="125.4" cy="348.6" r="1.75" fill="#bfc8e8"/><circle cx="117.8" cy="352.3" r="1.75" fill="#bfc8e8"/><circle cx="132.2" cy="348.8" r="1.75" fill="#bfc8e8"/><circle cx="134.9" cy="348.8" r="1.75" fill="#bfc8e8"/><circle cx="129.7" cy="354.0" r="1.75" fill="#bfc8e8"/><circle cx="133.2" cy="355.8" r="1.75" fill="#bfc8e8"/><circle cx="130.6" cy="359.5" r="1.75" fill="#bfc8e8"/><circle cx="127.1" cy="363.2" r="1.75" fill="#bfc8e8"/><circle cx="127.5" cy="374.3" r="1.75" fill="#bfc8e8"/><circle cx="131.6" cy="392.8" r="1.75" fill="#bfc8e8"/><circle cx="136.3" cy="352.9" r="1.75" fill="#bfc8e8"/><circle cx="138.8" cy="359.1" r="1.75" fill="#bfc8e8"/><circle cx="133.0" cy="355.8" r="1.75" fill="#7079bd"/><circle cx="133.8" cy="352.8" r="1.75" fill="#7079bd"/><circle cx="134.7" cy="352.5" r="1.75" fill="#7079bd"/><circle cx="135.5" cy="355.7" r="1.75" fill="#7079bd"/><circle cx="136.4" cy="353.5" r="1.75" fill="#7079bd"/><circle cx="137.2" cy="351.3" r="1.75" fill="#7079bd"/><circle cx="138.0" cy="355.8" r="1.75" fill="#7079bd"/><circle cx="138.9" cy="353.5" r="1.75" fill="#7079bd"/><circle cx="139.7" cy="360.2" r="1.75" fill="#7079bd"/><circle cx="140.6" cy="356.1" r="1.75" fill="#7079bd"/><circle cx="141.4" cy="350.5" r="1.75" fill="#7079bd"/><circle cx="142.2" cy="352.7" r="1.75" fill="#7079bd"/><circle cx="143.1" cy="357.8" r="1.75" fill="#7079bd"/><circle cx="143.9" cy="355.5" r="1.75" fill="#7079bd"/><circle cx="144.8" cy="353.2" r="1.75" fill="#7079bd"/><circle cx="145.6" cy="358.7" r="1.75" fill="#7079bd"/><circle cx="146.4" cy="355.7" r="1.75" fill="#7079bd"/><circle cx="147.3" cy="354.7" r="1.75" fill="#7079bd"/><circle cx="148.1" cy="351.8" r="1.75" fill="#7079bd"/><circle cx="149.0" cy="350.5" r="1.75" fill="#7079bd"/><circle cx="149.8" cy="355.4" r="1.75" fill="#7079bd"/><circle cx="150.6" cy="352.9" r="1.75" fill="#7079bd"/><circle cx="151.5" cy="352.5" r="1.75" fill="#7079bd"/><circle cx="152.3" cy="356.9" r="1.75" fill="#7079bd"/><circle cx="153.2" cy="350.3" r="1.75" fill="#7079bd"/><circle cx="154.0" cy="354.3" r="1.75" fill="#7079bd"/><circle cx="154.8" cy="357.0" r="1.75" fill="#7079bd"/><circle cx="155.7" cy="349.2" r="1.75" fill="#7079bd"/><circle cx="156.5" cy="352.6" r="1.75" fill="#7079bd"/><circle cx="157.4" cy="355.8" r="1.75" fill="#7079bd"/><circle cx="158.2" cy="349.8" r="1.75" fill="#7079bd"/><circle cx="159.0" cy="352.8" r="1.75" fill="#7079bd"/><circle cx="159.9" cy="355.7" r="1.75" fill="#7079bd"/><circle cx="160.7" cy="350.0" r="1.75" fill="#7079bd"/><circle cx="161.6" cy="352.3" r="1.75" fill="#7079bd"/><circle cx="162.4" cy="356.1" r="1.75" fill="#7079bd"/><circle cx="163.2" cy="352.4" r="1.75" fill="#7079bd"/><circle cx="164.1" cy="349.6" r="1.75" fill="#7079bd"/><circle cx="164.9" cy="355.9" r="1.75" fill="#7079bd"/><circle cx="165.8" cy="352.8" r="1.75" fill="#7079bd"/><circle cx="166.6" cy="350.2" r="1.75" fill="#7079bd"/><circle cx="167.4" cy="349.6" r="1.75" fill="#7079bd"/><circle cx="168.3" cy="352.6" r="1.75" fill="#7079bd"/><circle cx="169.1" cy="355.3" r="1.75" fill="#7079bd"/><circle cx="170.0" cy="349.6" r="1.75" fill="#7079bd"/><circle cx="170.8" cy="353.0" r="1.75" fill="#7079bd"/><circle cx="171.6" cy="356.5" r="1.75" fill="#7079bd"/><circle cx="172.5" cy="350.3" r="1.75" fill="#7079bd"/><circle cx="173.3" cy="353.4" r="1.75" fill="#7079bd"/><circle cx="174.2" cy="356.5" r="1.75" fill="#7079bd"/><circle cx="175.0" cy="349.2" r="1.75" fill="#7079bd"/><circle cx="175.8" cy="354.0" r="1.75" fill="#7079bd"/><circle cx="176.7" cy="351.7" r="1.75" fill="#7079bd"/><circle cx="177.5" cy="356.5" r="1.75" fill="#7079bd"/><circle cx="178.4" cy="353.7" r="1.75" fill="#7079bd"/><circle cx="179.2" cy="359.5" r="1.75" fill="#7079bd"/><circle cx="180.0" cy="356.1" r="1.75" fill="#7079bd"/><circle cx="180.9" cy="357.9" r="1.75" fill="#7079bd"/><circle cx="181.7" cy="353.8" r="1.75" fill="#7079bd"/><circle cx="182.6" cy="355.8" r="1.75" fill="#7079bd"/><circle cx="183.4" cy="351.6" r="1.75" fill="#7079bd"/><circle cx="184.2" cy="358.4" r="1.75" fill="#7079bd"/><circle cx="185.1" cy="354.2" r="1.75" fill="#7079bd"/><circle cx="185.9" cy="357.2" r="1.75" fill="#7079bd"/><circle cx="186.8" cy="359.5" r="1.75" fill="#7079bd"/><circle cx="187.6" cy="355.0" r="1.75" fill="#7079bd"/><circle cx="188.4" cy="355.8" r="1.75" fill="#7079bd"/><circle cx="189.3" cy="358.7" r="1.75" fill="#7079bd"/><circle cx="190.1" cy="359.5" r="1.75" fill="#7079bd"/><circle cx="191.0" cy="356.3" r="1.75" fill="#7079bd"/><circle cx="191.8" cy="354.1" r="1.75" fill="#7079bd"/><circle cx="192.6" cy="359.5" r="1.75" fill="#7079bd"/><circle cx="193.5" cy="356.5" r="1.75" fill="#7079bd"/><circle cx="194.3" cy="354.3" r="1.75" fill="#7079bd"/><circle cx="195.2" cy="351.8" r="1.75" fill="#7079bd"/><circle cx="196.0" cy="358.8" r="1.75" fill="#7079bd"/><circle cx="196.8" cy="354.4" r="1.75" fill="#7079bd"/><circle cx="197.7" cy="356.2" r="1.75" fill="#7079bd"/><circle cx="198.5" cy="352.2" r="1.75" fill="#7079bd"/><circle cx="199.4" cy="359.5" r="1.75" fill="#7079bd"/><circle cx="200.2" cy="355.9" r="1.75" fill="#7079bd"/><circle cx="201.0" cy="351.5" r="1.75" fill="#7079bd"/><circle cx="201.9" cy="358.1" r="1.75" fill="#7079bd"/><circle cx="202.7" cy="354.9" r="1.75" fill="#7079bd"/><circle cx="203.6" cy="352.5" r="1.75" fill="#7079bd"/><circle cx="204.4" cy="357.2" r="1.75" fill="#7079bd"/><circle cx="205.2" cy="349.9" r="1.75" fill="#7079bd"/><circle cx="206.1" cy="352.6" r="1.75" fill="#7079bd"/><circle cx="206.9" cy="351.8" r="1.75" fill="#7079bd"/><circle cx="207.8" cy="349.1" r="1.75" fill="#7079bd"/><circle cx="208.6" cy="354.3" r="1.75" fill="#7079bd"/><circle cx="209.4" cy="351.4" r="1.75" fill="#7079bd"/><circle cx="210.3" cy="358.2" r="1.75" fill="#7079bd"/><circle cx="211.1" cy="355.3" r="1.75" fill="#7079bd"/><circle cx="148.6" cy="367.7" r="1.75" fill="#7079bd"/><circle cx="157.0" cy="361.5" r="1.75" fill="#7079bd"/><circle cx="159.2" cy="361.6" r="1.75" fill="#7079bd"/><circle cx="161.3" cy="361.5" r="1.75" fill="#7079bd"/><circle cx="213.6" cy="359.8" r="1.75" fill="#7079bd"/><circle cx="212.2" cy="362.8" r="1.75" fill="#7079bd"/><circle cx="212.9" cy="357.0" r="1.75" fill="#7079bd"/><circle cx="215.0" cy="312.2" r="1.75" fill="#9bd08a"/><circle cx="220.2" cy="312.6" r="1.75" fill="#9bd08a"/><circle cx="214.2" cy="320.4" r="1.75" fill="#9bd08a"/><circle cx="221.2" cy="318.7" r="1.75" fill="#9bd08a"/><circle cx="224.9" cy="318.7" r="1.75" fill="#9bd08a"/><circle cx="223.9" cy="322.4" r="1.75" fill="#9bd08a"/><circle cx="219.8" cy="323.9" r="1.75" fill="#9bd08a"/><circle cx="217.7" cy="328.0" r="1.75" fill="#9bd08a"/><circle cx="216.1" cy="336.8" r="1.75" fill="#9bd08a"/><circle cx="229.0" cy="325.9" r="1.75" fill="#9bd08a"/><circle cx="226.9" cy="329.0" r="1.75" fill="#9bd08a"/><circle cx="232.1" cy="330.0" r="1.75" fill="#9bd08a"/><circle cx="227.6" cy="334.7" r="1.75" fill="#9bd08a"/><circle cx="228.4" cy="343.4" r="1.75" fill="#9bd08a"/><circle cx="233.7" cy="324.9" r="1.75" fill="#9bd08a"/><circle cx="236.8" cy="322.8" r="1.75" fill="#9bd08a"/><circle cx="222.8" cy="320.8" r="1.75" fill="#9bd08a"/><circle cx="218.7" cy="326.5" r="1.75" fill="#9bd08a"/><circle cx="233.1" cy="406.5" r="1.75" fill="#9bd08a"/><circle cx="237.0" cy="322.3" r="1.75" fill="#4e5a44"/><circle cx="237.4" cy="322.1" r="1.75" fill="#4e5a44"/><circle cx="237.9" cy="322.1" r="1.75" fill="#4e5a44"/><circle cx="238.3" cy="322.5" r="1.75" fill="#4e5a44"/><circle cx="238.8" cy="322.6" r="1.75" fill="#4e5a44"/><circle cx="239.2" cy="322.1" r="1.75" fill="#4e5a44"/><circle cx="239.7" cy="322.0" r="1.75" fill="#4e5a44"/><circle cx="240.1" cy="322.4" r="1.75" fill="#4e5a44"/><circle cx="240.6" cy="322.0" r="1.75" fill="#4e5a44"/><circle cx="241.0" cy="321.8" r="1.75" fill="#4e5a44"/><circle cx="241.5" cy="322.5" r="1.75" fill="#4e5a44"/><circle cx="241.9" cy="322.1" r="1.75" fill="#4e5a44"/><circle cx="242.4" cy="322.5" r="1.75" fill="#4e5a44"/><circle cx="242.8" cy="322.1" r="1.75" fill="#4e5a44"/><circle cx="243.3" cy="322.5" r="1.75" fill="#4e5a44"/><circle cx="243.7" cy="322.2" r="1.75" fill="#4e5a44"/><circle cx="244.2" cy="321.9" r="1.75" fill="#4e5a44"/><circle cx="244.6" cy="321.8" r="1.75" fill="#4e5a44"/><circle cx="245.1" cy="322.2" r="1.75" fill="#4e5a44"/><circle cx="245.5" cy="322.3" r="1.75" fill="#4e5a44"/><circle cx="246.0" cy="322.5" r="1.75" fill="#4e5a44"/><circle cx="246.4" cy="321.9" r="1.75" fill="#4e5a44"/><circle cx="246.9" cy="322.3" r="1.75" fill="#4e5a44"/><circle cx="247.3" cy="322.1" r="1.75" fill="#4e5a44"/><circle cx="247.8" cy="322.2" r="1.75" fill="#4e5a44"/><circle cx="248.2" cy="321.9" r="1.75" fill="#4e5a44"/><circle cx="248.7" cy="322.0" r="1.75" fill="#4e5a44"/><circle cx="249.1" cy="322.2" r="1.75" fill="#4e5a44"/><circle cx="249.6" cy="322.5" r="1.75" fill="#4e5a44"/><circle cx="250.0" cy="321.9" r="1.75" fill="#4e5a44"/><circle cx="251.6" cy="301.9" r="1.75" fill="#c5c7c6"/><circle cx="251.0" cy="307.4" r="1.75" fill="#c5c7c6"/><circle cx="252.2" cy="330.0" r="1.75" fill="#c5c7c6"/><circle cx="254.2" cy="336.8" r="1.75" fill="#c5c7c6"/><circle cx="249.9" cy="340.7" r="1.75" fill="#c5c7c6"/><circle cx="253.4" cy="367.4" r="1.75" fill="#c5c7c6"/><circle cx="254.6" cy="353.6" r="1.75" fill="#82cdd4"/><circle cx="256.7" cy="333.1" r="1.75" fill="#82cdd4"/><circle cx="268.0" cy="328.0" r="1.75" fill="#82cdd4"/><circle cx="269.0" cy="330.0" r="1.75" fill="#82cdd4"/><circle cx="270.0" cy="334.1" r="1.75" fill="#82cdd4"/><circle cx="274.1" cy="334.1" r="1.75" fill="#82cdd4"/><circle cx="260.8" cy="339.3" r="1.75" fill="#82cdd4"/><circle cx="258.7" cy="341.3" r="1.75" fill="#82cdd4"/><circle cx="261.8" cy="344.4" r="1.75" fill="#82cdd4"/><circle cx="264.9" cy="344.4" r="1.75" fill="#82cdd4"/><circle cx="263.9" cy="347.5" r="1.75" fill="#82cdd4"/><circle cx="267.0" cy="343.4" r="1.75" fill="#82cdd4"/><circle cx="272.1" cy="340.3" r="1.75" fill="#82cdd4"/><circle cx="273.1" cy="344.4" r="1.75" fill="#82cdd4"/><circle cx="276.2" cy="344.4" r="1.75" fill="#82cdd4"/><circle cx="279.3" cy="338.2" r="1.75" fill="#82cdd4"/><circle cx="280.3" cy="342.3" r="1.75" fill="#82cdd4"/><circle cx="283.4" cy="341.3" r="1.75" fill="#82cdd4"/><circle cx="285.4" cy="344.4" r="1.75" fill="#82cdd4"/><circle cx="280.3" cy="346.4" r="1.75" fill="#82cdd4"/><circle cx="286.4" cy="342.3" r="1.75" fill="#82cdd4"/><circle cx="276.8" cy="350.9" r="1.75" fill="#82cdd4"/><circle cx="257.7" cy="336.8" r="1.75" fill="#82cdd4"/><circle cx="259.8" cy="343.8" r="1.75" fill="#82cdd4"/><circle cx="262.2" cy="340.9" r="1.75" fill="#82cdd4"/><circle cx="265.5" cy="341.3" r="1.75" fill="#82cdd4"/><circle cx="271.1" cy="337.6" r="1.75" fill="#82cdd4"/><circle cx="274.5" cy="339.3" r="1.75" fill="#82cdd4"/><circle cx="277.8" cy="341.3" r="1.75" fill="#82cdd4"/><circle cx="281.9" cy="344.4" r="1.75" fill="#82cdd4"/><circle cx="284.0" cy="342.9" r="1.75" fill="#82cdd4"/><circle cx="278.7" cy="345.0" r="1.75" fill="#82cdd4"/><circle cx="275.2" cy="346.4" r="1.75" fill="#82cdd4"/><circle cx="271.7" cy="345.4" r="1.75" fill="#82cdd4"/><circle cx="268.8" cy="346.4" r="1.75" fill="#82cdd4"/><circle cx="266.3" cy="348.1" r="1.75" fill="#82cdd4"/><circle cx="263.1" cy="345.8" r="1.75" fill="#82cdd4"/><circle cx="288.1" cy="306.8" r="1.75" fill="#f9b9c0"/><circle cx="310.7" cy="277.2" r="1.75" fill="#f9b9c0"/><circle cx="326.3" cy="292.8" r="1.75" fill="#f9b9c0"/><circle cx="287.8" cy="307.4" r="1.75" fill="#f9b9c0"/><circle cx="309.1" cy="306.9" r="1.75" fill="#f9b9c0"/><circle cx="313.6" cy="308.5" r="1.75" fill="#f9b9c0"/><circle cx="316.9" cy="308.5" r="1.75" fill="#f9b9c0"/><circle cx="315.8" cy="312.1" r="1.75" fill="#f9b9c0"/><circle cx="319.8" cy="313.0" r="1.75" fill="#f9b9c0"/><circle cx="304.2" cy="314.1" r="1.75" fill="#f9b9c0"/><circle cx="304.6" cy="318.1" r="1.75" fill="#f9b9c0"/><circle cx="322.5" cy="315.9" r="1.75" fill="#f9b9c0"/><circle cx="324.8" cy="313.7" r="1.75" fill="#f9b9c0"/><circle cx="314.7" cy="318.1" r="1.75" fill="#f9b9c0"/><circle cx="312.5" cy="320.4" r="1.75" fill="#f9b9c0"/><circle cx="322.5" cy="318.1" r="1.75" fill="#f9b9c0"/><circle cx="328.1" cy="318.1" r="1.75" fill="#f9b9c0"/><circle cx="327.5" cy="321.5" r="1.75" fill="#f9b9c0"/><circle cx="332.6" cy="321.5" r="1.75" fill="#f9b9c0"/><circle cx="356.8" cy="314.1" r="1.75" fill="#f9b9c0"/><circle cx="360.6" cy="317.0" r="1.75" fill="#f9b9c0"/><circle cx="353.2" cy="318.8" r="1.75" fill="#f9b9c0"/><circle cx="357.2" cy="322.6" r="1.75" fill="#f9b9c0"/><circle cx="361.7" cy="324.4" r="1.75" fill="#f9b9c0"/><circle cx="379.2" cy="317.0" r="1.75" fill="#f9b9c0"/><circle cx="290.1" cy="327.8" r="1.75" fill="#f9b9c0"/><circle cx="292.3" cy="329.3" r="1.75" fill="#f9b9c0"/><circle cx="295.7" cy="326.0" r="1.75" fill="#f9b9c0"/><circle cx="297.9" cy="328.2" r="1.75" fill="#f9b9c0"/><circle cx="290.7" cy="333.8" r="1.75" fill="#f9b9c0"/><circle cx="305.7" cy="329.3" r="1.75" fill="#f9b9c0"/><circle cx="309.8" cy="333.8" r="1.75" fill="#f9b9c0"/><circle cx="321.0" cy="335.4" r="1.75" fill="#f9b9c0"/><circle cx="297.5" cy="337.2" r="1.75" fill="#f9b9c0"/><circle cx="301.3" cy="337.2" r="1.75" fill="#f9b9c0"/><circle cx="303.5" cy="337.2" r="1.75" fill="#f9b9c0"/><circle cx="300.8" cy="341.2" r="1.75" fill="#f9b9c0"/><circle cx="306.9" cy="340.5" r="1.75" fill="#f9b9c0"/><circle cx="293.9" cy="344.5" r="1.75" fill="#f9b9c0"/><circle cx="289.0" cy="350.6" r="1.75" fill="#f9b9c0"/><circle cx="293.0" cy="354.4" r="1.75" fill="#f9b9c0"/><circle cx="321.9" cy="342.8" r="1.75" fill="#f9b9c0"/><circle cx="329.3" cy="342.8" r="1.75" fill="#f9b9c0"/><circle cx="330.4" cy="347.2" r="1.75" fill="#f9b9c0"/><circle cx="331.9" cy="348.8" r="1.75" fill="#f9b9c0"/><circle cx="333.7" cy="330.0" r="1.75" fill="#f9b9c0"/><circle cx="337.1" cy="330.0" r="1.75" fill="#f9b9c0"/><circle cx="339.3" cy="328.7" r="1.75" fill="#f9b9c0"/><circle cx="341.6" cy="328.7" r="1.75" fill="#f9b9c0"/><circle cx="344.9" cy="329.3" r="1.75" fill="#f9b9c0"/><circle cx="334.2" cy="334.9" r="1.75" fill="#f9b9c0"/><circle cx="337.8" cy="333.8" r="1.75" fill="#f9b9c0"/><circle cx="342.7" cy="333.8" r="1.75" fill="#f9b9c0"/><circle cx="336.4" cy="345.0" r="1.75" fill="#f9b9c0"/><circle cx="335.5" cy="352.8" r="1.75" fill="#f9b9c0"/><circle cx="340.4" cy="359.1" r="1.75" fill="#f9b9c0"/><circle cx="343.4" cy="343.4" r="1.75" fill="#f9b9c0"/><circle cx="344.9" cy="345.7" r="1.75" fill="#f9b9c0"/><circle cx="347.2" cy="337.2" r="1.75" fill="#f9b9c0"/><circle cx="348.3" cy="339.0" r="1.75" fill="#f9b9c0"/><circle cx="350.5" cy="340.5" r="1.75" fill="#f9b9c0"/><circle cx="351.6" cy="327.8" r="1.75" fill="#f9b9c0"/><circle cx="352.8" cy="330.4" r="1.75" fill="#f9b9c0"/><circle cx="355.0" cy="332.7" r="1.75" fill="#f9b9c0"/><circle cx="358.4" cy="335.6" r="1.75" fill="#f9b9c0"/><circle cx="355.0" cy="347.2" r="1.75" fill="#f9b9c0"/><circle cx="359.9" cy="350.6" r="1.75" fill="#f9b9c0"/><circle cx="369.5" cy="334.2" r="1.75" fill="#f9b9c0"/><circle cx="365.1" cy="342.8" r="1.75" fill="#f9b9c0"/><circle cx="368.0" cy="342.1" r="1.75" fill="#f9b9c0"/><circle cx="364.6" cy="346.8" r="1.75" fill="#f9b9c0"/><circle cx="370.7" cy="347.2" r="1.75" fill="#f9b9c0"/><circle cx="365.7" cy="352.8" r="1.75" fill="#f9b9c0"/><circle cx="369.5" cy="352.4" r="1.75" fill="#f9b9c0"/><circle cx="311.3" cy="359.5" r="1.75" fill="#f9b9c0"/><circle cx="296.1" cy="372.5" r="1.75" fill="#f9b9c0"/><circle cx="308.0" cy="374.1" r="1.75" fill="#f9b9c0"/><circle cx="307.3" cy="386.9" r="1.75" fill="#f9b9c0"/><circle cx="363.3" cy="380.1" r="1.75" fill="#f9b9c0"/><circle cx="374.0" cy="373.0" r="1.75" fill="#f9b9c0"/><circle cx="368.4" cy="363.6" r="1.75" fill="#f9b9c0"/><circle cx="372.9" cy="360.7" r="1.75" fill="#f9b9c0"/><circle cx="374.0" cy="356.2" r="1.75" fill="#f9b9c0"/><circle cx="379.3" cy="316.9" r="1.75" fill="#f9b9c0"/><circle cx="374.1" cy="373.0" r="1.75" fill="#f9b9c0"/><circle cx="372.5" cy="352.5" r="1.75" fill="#f9b9c0"/><circle cx="374.5" cy="356.5" r="1.75" fill="#f9b9c0"/><circle cx="371.0" cy="358.0" r="1.75" fill="#f9b9c0"/><circle cx="268.9" cy="336.3" r="1.75" fill="#82cdd4"/><circle cx="260.0" cy="340.7" r="1.75" fill="#82cdd4"/><circle cx="267.8" cy="342.0" r="1.75" fill="#82cdd4"/><circle cx="278.4" cy="337.7" r="1.75" fill="#82cdd4"/><circle cx="284.7" cy="345.5" r="1.75" fill="#82cdd4"/><circle cx="286.6" cy="343.6" r="1.75" fill="#82cdd4"/><circle cx="258.7" cy="334.9" r="1.75" fill="#82cdd4"/><circle cx="272.0" cy="345.4" r="1.75" fill="#82cdd4"/><circle cx="269.6" cy="347.8" r="1.75" fill="#82cdd4"/><circle cx="263.0" cy="343.9" r="1.75" fill="#82cdd4"/><circle cx="310.4" cy="274.7" r="1.75" fill="#f9b9c0"/><circle cx="326.4" cy="290.1" r="1.75" fill="#f9b9c0"/><circle cx="314.6" cy="310.2" r="1.75" fill="#f9b9c0"/><circle cx="315.8" cy="311.4" r="1.75" fill="#f9b9c0"/><circle cx="305.7" cy="317.1" r="1.75" fill="#f9b9c0"/><circle cx="326.9" cy="313.6" r="1.75" fill="#f9b9c0"/><circle cx="323.8" cy="320.7" r="1.75" fill="#f9b9c0"/><circle cx="327.5" cy="319.7" r="1.75" fill="#f9b9c0"/><circle cx="329.2" cy="320.1" r="1.75" fill="#f9b9c0"/><circle cx="356.8" cy="316.6" r="1.75" fill="#f9b9c0"/><circle cx="359.5" cy="317.0" r="1.75" fill="#f9b9c0"/><circle cx="351.2" cy="316.9" r="1.75" fill="#f9b9c0"/><circle cx="359.2" cy="323.7" r="1.75" fill="#f9b9c0"/><circle cx="307.0" cy="327.0" r="1.75" fill="#f9b9c0"/><circle cx="302.9" cy="337.5" r="1.75" fill="#f9b9c0"/><circle cx="309.0" cy="341.3" r="1.75" fill="#f9b9c0"/><circle cx="323.2" cy="341.3" r="1.75" fill="#f9b9c0"/><circle cx="333.1" cy="348.5" r="1.75" fill="#f9b9c0"/><circle cx="334.8" cy="327.3" r="1.75" fill="#f9b9c0"/><circle cx="339.9" cy="331.6" r="1.75" fill="#f9b9c0"/><circle cx="332.0" cy="332.1" r="1.75" fill="#f9b9c0"/><circle cx="338.3" cy="333.4" r="1.75" fill="#f9b9c0"/><circle cx="334.3" cy="353.7" r="1.75" fill="#f9b9c0"/><circle cx="338.3" cy="358.2" r="1.75" fill="#f9b9c0"/><circle cx="342.7" cy="341.8" r="1.75" fill="#f9b9c0"/><circle cx="348.8" cy="338.8" r="1.75" fill="#f9b9c0"/><circle cx="352.4" cy="339.0" r="1.75" fill="#f9b9c0"/><circle cx="349.9" cy="328.6" r="1.75" fill="#f9b9c0"/><circle cx="357.3" cy="332.7" r="1.75" fill="#f9b9c0"/><circle cx="370.2" cy="333.9" r="1.75" fill="#f9b9c0"/><circle cx="366.4" cy="344.0" r="1.75" fill="#f9b9c0"/><circle cx="364.6" cy="350.2" r="1.75" fill="#f9b9c0"/><circle cx="311.6" cy="362.2" r="1.75" fill="#f9b9c0"/><circle cx="372.7" cy="356.8" r="1.75" fill="#f9b9c0"/><circle cx="376.5" cy="354.1" r="1.75" fill="#c7786d"/><circle cx="377.4" cy="361.2" r="1.75" fill="#c7786d"/><circle cx="378.3" cy="358.5" r="1.75" fill="#c7786d"/><circle cx="379.2" cy="355.3" r="1.75" fill="#c7786d"/><circle cx="380.1" cy="361.3" r="1.75" fill="#c7786d"/><circle cx="381.0" cy="358.4" r="1.75" fill="#c7786d"/><circle cx="381.9" cy="355.5" r="1.75" fill="#c7786d"/><circle cx="382.8" cy="360.9" r="1.75" fill="#c7786d"/><circle cx="383.7" cy="358.5" r="1.75" fill="#c7786d"/><circle cx="384.6" cy="355.9" r="1.75" fill="#c7786d"/><circle cx="385.5" cy="361.1" r="1.75" fill="#c7786d"/><circle cx="386.4" cy="352.6" r="1.75" fill="#c7786d"/><circle cx="387.3" cy="356.3" r="1.75" fill="#c7786d"/><circle cx="388.2" cy="353.6" r="1.75" fill="#c7786d"/><circle cx="389.1" cy="359.8" r="1.75" fill="#c7786d"/><circle cx="390.0" cy="356.1" r="1.75" fill="#c7786d"/><circle cx="390.9" cy="353.1" r="1.75" fill="#c7786d"/><circle cx="391.8" cy="359.6" r="1.75" fill="#c7786d"/><circle cx="392.7" cy="355.6" r="1.75" fill="#c7786d"/><circle cx="393.6" cy="358.0" r="1.75" fill="#c7786d"/><circle cx="394.5" cy="352.9" r="1.75" fill="#c7786d"/><circle cx="395.4" cy="355.7" r="1.75" fill="#c7786d"/><circle cx="396.3" cy="360.6" r="1.75" fill="#c7786d"/><circle cx="397.2" cy="358.0" r="1.75" fill="#c7786d"/><circle cx="398.1" cy="363.2" r="1.75" fill="#c7786d"/><circle cx="399.0" cy="360.8" r="1.75" fill="#c7786d"/><circle cx="399.9" cy="357.6" r="1.75" fill="#c7786d"/><circle cx="400.8" cy="364.0" r="1.75" fill="#c7786d"/><circle cx="401.7" cy="360.0" r="1.75" fill="#c7786d"/><circle cx="402.6" cy="357.2" r="1.75" fill="#c7786d"/><circle cx="403.5" cy="362.8" r="1.75" fill="#c7786d"/><circle cx="404.4" cy="353.8" r="1.75" fill="#c7786d"/><circle cx="405.3" cy="357.9" r="1.75" fill="#c7786d"/><circle cx="406.2" cy="362.2" r="1.75" fill="#c7786d"/><circle cx="407.1" cy="364.6" r="1.75" fill="#c7786d"/><circle cx="408.0" cy="358.8" r="1.75" fill="#c7786d"/><circle cx="408.9" cy="362.1" r="1.75" fill="#c7786d"/><circle cx="409.8" cy="364.4" r="1.75" fill="#c7786d"/><circle cx="410.7" cy="358.7" r="1.75" fill="#c7786d"/><circle cx="411.6" cy="361.8" r="1.75" fill="#c7786d"/><circle cx="412.5" cy="356.0" r="1.75" fill="#c7786d"/><circle cx="413.4" cy="359.2" r="1.75" fill="#c7786d"/><circle cx="414.3" cy="361.7" r="1.75" fill="#c7786d"/><circle cx="415.2" cy="355.8" r="1.75" fill="#c7786d"/><circle cx="416.1" cy="358.4" r="1.75" fill="#c7786d"/><circle cx="417.0" cy="361.6" r="1.75" fill="#c7786d"/><circle cx="417.9" cy="364.7" r="1.75" fill="#c7786d"/><circle cx="418.8" cy="358.4" r="1.75" fill="#c7786d"/><circle cx="419.7" cy="361.0" r="1.75" fill="#c7786d"/><circle cx="420.6" cy="353.9" r="1.75" fill="#c7786d"/><circle cx="421.5" cy="357.1" r="1.75" fill="#c7786d"/><circle cx="422.4" cy="353.0" r="1.75" fill="#c7786d"/><circle cx="423.3" cy="359.4" r="1.75" fill="#c7786d"/><circle cx="424.2" cy="361.7" r="1.75" fill="#c7786d"/><circle cx="425.1" cy="356.6" r="1.75" fill="#c7786d"/><circle cx="426.0" cy="359.3" r="1.75" fill="#c7786d"/><circle cx="426.9" cy="364.0" r="1.75" fill="#c7786d"/><circle cx="427.8" cy="361.6" r="1.75" fill="#c7786d"/><circle cx="428.7" cy="357.8" r="1.75" fill="#c7786d"/><circle cx="429.6" cy="364.4" r="1.75" fill="#c7786d"/><circle cx="430.5" cy="361.7" r="1.75" fill="#c7786d"/><circle cx="431.4" cy="357.6" r="1.75" fill="#c7786d"/><circle cx="432.3" cy="364.5" r="1.75" fill="#c7786d"/><circle cx="433.2" cy="361.0" r="1.75" fill="#c7786d"/><circle cx="434.1" cy="357.3" r="1.75" fill="#c7786d"/><circle cx="435.0" cy="357.3" r="1.75" fill="#c7786d"/><circle cx="435.9" cy="360.2" r="1.75" fill="#c7786d"/><circle cx="436.8" cy="364.0" r="1.75" fill="#c7786d"/><circle cx="437.7" cy="363.1" r="1.75" fill="#c7786d"/><circle cx="438.6" cy="358.0" r="1.75" fill="#c7786d"/><circle cx="439.5" cy="360.6" r="1.75" fill="#c7786d"/><circle cx="440.4" cy="365.0" r="1.75" fill="#c7786d"/><circle cx="441.3" cy="357.8" r="1.75" fill="#c7786d"/><circle cx="442.2" cy="362.5" r="1.75" fill="#c7786d"/><circle cx="443.1" cy="360.2" r="1.75" fill="#c7786d"/><circle cx="444.0" cy="357.6" r="1.75" fill="#c7786d"/><circle cx="444.9" cy="365.2" r="1.75" fill="#c7786d"/><circle cx="445.8" cy="362.5" r="1.75" fill="#c7786d"/><circle cx="446.7" cy="360.1" r="1.75" fill="#c7786d"/><circle cx="447.6" cy="357.5" r="1.75" fill="#c7786d"/><circle cx="448.5" cy="365.2" r="1.75" fill="#c7786d"/><circle cx="449.4" cy="360.8" r="1.75" fill="#c7786d"/><circle cx="450.3" cy="362.6" r="1.75" fill="#c7786d"/><circle cx="451.2" cy="365.2" r="1.75" fill="#c7786d"/><circle cx="452.1" cy="354.5" r="1.75" fill="#c7786d"/><circle cx="453.0" cy="362.0" r="1.75" fill="#c7786d"/><circle cx="453.9" cy="358.5" r="1.75" fill="#c7786d"/><circle cx="454.8" cy="365.2" r="1.75" fill="#c7786d"/><circle cx="455.7" cy="362.2" r="1.75" fill="#c7786d"/><circle cx="456.6" cy="359.3" r="1.75" fill="#c7786d"/><circle cx="457.5" cy="364.8" r="1.75" fill="#c7786d"/><circle cx="458.4" cy="356.5" r="1.75" fill="#c7786d"/><circle cx="459.3" cy="360.1" r="1.75" fill="#c7786d"/><circle cx="460.2" cy="363.4" r="1.75" fill="#c7786d"/><circle cx="461.1" cy="356.0" r="1.75" fill="#c7786d"/><circle cx="462.0" cy="360.3" r="1.75" fill="#c7786d"/><circle cx="462.9" cy="362.8" r="1.75" fill="#c7786d"/><circle cx="463.8" cy="356.3" r="1.75" fill="#c7786d"/><circle cx="464.7" cy="359.0" r="1.75" fill="#c7786d"/><circle cx="465.6" cy="362.1" r="1.75" fill="#c7786d"/><circle cx="466.5" cy="356.6" r="1.75" fill="#c7786d"/><circle cx="467.4" cy="359.8" r="1.75" fill="#c7786d"/><circle cx="468.3" cy="362.3" r="1.75" fill="#c7786d"/><circle cx="469.2" cy="357.0" r="1.75" fill="#c7786d"/><circle cx="470.1" cy="359.4" r="1.75" fill="#c7786d"/><circle cx="471.0" cy="365.1" r="1.75" fill="#c7786d"/><circle cx="471.9" cy="362.4" r="1.75" fill="#c7786d"/><circle cx="472.8" cy="357.7" r="1.75" fill="#c7786d"/><circle cx="473.7" cy="360.0" r="1.75" fill="#c7786d"/><circle cx="474.6" cy="362.8" r="1.75" fill="#c7786d"/><circle cx="475.5" cy="357.9" r="1.75" fill="#c7786d"/><circle cx="476.4" cy="360.4" r="1.75" fill="#c7786d"/><circle cx="477.3" cy="362.9" r="1.75" fill="#c7786d"/><circle cx="478.2" cy="367.8" r="1.75" fill="#c7786d"/><circle cx="479.1" cy="365.4" r="1.75" fill="#c7786d"/><circle cx="480.0" cy="362.3" r="1.75" fill="#c7786d"/><circle cx="480.9" cy="367.7" r="1.75" fill="#c7786d"/><circle cx="481.8" cy="364.6" r="1.75" fill="#c7786d"/><circle cx="482.7" cy="361.2" r="1.75" fill="#c7786d"/><circle cx="483.6" cy="367.3" r="1.75" fill="#c7786d"/><circle cx="484.5" cy="368.9" r="1.75" fill="#c7786d"/><circle cx="485.4" cy="362.9" r="1.75" fill="#c7786d"/><circle cx="486.3" cy="360.4" r="1.75" fill="#c7786d"/><circle cx="487.2" cy="368.0" r="1.75" fill="#c7786d"/><circle cx="488.1" cy="365.6" r="1.75" fill="#c7786d"/><circle cx="489.0" cy="360.5" r="1.75" fill="#c7786d"/><circle cx="489.9" cy="363.2" r="1.75" fill="#c7786d"/><circle cx="490.8" cy="366.1" r="1.75" fill="#c7786d"/><circle cx="491.7" cy="360.6" r="1.75" fill="#c7786d"/><circle cx="492.6" cy="359.8" r="1.75" fill="#c7786d"/><circle cx="493.5" cy="363.6" r="1.75" fill="#c7786d"/><circle cx="494.4" cy="366.0" r="1.75" fill="#c7786d"/><circle cx="495.3" cy="368.9" r="1.75" fill="#c7786d"/><circle cx="496.2" cy="363.6" r="1.75" fill="#c7786d"/><circle cx="497.1" cy="366.3" r="1.75" fill="#c7786d"/><circle cx="498.0" cy="369.2" r="1.75" fill="#c7786d"/><circle cx="498.9" cy="363.9" r="1.75" fill="#c7786d"/><circle cx="499.8" cy="360.2" r="1.75" fill="#c7786d"/><circle cx="500.7" cy="369.1" r="1.75" fill="#c7786d"/><circle cx="501.6" cy="362.8" r="1.75" fill="#c7786d"/><circle cx="502.5" cy="366.4" r="1.75" fill="#c7786d"/><circle cx="503.4" cy="360.4" r="1.75" fill="#c7786d"/><circle cx="504.3" cy="363.4" r="1.75" fill="#c7786d"/><circle cx="505.2" cy="366.6" r="1.75" fill="#c7786d"/><circle cx="506.1" cy="360.6" r="1.75" fill="#c7786d"/><circle cx="507.0" cy="363.3" r="1.75" fill="#c7786d"/><circle cx="507.9" cy="366.9" r="1.75" fill="#c7786d"/><circle cx="508.8" cy="369.3" r="1.75" fill="#c7786d"/><circle cx="509.7" cy="364.5" r="1.75" fill="#c7786d"/><circle cx="510.6" cy="366.3" r="1.75" fill="#c7786d"/><circle cx="511.5" cy="361.1" r="1.75" fill="#c7786d"/><circle cx="512.4" cy="369.5" r="1.75" fill="#c7786d"/><circle cx="513.3" cy="363.8" r="1.75" fill="#c7786d"/><circle cx="514.2" cy="361.0" r="1.75" fill="#c7786d"/><circle cx="515.1" cy="366.3" r="1.75" fill="#c7786d"/><circle cx="516.0" cy="364.4" r="1.75" fill="#c7786d"/><circle cx="516.9" cy="361.7" r="1.75" fill="#c7786d"/><circle cx="517.8" cy="367.6" r="1.75" fill="#c7786d"/><circle cx="518.7" cy="372.2" r="1.75" fill="#c7786d"/><circle cx="519.6" cy="364.7" r="1.75" fill="#c7786d"/><circle cx="520.5" cy="369.7" r="1.75" fill="#c7786d"/><circle cx="521.4" cy="372.4" r="1.75" fill="#c7786d"/><circle cx="522.3" cy="363.6" r="1.75" fill="#c7786d"/><circle cx="523.2" cy="367.1" r="1.75" fill="#c7786d"/><circle cx="524.1" cy="364.8" r="1.75" fill="#c7786d"/><circle cx="525.0" cy="361.6" r="1.75" fill="#c7786d"/><circle cx="525.9" cy="368.6" r="1.75" fill="#c7786d"/><circle cx="526.8" cy="365.1" r="1.75" fill="#c7786d"/><circle cx="527.7" cy="360.9" r="1.75" fill="#c7786d"/><circle cx="528.6" cy="368.7" r="1.75" fill="#c7786d"/><circle cx="529.5" cy="365.9" r="1.75" fill="#c7786d"/><circle cx="530.4" cy="361.4" r="1.75" fill="#c7786d"/><circle cx="531.3" cy="368.4" r="1.75" fill="#c7786d"/><circle cx="532.2" cy="363.8" r="1.75" fill="#c7786d"/><circle cx="533.1" cy="365.7" r="1.75" fill="#c7786d"/><circle cx="534.0" cy="370.8" r="1.75" fill="#c7786d"/><circle cx="534.9" cy="373.2" r="1.75" fill="#c7786d"/><circle cx="535.8" cy="367.3" r="1.75" fill="#c7786d"/><circle cx="536.7" cy="370.9" r="1.75" fill="#c7786d"/><circle cx="537.6" cy="373.4" r="1.75" fill="#c7786d"/><circle cx="538.5" cy="368.4" r="1.75" fill="#c7786d"/><circle cx="539.4" cy="370.9" r="1.75" fill="#c7786d"/><circle cx="540.3" cy="373.7" r="1.75" fill="#c7786d"/><circle cx="541.2" cy="366.3" r="1.75" fill="#c7786d"/><circle cx="542.1" cy="371.1" r="1.75" fill="#c7786d"/><circle cx="543.0" cy="370.0" r="1.75" fill="#c7786d"/><circle cx="543.9" cy="374.7" r="1.75" fill="#c7786d"/><circle cx="544.8" cy="374.1" r="1.75" fill="#c7786d"/><circle cx="545.7" cy="370.3" r="1.75" fill="#c7786d"/><circle cx="546.6" cy="376.4" r="1.75" fill="#c7786d"/><circle cx="547.5" cy="373.3" r="1.75" fill="#c7786d"/><circle cx="548.4" cy="370.9" r="1.75" fill="#c7786d"/><circle cx="549.3" cy="375.3" r="1.75" fill="#c7786d"/><circle cx="550.2" cy="368.1" r="1.75" fill="#c7786d"/><circle cx="551.1" cy="370.6" r="1.75" fill="#c7786d"/><circle cx="552.0" cy="365.5" r="1.75" fill="#c7786d"/><circle cx="552.9" cy="368.2" r="1.75" fill="#c7786d"/><circle cx="553.8" cy="371.4" r="1.75" fill="#c7786d"/><circle cx="554.7" cy="364.6" r="1.75" fill="#c7786d"/><circle cx="555.6" cy="367.0" r="1.75" fill="#c7786d"/><circle cx="556.5" cy="370.3" r="1.75" fill="#c7786d"/><circle cx="557.4" cy="362.7" r="1.75" fill="#c7786d"/><circle cx="558.3" cy="365.6" r="1.75" fill="#c7786d"/><circle cx="559.2" cy="369.3" r="1.75" fill="#c7786d"/><circle cx="560.1" cy="362.9" r="1.75" fill="#c7786d"/><circle cx="561.0" cy="366.2" r="1.75" fill="#c7786d"/><circle cx="561.9" cy="368.8" r="1.75" fill="#c7786d"/><circle cx="562.8" cy="372.2" r="1.75" fill="#c7786d"/><circle cx="563.7" cy="363.8" r="1.75" fill="#c7786d"/><circle cx="564.6" cy="366.5" r="1.75" fill="#c7786d"/><circle cx="565.5" cy="369.1" r="1.75" fill="#c7786d"/><circle cx="566.4" cy="361.2" r="1.75" fill="#c7786d"/><circle cx="567.3" cy="365.4" r="1.75" fill="#c7786d"/><circle cx="568.2" cy="370.4" r="1.75" fill="#c7786d"/><circle cx="569.1" cy="362.9" r="1.75" fill="#c7786d"/><circle cx="570.0" cy="366.0" r="1.75" fill="#c7786d"/><circle cx="570.9" cy="370.6" r="1.75" fill="#c7786d"/><circle cx="571.8" cy="364.4" r="1.75" fill="#c7786d"/><circle cx="572.7" cy="368.0" r="1.75" fill="#c7786d"/><circle cx="573.6" cy="370.8" r="1.75" fill="#c7786d"/><circle cx="574.5" cy="365.4" r="1.75" fill="#c7786d"/><circle cx="575.4" cy="368.3" r="1.75" fill="#c7786d"/><circle cx="576.3" cy="371.8" r="1.75" fill="#c7786d"/><circle cx="577.2" cy="373.1" r="1.75" fill="#c7786d"/><circle cx="578.1" cy="367.7" r="1.75" fill="#c7786d"/><circle cx="579.0" cy="364.5" r="1.75" fill="#c7786d"/><circle cx="579.9" cy="370.9" r="1.75" fill="#c7786d"/><circle cx="580.8" cy="368.1" r="1.75" fill="#c7786d"/><circle cx="581.7" cy="364.9" r="1.75" fill="#c7786d"/><circle cx="582.6" cy="370.4" r="1.75" fill="#c7786d"/><circle cx="583.5" cy="367.9" r="1.75" fill="#c7786d"/><circle cx="584.4" cy="363.1" r="1.75" fill="#c7786d"/><circle cx="585.3" cy="369.3" r="1.75" fill="#c7786d"/><circle cx="586.2" cy="366.4" r="1.75" fill="#c7786d"/><circle cx="587.1" cy="361.2" r="1.75" fill="#c7786d"/><circle cx="588.0" cy="359.3" r="1.75" fill="#c7786d"/><circle cx="588.9" cy="364.4" r="1.75" fill="#c7786d"/><circle cx="589.8" cy="368.5" r="1.75" fill="#c7786d"/><circle cx="590.7" cy="361.2" r="1.75" fill="#c7786d"/><circle cx="591.6" cy="363.6" r="1.75" fill="#c7786d"/><circle cx="592.5" cy="367.0" r="1.75" fill="#c7786d"/><circle cx="593.4" cy="370.1" r="1.75" fill="#c7786d"/><circle cx="594.3" cy="364.0" r="1.75" fill="#c7786d"/><circle cx="595.2" cy="367.7" r="1.75" fill="#c7786d"/><circle cx="596.1" cy="370.5" r="1.75" fill="#c7786d"/><circle cx="597.0" cy="365.0" r="1.75" fill="#c7786d"/><circle cx="597.9" cy="368.0" r="1.75" fill="#c7786d"/><circle cx="598.8" cy="368.0" r="1.75" fill="#c7786d"/><circle cx="599.7" cy="361.7" r="1.75" fill="#c7786d"/><circle cx="600.6" cy="364.0" r="1.75" fill="#c7786d"/><circle cx="601.5" cy="368.6" r="1.75" fill="#c7786d"/><circle cx="602.4" cy="369.1" r="1.75" fill="#c7786d"/><circle cx="603.3" cy="371.7" r="1.75" fill="#c7786d"/><circle cx="604.2" cy="362.7" r="1.75" fill="#c7786d"/><circle cx="605.1" cy="375.0" r="1.75" fill="#c7786d"/><circle cx="606.0" cy="378.3" r="1.75" fill="#c7786d"/><circle cx="606.9" cy="369.9" r="1.75" fill="#c7786d"/><circle cx="607.8" cy="372.8" r="1.75" fill="#c7786d"/><circle cx="608.7" cy="373.8" r="1.75" fill="#c7786d"/><circle cx="609.6" cy="365.9" r="1.75" fill="#c7786d"/><circle cx="610.5" cy="369.1" r="1.75" fill="#c7786d"/><circle cx="611.4" cy="363.5" r="1.75" fill="#c7786d"/><circle cx="612.3" cy="359.7" r="1.75" fill="#c7786d"/><circle cx="613.2" cy="366.5" r="1.75" fill="#c7786d"/><circle cx="614.1" cy="362.7" r="1.75" fill="#c7786d"/><circle cx="615.0" cy="359.2" r="1.75" fill="#c7786d"/><circle cx="615.9" cy="365.4" r="1.75" fill="#c7786d"/><circle cx="616.8" cy="362.5" r="1.75" fill="#c7786d"/><circle cx="617.7" cy="360.1" r="1.75" fill="#c7786d"/><circle cx="618.6" cy="365.3" r="1.75" fill="#c7786d"/><circle cx="619.5" cy="367.6" r="1.75" fill="#c7786d"/><circle cx="620.4" cy="361.2" r="1.75" fill="#c7786d"/><circle cx="621.3" cy="365.3" r="1.75" fill="#c7786d"/><circle cx="622.2" cy="368.4" r="1.75" fill="#c7786d"/><circle cx="623.1" cy="362.0" r="1.75" fill="#c7786d"/><circle cx="624.0" cy="365.2" r="1.75" fill="#c7786d"/><circle cx="624.9" cy="368.2" r="1.75" fill="#c7786d"/><circle cx="625.8" cy="362.5" r="1.75" fill="#c7786d"/><circle cx="626.7" cy="359.0" r="1.75" fill="#c7786d"/><circle cx="627.6" cy="357.8" r="1.75" fill="#c7786d"/><circle cx="628.5" cy="361.6" r="1.75" fill="#c7786d"/><circle cx="629.4" cy="356.0" r="1.75" fill="#c7786d"/><circle cx="630.3" cy="358.7" r="1.75" fill="#c7786d"/><circle cx="631.2" cy="362.3" r="1.75" fill="#c7786d"/><circle cx="632.1" cy="357.2" r="1.75" fill="#c7786d"/><circle cx="633.0" cy="364.8" r="1.75" fill="#c7786d"/><circle cx="633.9" cy="361.5" r="1.75" fill="#c7786d"/><circle cx="634.8" cy="358.3" r="1.75" fill="#c7786d"/><circle cx="635.7" cy="366.6" r="1.75" fill="#c7786d"/><circle cx="636.6" cy="370.7" r="1.75" fill="#c7786d"/><circle cx="637.5" cy="362.5" r="1.75" fill="#c7786d"/><circle cx="638.4" cy="365.3" r="1.75" fill="#c7786d"/><circle cx="639.3" cy="368.3" r="1.75" fill="#c7786d"/><circle cx="640.2" cy="362.9" r="1.75" fill="#c7786d"/><circle cx="641.1" cy="365.3" r="1.75" fill="#c7786d"/><circle cx="642.0" cy="368.1" r="1.75" fill="#c7786d"/><circle cx="642.9" cy="362.7" r="1.75" fill="#c7786d"/><circle cx="643.8" cy="372.0" r="1.75" fill="#c7786d"/><circle cx="644.7" cy="367.2" r="1.75" fill="#c7786d"/><circle cx="645.6" cy="371.7" r="1.75" fill="#c7786d"/><circle cx="646.5" cy="363.9" r="1.75" fill="#c7786d"/><circle cx="647.4" cy="368.7" r="1.75" fill="#c7786d"/><circle cx="648.3" cy="366.3" r="1.75" fill="#c7786d"/><circle cx="649.2" cy="362.9" r="1.75" fill="#c7786d"/><circle cx="650.1" cy="368.9" r="1.75" fill="#c7786d"/><circle cx="651.0" cy="366.2" r="1.75" fill="#c7786d"/><circle cx="651.9" cy="371.5" r="1.75" fill="#c7786d"/><circle cx="652.8" cy="368.9" r="1.75" fill="#c7786d"/><circle cx="653.7" cy="366.4" r="1.75" fill="#c7786d"/><circle cx="654.6" cy="371.4" r="1.75" fill="#c7786d"/><circle cx="655.5" cy="374.1" r="1.75" fill="#c7786d"/><circle cx="656.4" cy="376.2" r="1.75" fill="#c7786d"/><circle cx="657.3" cy="368.9" r="1.75" fill="#c7786d"/><circle cx="658.2" cy="373.0" r="1.75" fill="#c7786d"/><circle cx="659.1" cy="376.4" r="1.75" fill="#c7786d"/><circle cx="660.0" cy="377.2" r="1.75" fill="#c7786d"/><circle cx="660.9" cy="373.3" r="1.75" fill="#c7786d"/><circle cx="661.8" cy="370.9" r="1.75" fill="#c7786d"/><circle cx="662.7" cy="377.3" r="1.75" fill="#c7786d"/><circle cx="663.6" cy="374.0" r="1.75" fill="#c7786d"/><circle cx="664.5" cy="369.5" r="1.75" fill="#c7786d"/><circle cx="665.4" cy="376.4" r="1.75" fill="#c7786d"/><circle cx="666.3" cy="372.3" r="1.75" fill="#c7786d"/><circle cx="667.2" cy="369.6" r="1.75" fill="#c7786d"/><circle cx="668.1" cy="375.1" r="1.75" fill="#c7786d"/><circle cx="669.0" cy="370.1" r="1.75" fill="#c7786d"/><circle cx="669.9" cy="372.7" r="1.75" fill="#c7786d"/><circle cx="670.8" cy="376.0" r="1.75" fill="#c7786d"/><circle cx="671.7" cy="377.8" r="1.75" fill="#c7786d"/><circle cx="672.6" cy="370.4" r="1.75" fill="#c7786d"/><circle cx="673.5" cy="375.1" r="1.75" fill="#c7786d"/><circle cx="674.4" cy="377.9" r="1.75" fill="#c7786d"/><circle cx="675.3" cy="371.3" r="1.75" fill="#c7786d"/><circle cx="676.2" cy="375.4" r="1.75" fill="#c7786d"/><circle cx="677.1" cy="370.8" r="1.75" fill="#c7786d"/><circle cx="678.0" cy="377.9" r="1.75" fill="#c7786d"/><circle cx="678.9" cy="375.0" r="1.75" fill="#c7786d"/><circle cx="679.8" cy="372.7" r="1.75" fill="#c7786d"/><circle cx="680.7" cy="377.5" r="1.75" fill="#c7786d"/><circle cx="681.6" cy="375.8" r="1.75" fill="#c7786d"/><circle cx="682.5" cy="372.8" r="1.75" fill="#c7786d"/><circle cx="683.4" cy="378.4" r="1.75" fill="#c7786d"/><circle cx="684.3" cy="371.7" r="1.75" fill="#c7786d"/><circle cx="685.2" cy="374.6" r="1.75" fill="#c7786d"/><circle cx="686.1" cy="377.3" r="1.75" fill="#c7786d"/><circle cx="687.0" cy="372.0" r="1.75" fill="#c7786d"/><circle cx="687.9" cy="374.4" r="1.75" fill="#c7786d"/><circle cx="688.8" cy="377.1" r="1.75" fill="#c7786d"/><circle cx="689.7" cy="378.7" r="1.75" fill="#c7786d"/><circle cx="690.6" cy="374.2" r="1.75" fill="#c7786d"/><circle cx="691.5" cy="378.4" r="1.75" fill="#c7786d"/><circle cx="692.4" cy="378.9" r="1.75" fill="#c7786d"/><circle cx="693.3" cy="374.6" r="1.75" fill="#c7786d"/><circle cx="694.2" cy="378.3" r="1.75" fill="#c7786d"/><circle cx="695.1" cy="375.5" r="1.75" fill="#c7786d"/><circle cx="696.0" cy="375.0" r="1.75" fill="#c7786d"/><circle cx="696.9" cy="378.0" r="1.75" fill="#c7786d"/><circle cx="697.8" cy="375.3" r="1.75" fill="#c7786d"/><circle cx="698.7" cy="371.4" r="1.75" fill="#c7786d"/><circle cx="699.6" cy="360.6" r="1.75" fill="#c7786d"/><circle cx="700.5" cy="363.7" r="1.75" fill="#c7786d"/><circle cx="701.4" cy="359.7" r="1.75" fill="#c7786d"/><circle cx="702.3" cy="360.5" r="1.75" fill="#c7786d"/><circle cx="703.2" cy="366.0" r="1.75" fill="#c7786d"/><circle cx="704.1" cy="363.0" r="1.75" fill="#c7786d"/><circle cx="705.0" cy="368.3" r="1.75" fill="#c7786d"/><circle cx="705.9" cy="365.8" r="1.75" fill="#c7786d"/><circle cx="706.8" cy="371.4" r="1.75" fill="#c7786d"/><circle cx="707.7" cy="368.2" r="1.75" fill="#c7786d"/><circle cx="708.6" cy="373.8" r="1.75" fill="#c7786d"/><circle cx="709.5" cy="378.0" r="1.75" fill="#c7786d"/><circle cx="710.4" cy="374.8" r="1.75" fill="#c7786d"/><circle cx="711.3" cy="380.5" r="1.75" fill="#c7786d"/><circle cx="712.2" cy="377.2" r="1.75" fill="#c7786d"/><circle cx="713.1" cy="380.8" r="1.75" fill="#c7786d"/><circle cx="714.0" cy="375.2" r="1.75" fill="#c7786d"/><circle cx="714.9" cy="378.2" r="1.75" fill="#c7786d"/><circle cx="715.8" cy="380.8" r="1.75" fill="#c7786d"/><circle cx="716.7" cy="376.5" r="1.75" fill="#c7786d"/><circle cx="717.6" cy="383.5" r="1.75" fill="#c7786d"/><circle cx="718.5" cy="387.6" r="1.75" fill="#c7786d"/><circle cx="719.4" cy="378.8" r="1.75" fill="#c7786d"/><circle cx="720.3" cy="381.4" r="1.75" fill="#c7786d"/><circle cx="721.2" cy="383.8" r="1.75" fill="#c7786d"/><circle cx="722.1" cy="378.1" r="1.75" fill="#c7786d"/><circle cx="723.0" cy="380.8" r="1.75" fill="#c7786d"/><circle cx="723.9" cy="384.0" r="1.75" fill="#c7786d"/><circle cx="724.8" cy="389.1" r="1.75" fill="#c7786d"/><circle cx="725.7" cy="386.7" r="1.75" fill="#c7786d"/><circle cx="726.6" cy="391.6" r="1.75" fill="#c7786d"/><circle cx="727.5" cy="381.8" r="1.75" fill="#c7786d"/><circle cx="728.4" cy="386.2" r="1.75" fill="#c7786d"/><circle cx="729.3" cy="389.2" r="1.75" fill="#c7786d"/><circle cx="730.2" cy="381.8" r="1.75" fill="#c7786d"/><circle cx="731.1" cy="386.5" r="1.75" fill="#c7786d"/><circle cx="732.0" cy="384.6" r="1.75" fill="#c7786d"/><circle cx="732.9" cy="382.0" r="1.75" fill="#c7786d"/><circle cx="733.8" cy="388.8" r="1.75" fill="#c7786d"/><circle cx="734.7" cy="385.6" r="1.75" fill="#c7786d"/><circle cx="735.6" cy="377.9" r="1.75" fill="#c7786d"/><circle cx="736.5" cy="382.5" r="1.75" fill="#c7786d"/><circle cx="737.4" cy="384.8" r="1.75" fill="#c7786d"/><circle cx="738.3" cy="379.8" r="1.75" fill="#c7786d"/><circle cx="739.2" cy="377.3" r="1.75" fill="#c7786d"/><circle cx="740.1" cy="371.2" r="1.75" fill="#c7786d"/><circle cx="741.0" cy="359.4" r="1.75" fill="#c7786d"/><circle cx="741.9" cy="363.8" r="1.75" fill="#c7786d"/><circle cx="742.8" cy="359.8" r="1.75" fill="#c7786d"/><circle cx="743.7" cy="365.0" r="1.75" fill="#c7786d"/><circle cx="744.6" cy="362.2" r="1.75" fill="#c7786d"/><circle cx="745.5" cy="359.9" r="1.75" fill="#c7786d"/><circle cx="746.4" cy="366.8" r="1.75" fill="#c7786d"/><circle cx="747.3" cy="364.4" r="1.75" fill="#c7786d"/><circle cx="748.2" cy="368.0" r="1.75" fill="#c7786d"/><circle cx="749.1" cy="368.0" r="1.75" fill="#c7786d"/><circle cx="750.0" cy="363.4" r="1.75" fill="#c7786d"/><circle cx="750.9" cy="369.4" r="1.75" fill="#c7786d"/><circle cx="751.8" cy="366.7" r="1.75" fill="#c7786d"/><circle cx="752.7" cy="367.7" r="1.75" fill="#c7786d"/><circle cx="753.6" cy="363.7" r="1.75" fill="#c7786d"/><circle cx="754.5" cy="370.1" r="1.75" fill="#c7786d"/><circle cx="755.4" cy="366.8" r="1.75" fill="#c7786d"/><circle cx="756.3" cy="364.1" r="1.75" fill="#c7786d"/><circle cx="757.2" cy="369.8" r="1.75" fill="#c7786d"/><circle cx="758.1" cy="367.1" r="1.75" fill="#c7786d"/><circle cx="759.0" cy="361.2" r="1.75" fill="#c7786d"/><circle cx="759.9" cy="364.1" r="1.75" fill="#c7786d"/><circle cx="760.8" cy="369.4" r="1.75" fill="#c7786d"/><circle cx="761.7" cy="366.8" r="1.75" fill="#c7786d"/><circle cx="762.6" cy="371.7" r="1.75" fill="#c7786d"/><circle cx="763.5" cy="371.6" r="1.75" fill="#c7786d"/><circle cx="764.4" cy="367.6" r="1.75" fill="#c7786d"/><circle cx="765.3" cy="372.2" r="1.75" fill="#c7786d"/><circle cx="766.2" cy="367.2" r="1.75" fill="#c7786d"/><circle cx="767.1" cy="369.9" r="1.75" fill="#c7786d"/><circle cx="768.0" cy="372.6" r="1.75" fill="#c7786d"/><circle cx="768.9" cy="367.2" r="1.75" fill="#c7786d"/><circle cx="769.8" cy="369.9" r="1.75" fill="#c7786d"/><circle cx="770.7" cy="373.0" r="1.75" fill="#c7786d"/><circle cx="771.6" cy="367.6" r="1.75" fill="#c7786d"/><circle cx="772.5" cy="370.2" r="1.75" fill="#c7786d"/><circle cx="773.4" cy="369.7" r="1.75" fill="#c7786d"/><circle cx="774.3" cy="363.7" r="1.75" fill="#c7786d"/><circle cx="775.2" cy="366.5" r="1.75" fill="#c7786d"/><circle cx="776.1" cy="369.4" r="1.75" fill="#c7786d"/><circle cx="777.0" cy="363.2" r="1.75" fill="#c7786d"/><circle cx="777.9" cy="366.4" r="1.75" fill="#c7786d"/><circle cx="778.8" cy="368.8" r="1.75" fill="#c7786d"/><circle cx="779.7" cy="371.5" r="1.75" fill="#c7786d"/><circle cx="780.6" cy="365.5" r="1.75" fill="#c7786d"/><circle cx="781.5" cy="368.6" r="1.75" fill="#c7786d"/><circle cx="782.4" cy="361.7" r="1.75" fill="#c7786d"/><circle cx="783.3" cy="364.1" r="1.75" fill="#c7786d"/><circle cx="784.2" cy="367.3" r="1.75" fill="#c7786d"/><circle cx="785.1" cy="361.5" r="1.75" fill="#c7786d"/><circle cx="786.0" cy="364.6" r="1.75" fill="#c7786d"/><circle cx="786.9" cy="368.2" r="1.75" fill="#c7786d"/><circle cx="787.8" cy="362.2" r="1.75" fill="#c7786d"/><circle cx="788.7" cy="365.9" r="1.75" fill="#c7786d"/><circle cx="789.6" cy="369.3" r="1.75" fill="#c7786d"/><circle cx="790.5" cy="369.3" r="1.75" fill="#c7786d"/><circle cx="791.4" cy="366.6" r="1.75" fill="#c7786d"/><circle cx="792.3" cy="364.1" r="1.75" fill="#c7786d"/><circle cx="793.2" cy="368.9" r="1.75" fill="#c7786d"/><circle cx="794.1" cy="360.2" r="1.75" fill="#c7786d"/><circle cx="795.0" cy="365.7" r="1.75" fill="#c7786d"/><circle cx="795.9" cy="368.2" r="1.75" fill="#c7786d"/><circle cx="796.8" cy="362.1" r="1.75" fill="#c7786d"/><circle cx="797.7" cy="358.6" r="1.75" fill="#c7786d"/><circle cx="798.6" cy="369.3" r="1.75" fill="#c7786d"/><circle cx="799.5" cy="366.9" r="1.75" fill="#c7786d"/><circle cx="800.4" cy="364.1" r="1.75" fill="#c7786d"/><circle cx="801.3" cy="370.3" r="1.75" fill="#c7786d"/><circle cx="802.2" cy="367.2" r="1.75" fill="#c7786d"/><circle cx="803.1" cy="368.9" r="1.75" fill="#c7786d"/><circle cx="804.0" cy="364.1" r="1.75" fill="#c7786d"/><circle cx="804.9" cy="363.2" r="1.75" fill="#c7786d"/><circle cx="805.8" cy="367.2" r="1.75" fill="#c7786d"/><circle cx="806.7" cy="359.5" r="1.75" fill="#c7786d"/><circle cx="807.6" cy="364.6" r="1.75" fill="#c7786d"/><circle cx="808.5" cy="360.6" r="1.75" fill="#c7786d"/><circle cx="809.4" cy="358.3" r="1.75" fill="#c7786d"/><circle cx="810.3" cy="364.0" r="1.75" fill="#c7786d"/><circle cx="811.2" cy="356.2" r="1.75" fill="#c7786d"/><circle cx="812.1" cy="360.4" r="1.75" fill="#c7786d"/><circle cx="813.0" cy="363.1" r="1.75" fill="#c7786d"/><circle cx="813.9" cy="357.5" r="1.75" fill="#c7786d"/><circle cx="814.8" cy="360.7" r="1.75" fill="#c7786d"/><circle cx="815.7" cy="363.2" r="1.75" fill="#c7786d"/><circle cx="816.6" cy="367.1" r="1.75" fill="#c7786d"/><circle cx="817.5" cy="360.5" r="1.75" fill="#c7786d"/><circle cx="818.4" cy="363.2" r="1.75" fill="#c7786d"/><circle cx="819.3" cy="357.2" r="1.75" fill="#c7786d"/><circle cx="820.2" cy="360.6" r="1.75" fill="#c7786d"/><circle cx="821.1" cy="363.9" r="1.75" fill="#c7786d"/><circle cx="822.0" cy="366.8" r="1.75" fill="#c7786d"/><circle cx="822.9" cy="360.6" r="1.75" fill="#c7786d"/><circle cx="823.8" cy="363.0" r="1.75" fill="#c7786d"/><circle cx="824.7" cy="365.9" r="1.75" fill="#c7786d"/><circle cx="825.6" cy="368.5" r="1.75" fill="#c7786d"/><circle cx="826.5" cy="361.0" r="1.75" fill="#c7786d"/><circle cx="827.4" cy="364.6" r="1.75" fill="#c7786d"/><circle cx="828.3" cy="360.6" r="1.75" fill="#c7786d"/><circle cx="829.2" cy="359.0" r="1.75" fill="#c7786d"/><circle cx="830.1" cy="363.5" r="1.75" fill="#c7786d"/><circle cx="831.0" cy="365.8" r="1.75" fill="#c7786d"/><circle cx="831.9" cy="360.6" r="1.75" fill="#c7786d"/><circle cx="832.8" cy="363.1" r="1.75" fill="#c7786d"/><circle cx="833.7" cy="367.1" r="1.75" fill="#c7786d"/><circle cx="834.6" cy="371.5" r="1.75" fill="#c7786d"/><circle cx="835.5" cy="364.7" r="1.75" fill="#c7786d"/><circle cx="836.4" cy="372.8" r="1.75" fill="#c7786d"/><circle cx="837.3" cy="362.0" r="1.75" fill="#c7786d"/><circle cx="838.2" cy="366.8" r="1.75" fill="#c7786d"/><circle cx="839.1" cy="358.1" r="1.75" fill="#c7786d"/><circle cx="840.0" cy="360.9" r="1.75" fill="#c7786d"/><circle cx="840.9" cy="364.4" r="1.75" fill="#c7786d"/><circle cx="841.8" cy="358.3" r="1.75" fill="#c7786d"/><circle cx="842.7" cy="361.9" r="1.75" fill="#c7786d"/><circle cx="843.6" cy="360.3" r="1.75" fill="#c7786d"/><circle cx="844.5" cy="357.5" r="1.75" fill="#c7786d"/><circle cx="845.4" cy="363.6" r="1.75" fill="#c7786d"/><circle cx="846.3" cy="369.6" r="1.75" fill="#c7786d"/><circle cx="847.2" cy="366.8" r="1.75" fill="#c7786d"/><circle cx="848.1" cy="363.7" r="1.75" fill="#c7786d"/><circle cx="849.0" cy="370.1" r="1.75" fill="#c7786d"/><circle cx="849.9" cy="366.4" r="1.75" fill="#c7786d"/><circle cx="850.8" cy="357.8" r="1.75" fill="#c7786d"/><circle cx="851.7" cy="361.2" r="1.75" fill="#c7786d"/><circle cx="852.6" cy="364.0" r="1.75" fill="#c7786d"/><circle cx="853.5" cy="367.1" r="1.75" fill="#c7786d"/><circle cx="854.4" cy="358.3" r="1.75" fill="#c7786d"/><circle cx="855.3" cy="361.4" r="1.75" fill="#c7786d"/><circle cx="856.2" cy="364.0" r="1.75" fill="#c7786d"/><circle cx="857.1" cy="358.8" r="1.75" fill="#c7786d"/><circle cx="858.0" cy="361.1" r="1.75" fill="#c7786d"/><circle cx="858.9" cy="365.0" r="1.75" fill="#c7786d"/><circle cx="859.8" cy="367.7" r="1.75" fill="#c7786d"/><circle cx="860.7" cy="362.4" r="1.75" fill="#c7786d"/><circle cx="861.6" cy="358.8" r="1.75" fill="#c7786d"/><circle cx="862.5" cy="364.8" r="1.75" fill="#c7786d"/><circle cx="863.4" cy="361.1" r="1.75" fill="#c7786d"/><circle cx="864.3" cy="367.4" r="1.75" fill="#c7786d"/><circle cx="865.2" cy="363.9" r="1.75" fill="#c7786d"/><circle cx="866.1" cy="371.9" r="1.75" fill="#c7786d"/><circle cx="867.0" cy="368.6" r="1.75" fill="#c7786d"/><circle cx="867.9" cy="367.1" r="1.75" fill="#c7786d"/><circle cx="868.8" cy="372.1" r="1.75" fill="#c7786d"/><circle cx="869.7" cy="361.4" r="1.75" fill="#c7786d"/><circle cx="870.6" cy="366.4" r="1.75" fill="#c7786d"/><circle cx="871.5" cy="363.9" r="1.75" fill="#c7786d"/><circle cx="872.4" cy="361.3" r="1.75" fill="#c7786d"/><circle cx="873.3" cy="367.4" r="1.75" fill="#c7786d"/><circle cx="874.2" cy="364.7" r="1.75" fill="#c7786d"/><circle cx="875.1" cy="361.4" r="1.75" fill="#c7786d"/><circle cx="876.0" cy="367.4" r="1.75" fill="#c7786d"/><circle cx="876.9" cy="363.8" r="1.75" fill="#c7786d"/><circle cx="877.8" cy="370.0" r="1.75" fill="#c7786d"/><circle cx="878.7" cy="367.2" r="1.75" fill="#c7786d"/><circle cx="879.6" cy="364.8" r="1.75" fill="#c7786d"/><circle cx="880.5" cy="369.8" r="1.75" fill="#c7786d"/><circle cx="881.4" cy="362.2" r="1.75" fill="#c7786d"/><circle cx="882.3" cy="364.7" r="1.75" fill="#c7786d"/><circle cx="883.2" cy="367.7" r="1.75" fill="#c7786d"/><circle cx="884.1" cy="361.8" r="1.75" fill="#c7786d"/><circle cx="885.0" cy="364.2" r="1.75" fill="#c7786d"/><circle cx="885.9" cy="368.4" r="1.75" fill="#c7786d"/><circle cx="886.8" cy="371.2" r="1.75" fill="#c7786d"/><circle cx="887.7" cy="363.2" r="1.75" fill="#c7786d"/><circle cx="888.6" cy="367.4" r="1.75" fill="#c7786d"/><circle cx="889.5" cy="370.7" r="1.75" fill="#c7786d"/><circle cx="890.4" cy="363.1" r="1.75" fill="#c7786d"/><circle cx="891.3" cy="366.5" r="1.75" fill="#c7786d"/><circle cx="892.2" cy="369.4" r="1.75" fill="#c7786d"/><circle cx="893.1" cy="361.9" r="1.75" fill="#c7786d"/><circle cx="894.0" cy="365.8" r="1.75" fill="#c7786d"/><circle cx="894.9" cy="368.5" r="1.75" fill="#c7786d"/><circle cx="895.8" cy="363.2" r="1.75" fill="#c7786d"/><circle cx="896.7" cy="365.7" r="1.75" fill="#c7786d"/><circle cx="897.6" cy="369.1" r="1.75" fill="#c7786d"/><circle cx="898.5" cy="372.4" r="1.75" fill="#c7786d"/><circle cx="899.4" cy="367.9" r="1.75" fill="#c7786d"/><circle cx="900.3" cy="375.3" r="1.75" fill="#c7786d"/><circle cx="901.2" cy="370.8" r="1.75" fill="#c7786d"/><circle cx="902.1" cy="372.2" r="1.75" fill="#c7786d"/><circle cx="903.0" cy="376.5" r="1.75" fill="#c7786d"/><circle cx="903.9" cy="380.4" r="1.75" fill="#c7786d"/><circle cx="904.8" cy="373.9" r="1.75" fill="#c7786d"/><circle cx="905.7" cy="378.1" r="1.75" fill="#c7786d"/><circle cx="906.6" cy="379.4" r="1.75" fill="#c7786d"/><circle cx="907.5" cy="373.2" r="1.75" fill="#c7786d"/><circle cx="908.4" cy="370.8" r="1.75" fill="#c7786d"/><circle cx="909.3" cy="377.7" r="1.75" fill="#c7786d"/><circle cx="910.2" cy="374.2" r="1.75" fill="#c7786d"/><circle cx="911.1" cy="370.2" r="1.75" fill="#c7786d"/><circle cx="912.0" cy="377.0" r="1.75" fill="#c7786d"/><circle cx="912.9" cy="372.9" r="1.75" fill="#c7786d"/><circle cx="913.8" cy="370.5" r="1.75" fill="#c7786d"/><circle cx="914.7" cy="368.1" r="1.75" fill="#c7786d"/><circle cx="915.6" cy="374.4" r="1.75" fill="#c7786d"/><circle cx="916.5" cy="372.0" r="1.75" fill="#c7786d"/><circle cx="917.4" cy="366.4" r="1.75" fill="#c7786d"/><circle cx="918.3" cy="365.3" r="1.75" fill="#c7786d"/><circle cx="919.2" cy="369.4" r="1.75" fill="#c7786d"/><circle cx="920.1" cy="372.2" r="1.75" fill="#c7786d"/><circle cx="921.0" cy="366.3" r="1.75" fill="#c7786d"/><circle cx="921.9" cy="368.8" r="1.75" fill="#c7786d"/><circle cx="922.8" cy="363.9" r="1.75" fill="#c7786d"/><circle cx="923.7" cy="366.2" r="1.75" fill="#c7786d"/><circle cx="924.6" cy="368.7" r="1.75" fill="#c7786d"/><circle cx="925.5" cy="363.9" r="1.75" fill="#c7786d"/><circle cx="926.4" cy="366.3" r="1.75" fill="#c7786d"/><circle cx="927.3" cy="367.0" r="1.75" fill="#c7786d"/><circle cx="429.7" cy="375.3" r="1.75" fill="#c7786d"/><circle cx="429.2" cy="382.4" r="1.75" fill="#c7786d"/><circle cx="480.7" cy="378.0" r="1.75" fill="#c7786d"/><circle cx="379.9" cy="388.4" r="1.75" fill="#c7786d"/><circle cx="503.3" cy="354.4" r="1.75" fill="#c7786d"/><circle cx="563.4" cy="375.3" r="1.75" fill="#c7786d"/><circle cx="605.0" cy="379.5" r="1.75" fill="#c7786d"/><circle cx="606.8" cy="382.0" r="1.75" fill="#c7786d"/><circle cx="608.1" cy="385.6" r="1.75" fill="#c7786d"/><circle cx="630.1" cy="377.0" r="1.75" fill="#c7786d"/><circle cx="629.8" cy="380.5" r="1.75" fill="#c7786d"/><circle cx="638.9" cy="383.2" r="1.75" fill="#c7786d"/><circle cx="645.0" cy="384.0" r="1.75" fill="#c7786d"/><circle cx="654.0" cy="396.8" r="1.75" fill="#c7786d"/><circle cx="653.5" cy="399.6" r="1.75" fill="#c7786d"/><circle cx="655.0" cy="401.5" r="1.75" fill="#c7786d"/><circle cx="763.0" cy="381.0" r="1.75" fill="#c7786d"/><circle cx="775.2" cy="385.6" r="1.75" fill="#c7786d"/><circle cx="781.6" cy="376.3" r="1.75" fill="#c7786d"/><circle cx="828.3" cy="379.6" r="1.75" fill="#c7786d"/><circle cx="843.0" cy="377.7" r="1.75" fill="#c7786d"/><circle cx="862.2" cy="377.7" r="1.75" fill="#c7786d"/><circle cx="713.0" cy="389.9" r="1.75" fill="#c7786d"/><circle cx="719.6" cy="390.8" r="1.75" fill="#c7786d"/><circle cx="731.7" cy="390.8" r="1.75" fill="#c7786d"/><circle cx="736.4" cy="393.0" r="1.75" fill="#c7786d"/><circle cx="738.3" cy="389.3" r="1.75" fill="#c7786d"/><circle cx="546.3" cy="386.0" r="1.75" fill="#c7786d"/><circle cx="543.7" cy="381.5" r="1.75" fill="#c7786d"/><circle cx="394.0" cy="349.0" r="1.75" fill="#c7786d"/><circle cx="400.0" cy="349.0" r="1.75" fill="#c7786d"/><circle cx="625.0" cy="351.4" r="1.75" fill="#c7786d"/></g>
<g>
<rect x="23.00" y="414.0" width="70.25" height="11.5" fill="#f9bd84"/><rect x="92.90" y="414.0" width="46.25" height="11.5" fill="#bfc7e6"/><rect x="138.80" y="414.0" width="75.45" height="11.5" fill="#6f7cbc"/><rect x="213.90" y="414.0" width="36.45" height="11.5" fill="#9ad088"/><rect x="250.00" y="414.0" width="5.25" height="11.5" fill="#c4c4c4"/><rect x="254.90" y="414.0" width="33.35" height="11.5" fill="#82ccd3"/><rect x="287.90" y="414.0" width="92.45" height="11.5" fill="#f8b8bf"/><rect x="380.00" y="414.0" width="547.20" height="11.5" fill="#c8766d"/>
<rect x="23.00" y="432.2" width="112.35" height="11.7" fill="#a5d8db"/><rect x="135.00" y="432.2" width="0.95" height="11.7" fill="#6c86c4"/><rect x="135.60" y="432.2" width="1.95" height="11.7" fill="#a5d8db"/><rect x="137.20" y="432.2" width="47.15" height="11.7" fill="#6c86c4"/><rect x="184.00" y="432.2" width="2.35" height="11.7" fill="#a5d8db"/><rect x="186.00" y="432.2" width="28.25" height="11.7" fill="#6c86c4"/><rect x="213.90" y="432.2" width="44.45" height="11.7" fill="#a5d8db"/><rect x="258.00" y="432.2" width="0.95" height="11.7" fill="#6c86c4"/><rect x="258.60" y="432.2" width="38.75" height="11.7" fill="#a5d8db"/><rect x="297.00" y="432.2" width="7.25" height="11.7" fill="#6c86c4"/><rect x="303.90" y="432.2" width="64.45" height="11.7" fill="#a5d8db"/><rect x="368.00" y="432.2" width="1.15" height="11.7" fill="#6c86c4"/><rect x="368.80" y="432.2" width="11.55" height="11.7" fill="#a5d8db"/><rect x="380.00" y="432.2" width="3.15" height="11.7" fill="#6c86c4"/><rect x="382.80" y="432.2" width="10.55" height="11.7" fill="#a5d8db"/><rect x="393.00" y="432.2" width="1.35" height="11.7" fill="#6c86c4"/><rect x="394.00" y="432.2" width="3.35" height="11.7" fill="#a5d8db"/><rect x="397.00" y="432.2" width="32.35" height="11.7" fill="#6c86c4"/><rect x="429.00" y="432.2" width="1.35" height="11.7" fill="#a5d8db"/><rect x="430.00" y="432.2" width="37.15" height="11.7" fill="#6c86c4"/><rect x="466.80" y="432.2" width="1.25" height="11.7" fill="#a5d8db"/><rect x="467.70" y="432.2" width="2.85" height="11.7" fill="#6c86c4"/><rect x="470.20" y="432.2" width="4.05" height="11.7" fill="#a5d8db"/><rect x="473.90" y="432.2" width="7.35" height="11.7" fill="#6c86c4"/><rect x="480.90" y="432.2" width="1.25" height="11.7" fill="#a5d8db"/><rect x="481.80" y="432.2" width="32.55" height="11.7" fill="#6c86c4"/><rect x="514.00" y="432.2" width="1.35" height="11.7" fill="#a5d8db"/><rect x="515.00" y="432.2" width="31.15" height="11.7" fill="#6c86c4"/><rect x="545.80" y="432.2" width="1.35" height="11.7" fill="#a5d8db"/><rect x="546.80" y="432.2" width="83.55" height="11.7" fill="#6c86c4"/><rect x="630.00" y="432.2" width="1.55" height="11.7" fill="#a5d8db"/><rect x="631.20" y="432.2" width="4.05" height="11.7" fill="#6c86c4"/><rect x="634.90" y="432.2" width="1.55" height="11.7" fill="#a5d8db"/><rect x="636.10" y="432.2" width="11.25" height="11.7" fill="#6c86c4"/><rect x="647.00" y="432.2" width="4.25" height="11.7" fill="#a5d8db"/><rect x="650.90" y="432.2" width="1.35" height="11.7" fill="#6c86c4"/><rect x="651.90" y="432.2" width="4.45" height="11.7" fill="#a5d8db"/><rect x="656.00" y="432.2" width="20.35" height="11.7" fill="#6c86c4"/><rect x="676.00" y="432.2" width="24.55" height="11.7" fill="#a5d8db"/><rect x="700.20" y="432.2" width="3.15" height="11.7" fill="#6c86c4"/><rect x="703.00" y="432.2" width="2.35" height="11.7" fill="#a5d8db"/><rect x="705.00" y="432.2" width="18.35" height="11.7" fill="#6c86c4"/><rect x="723.00" y="432.2" width="2.35" height="11.7" fill="#a5d8db"/><rect x="725.00" y="432.2" width="7.35" height="11.7" fill="#6c86c4"/><rect x="732.00" y="432.2" width="2.95" height="11.7" fill="#a5d8db"/><rect x="734.60" y="432.2" width="28.75" height="11.7" fill="#6c86c4"/><rect x="763.00" y="432.2" width="1.25" height="11.7" fill="#a5d8db"/><rect x="763.90" y="432.2" width="1.75" height="11.7" fill="#6c86c4"/><rect x="765.30" y="432.2" width="1.75" height="11.7" fill="#a5d8db"/><rect x="766.70" y="432.2" width="16.85" height="11.7" fill="#6c86c4"/><rect x="783.20" y="432.2" width="2.45" height="11.7" fill="#a5d8db"/><rect x="785.30" y="432.2" width="4.05" height="11.7" fill="#6c86c4"/><rect x="789.00" y="432.2" width="1.55" height="11.7" fill="#a5d8db"/><rect x="790.20" y="432.2" width="11.15" height="11.7" fill="#6c86c4"/><rect x="801.00" y="432.2" width="1.35" height="11.7" fill="#a5d8db"/><rect x="802.00" y="432.2" width="26.25" height="11.7" fill="#6c86c4"/><rect x="827.90" y="432.2" width="1.45" height="11.7" fill="#a5d8db"/><rect x="829.00" y="432.2" width="41.35" height="11.7" fill="#6c86c4"/><rect x="870.00" y="432.2" width="1.75" height="11.7" fill="#a5d8db"/><rect x="871.40" y="432.2" width="3.95" height="11.7" fill="#6c86c4"/><rect x="875.00" y="432.2" width="1.75" height="11.7" fill="#a5d8db"/><rect x="876.40" y="432.2" width="18.95" height="11.7" fill="#6c86c4"/><rect x="895.00" y="432.2" width="1.35" height="11.7" fill="#a5d8db"/><rect x="896.00" y="432.2" width="21.35" height="11.7" fill="#6c86c4"/><rect x="917.00" y="432.2" width="1.75" height="11.7" fill="#a5d8db"/><rect x="918.40" y="432.2" width="5.15" height="11.7" fill="#6c86c4"/><rect x="923.20" y="432.2" width="1.55" height="11.7" fill="#a5d8db"/><rect x="924.40" y="432.2" width="2.80" height="11.7" fill="#6c86c4"/><rect x="134.86" y="432.2" width="0.88" height="11.7" fill="#6c86c4"/><rect x="257.86" y="432.2" width="0.88" height="11.7" fill="#6c86c4"/><rect x="367.96" y="432.2" width="0.88" height="11.7" fill="#6c86c4"/>
<rect x="23.00" y="450.2" width="1.35" height="11.7" fill="#0b0d0b"/><rect x="24.00" y="450.2" width="0.92" height="11.7" fill="#555c45"/><rect x="24.57" y="450.2" width="1.45" height="11.7" fill="#4d543f"/><rect x="25.67" y="450.2" width="2.40" height="11.7" fill="#555c45"/><rect x="27.72" y="450.2" width="1.38" height="11.7" fill="#4d543f"/><rect x="28.75" y="450.2" width="1.27" height="11.7" fill="#6b7257"/><rect x="29.67" y="450.2" width="4.26" height="11.7" fill="#555c45"/><rect x="33.58" y="450.2" width="1.91" height="11.7" fill="#626a4f"/><rect x="35.14" y="450.2" width="2.20" height="11.7" fill="#555c45"/><rect x="36.99" y="450.2" width="2.26" height="11.7" fill="#454b38"/><rect x="38.90" y="450.2" width="2.22" height="11.7" fill="#4d543f"/><rect x="40.77" y="450.2" width="1.23" height="11.7" fill="#454b38"/><rect x="43.50" y="450.2" width="1.40" height="11.7" fill="#8a9470"/><rect x="44.55" y="450.2" width="2.95" height="11.7" fill="#7d8765"/><rect x="47.15" y="450.2" width="3.20" height="11.7" fill="#8a9470"/><rect x="50.00" y="450.2" width="1.87" height="11.7" fill="#e2ebb0"/><rect x="51.52" y="450.2" width="2.30" height="11.7" fill="#b6c590"/><rect x="53.47" y="450.2" width="1.35" height="11.7" fill="#e2ebb0"/><rect x="54.47" y="450.2" width="2.63" height="11.7" fill="#d3e4a9"/><rect x="56.75" y="450.2" width="3.25" height="11.7" fill="#c5d49a"/><rect x="63.00" y="450.2" width="4.35" height="11.7" fill="#0b0d0b"/><rect x="67.00" y="450.2" width="2.50" height="11.7" fill="#626a4f"/><rect x="69.15" y="450.2" width="3.01" height="11.7" fill="#7d8765"/><rect x="71.81" y="450.2" width="1.19" height="11.7" fill="#6b7257"/><rect x="72.65" y="450.2" width="2.26" height="11.7" fill="#626a4f"/><rect x="74.56" y="450.2" width="2.39" height="11.7" fill="#7d8765"/><rect x="76.60" y="450.2" width="2.44" height="11.7" fill="#4d543f"/><rect x="78.69" y="450.2" width="1.46" height="11.7" fill="#555c45"/><rect x="79.80" y="450.2" width="2.24" height="11.7" fill="#7d8765"/><rect x="81.69" y="450.2" width="3.44" height="11.7" fill="#5b634a"/><rect x="84.78" y="450.2" width="1.28" height="11.7" fill="#555c45"/><rect x="85.71" y="450.2" width="0.64" height="11.7" fill="#626a4f"/><rect x="86.00" y="450.2" width="7.30" height="11.7" fill="#b6c590"/><rect x="94.20" y="450.2" width="0.60" height="11.7" fill="#555c45"/><rect x="97.00" y="450.2" width="2.56" height="11.7" fill="#c2d19a"/><rect x="99.21" y="450.2" width="11.09" height="11.7" fill="#b6c590"/><rect x="109.95" y="450.2" width="5.94" height="11.7" fill="#c2d19a"/><rect x="115.54" y="450.2" width="5.17" height="11.7" fill="#b6c590"/><rect x="120.36" y="450.2" width="1.39" height="11.7" fill="#c2d19a"/><rect x="121.40" y="450.2" width="10.95" height="11.7" fill="#b6c590"/><rect x="132.00" y="450.2" width="3.18" height="11.7" fill="#cde2a6"/><rect x="134.83" y="450.2" width="5.63" height="11.7" fill="#d3e4a9"/><rect x="140.11" y="450.2" width="1.85" height="11.7" fill="#dbe8ad"/><rect x="141.61" y="450.2" width="1.61" height="11.7" fill="#e2ebb0"/><rect x="142.87" y="450.2" width="4.14" height="11.7" fill="#cde2a6"/><rect x="146.66" y="450.2" width="1.73" height="11.7" fill="#dbe8ad"/><rect x="148.04" y="450.2" width="8.23" height="11.7" fill="#d3e4a9"/><rect x="155.92" y="450.2" width="4.16" height="11.7" fill="#e2ebb0"/><rect x="159.73" y="450.2" width="5.29" height="11.7" fill="#d3e4a9"/><rect x="164.67" y="450.2" width="3.32" height="11.7" fill="#dbe8ad"/><rect x="167.64" y="450.2" width="1.28" height="11.7" fill="#cde2a6"/><rect x="168.57" y="450.2" width="2.68" height="11.7" fill="#e2ebb0"/><rect x="170.90" y="450.2" width="6.43" height="11.7" fill="#d3e4a9"/><rect x="176.98" y="450.2" width="1.39" height="11.7" fill="#cde2a6"/><rect x="178.02" y="450.2" width="1.78" height="11.7" fill="#d3e4a9"/><rect x="181.00" y="450.2" width="3.22" height="11.7" fill="#d3e4a9"/><rect x="183.87" y="450.2" width="1.92" height="11.7" fill="#cde2a6"/><rect x="185.44" y="450.2" width="2.30" height="11.7" fill="#e2ebb0"/><rect x="187.39" y="450.2" width="3.41" height="11.7" fill="#cde2a6"/><rect x="190.45" y="450.2" width="2.65" height="11.7" fill="#dbe8ad"/><rect x="192.75" y="450.2" width="4.12" height="11.7" fill="#cde2a6"/><rect x="196.52" y="450.2" width="2.41" height="11.7" fill="#dbe8ad"/><rect x="198.58" y="450.2" width="1.57" height="11.7" fill="#d3e4a9"/><rect x="199.80" y="450.2" width="2.43" height="11.7" fill="#cde2a6"/><rect x="201.88" y="450.2" width="2.99" height="11.7" fill="#e2ebb0"/><rect x="204.52" y="450.2" width="8.20" height="11.7" fill="#d3e4a9"/><rect x="212.37" y="450.2" width="1.88" height="11.7" fill="#e2ebb0"/><rect x="213.90" y="450.2" width="0.45" height="11.7" fill="#d3e4a9"/><rect x="214.00" y="450.2" width="1.00" height="11.7" fill="#0b0d0b"/><rect x="216.00" y="450.2" width="1.85" height="11.7" fill="#555c45"/><rect x="217.50" y="450.2" width="1.15" height="11.7" fill="#8a9470"/><rect x="218.30" y="450.2" width="1.20" height="11.7" fill="#555c45"/><rect x="226.00" y="450.2" width="6.60" height="11.7" fill="#c2d69c"/><rect x="250.00" y="450.2" width="1.16" height="11.7" fill="#454b38"/><rect x="250.81" y="450.2" width="1.02" height="11.7" fill="#555c45"/><rect x="251.48" y="450.2" width="1.01" height="11.7" fill="#8a9470"/><rect x="252.14" y="450.2" width="1.52" height="11.7" fill="#454b38"/><rect x="253.31" y="450.2" width="1.53" height="11.7" fill="#555c45"/><rect x="254.49" y="450.2" width="0.86" height="11.7" fill="#8a9470"/><rect x="255.00" y="450.2" width="2.85" height="11.7" fill="#b6c590"/><rect x="257.50" y="450.2" width="2.48" height="11.7" fill="#d3e4a9"/><rect x="259.63" y="450.2" width="3.68" height="11.7" fill="#c9dba0"/><rect x="262.96" y="450.2" width="1.38" height="11.7" fill="#d3e4a9"/><rect x="263.99" y="450.2" width="2.92" height="11.7" fill="#c2d69c"/><rect x="266.56" y="450.2" width="1.79" height="11.7" fill="#d3e4a9"/><rect x="268.00" y="450.2" width="0.85" height="11.7" fill="#8a9470"/><rect x="268.50" y="450.2" width="5.41" height="11.7" fill="#d3e4a9"/><rect x="273.56" y="450.2" width="1.09" height="11.7" fill="#c2d69c"/><rect x="274.30" y="450.2" width="0.85" height="11.7" fill="#8a9470"/><rect x="274.80" y="450.2" width="6.83" height="11.7" fill="#c2d69c"/><rect x="281.28" y="450.2" width="3.22" height="11.7" fill="#c9dba0"/><rect x="284.15" y="450.2" width="1.58" height="11.7" fill="#d3e4a9"/><rect x="285.38" y="450.2" width="3.27" height="11.7" fill="#c2d69c"/><rect x="288.30" y="450.2" width="1.05" height="11.7" fill="#555c45"/><rect x="289.00" y="450.2" width="1.58" height="11.7" fill="#b6c590"/><rect x="290.23" y="450.2" width="1.83" height="11.7" fill="#9dac80"/><rect x="291.71" y="450.2" width="2.19" height="11.7" fill="#b6c590"/><rect x="293.55" y="450.2" width="1.44" height="11.7" fill="#9dac80"/><rect x="294.64" y="450.2" width="2.71" height="11.7" fill="#a9b98a"/><rect x="297.00" y="450.2" width="7.35" height="11.7" fill="#d3e4a9"/><rect x="304.00" y="450.2" width="1.23" height="11.7" fill="#555c45"/><rect x="304.88" y="450.2" width="1.13" height="11.7" fill="#8a9470"/><rect x="305.66" y="450.2" width="1.64" height="11.7" fill="#555c45"/><rect x="306.95" y="450.2" width="1.25" height="11.7" fill="#8a9470"/><rect x="307.85" y="450.2" width="1.31" height="11.7" fill="#555c45"/><rect x="308.81" y="450.2" width="1.19" height="11.7" fill="#b6c590"/><rect x="311.20" y="450.2" width="1.55" height="11.7" fill="#b6c590"/><rect x="312.40" y="450.2" width="1.08" height="11.7" fill="#8a9470"/><rect x="313.13" y="450.2" width="1.15" height="11.7" fill="#555c45"/><rect x="313.93" y="450.2" width="1.58" height="11.7" fill="#8a9470"/><rect x="315.16" y="450.2" width="1.89" height="11.7" fill="#555c45"/><rect x="316.70" y="450.2" width="5.02" height="11.7" fill="#626a4f"/><rect x="321.37" y="450.2" width="2.00" height="11.7" fill="#555c45"/><rect x="323.02" y="450.2" width="2.44" height="11.7" fill="#626a4f"/><rect x="325.11" y="450.2" width="1.56" height="11.7" fill="#4d543f"/><rect x="326.32" y="450.2" width="0.73" height="11.7" fill="#626a4f"/><rect x="326.70" y="450.2" width="1.92" height="11.7" fill="#8a9470"/><rect x="328.27" y="450.2" width="2.23" height="11.7" fill="#c2d19a"/><rect x="330.15" y="450.2" width="3.34" height="11.7" fill="#a5b483"/><rect x="333.14" y="450.2" width="2.67" height="11.7" fill="#c2d19a"/><rect x="335.46" y="450.2" width="2.93" height="11.7" fill="#a5b483"/><rect x="338.04" y="450.2" width="9.20" height="11.7" fill="#b6c590"/><rect x="346.89" y="450.2" width="2.15" height="11.7" fill="#8a9470"/><rect x="348.69" y="450.2" width="2.21" height="11.7" fill="#b6c590"/><rect x="352.80" y="450.2" width="1.55" height="11.7" fill="#8a9470"/><rect x="354.00" y="450.2" width="1.15" height="11.7" fill="#b6c590"/><rect x="354.80" y="450.2" width="1.51" height="11.7" fill="#555c45"/><rect x="355.96" y="450.2" width="1.61" height="11.7" fill="#8a9470"/><rect x="357.22" y="450.2" width="1.44" height="11.7" fill="#b6c590"/><rect x="358.31" y="450.2" width="1.48" height="11.7" fill="#555c45"/><rect x="359.44" y="450.2" width="3.58" height="11.7" fill="#b6c590"/><rect x="362.67" y="450.2" width="0.68" height="11.7" fill="#555c45"/><rect x="363.00" y="450.2" width="1.26" height="11.7" fill="#a5b483"/><rect x="363.91" y="450.2" width="2.16" height="11.7" fill="#b6c590"/><rect x="365.72" y="450.2" width="1.39" height="11.7" fill="#a5b483"/><rect x="366.76" y="450.2" width="3.98" height="11.7" fill="#b6c590"/><rect x="370.39" y="450.2" width="0.31" height="11.7" fill="#c2d19a"/><rect x="372.30" y="450.2" width="7.35" height="11.7" fill="#b6c590"/><rect x="379.30" y="450.2" width="1.45" height="11.7" fill="#555c45"/><rect x="380.40" y="450.2" width="1.52" height="11.7" fill="#b6c590"/><rect x="381.57" y="450.2" width="1.91" height="11.7" fill="#bccb93"/><rect x="383.13" y="450.2" width="3.35" height="11.7" fill="#c5d69c"/><rect x="386.13" y="450.2" width="1.27" height="11.7" fill="#bccb93"/><rect x="387.05" y="450.2" width="5.63" height="11.7" fill="#c5d69c"/><rect x="392.33" y="450.2" width="1.67" height="11.7" fill="#bccb93"/><rect x="393.65" y="450.2" width="2.16" height="11.7" fill="#c5d69c"/><rect x="395.46" y="450.2" width="4.81" height="11.7" fill="#d3e4a9"/><rect x="399.92" y="450.2" width="1.29" height="11.7" fill="#cde2a6"/><rect x="400.86" y="450.2" width="1.45" height="11.7" fill="#d3e4a9"/><rect x="401.96" y="450.2" width="3.24" height="11.7" fill="#cde2a6"/><rect x="404.85" y="450.2" width="1.22" height="11.7" fill="#d3e4a9"/><rect x="405.72" y="450.2" width="3.02" height="11.7" fill="#e2ebb0"/><rect x="408.39" y="450.2" width="2.78" height="11.7" fill="#d3e4a9"/><rect x="410.82" y="450.2" width="2.53" height="11.7" fill="#c9dfa3"/><rect x="413.00" y="450.2" width="4.82" height="11.7" fill="#e2ebb0"/><rect x="417.47" y="450.2" width="4.74" height="11.7" fill="#dde9ae"/><rect x="421.86" y="450.2" width="3.14" height="11.7" fill="#d3e4a9"/><rect x="424.65" y="450.2" width="2.85" height="11.7" fill="#dde9ae"/><rect x="427.15" y="450.2" width="1.31" height="11.7" fill="#e2ebb0"/><rect x="428.11" y="450.2" width="1.78" height="11.7" fill="#d3e4a9"/><rect x="429.54" y="450.2" width="2.73" height="11.7" fill="#e2ebb0"/><rect x="431.92" y="450.2" width="3.24" height="11.7" fill="#d3e4a9"/><rect x="434.81" y="450.2" width="3.65" height="11.7" fill="#e2ebb0"/><rect x="438.11" y="450.2" width="2.88" height="11.7" fill="#dde9ae"/><rect x="440.64" y="450.2" width="3.26" height="11.7" fill="#d3e4a9"/><rect x="443.55" y="450.2" width="2.37" height="11.7" fill="#cde2a6"/><rect x="445.57" y="450.2" width="3.14" height="11.7" fill="#e2ebb0"/><rect x="448.36" y="450.2" width="2.15" height="11.7" fill="#c9dfa3"/><rect x="450.16" y="450.2" width="1.33" height="11.7" fill="#cde2a6"/><rect x="451.14" y="450.2" width="1.98" height="11.7" fill="#dde9ae"/><rect x="452.77" y="450.2" width="3.02" height="11.7" fill="#e2ebb0"/><rect x="455.44" y="450.2" width="1.18" height="11.7" fill="#dde9ae"/><rect x="456.27" y="450.2" width="0.88" height="11.7" fill="#e2ebb0"/><rect x="456.80" y="450.2" width="1.15" height="11.7" fill="#a9b985"/><rect x="457.60" y="450.2" width="0.59" height="11.7" fill="#e2ebb0"/><rect x="457.84" y="450.2" width="2.07" height="11.7" fill="#d3e4a9"/><rect x="459.56" y="450.2" width="3.16" height="11.7" fill="#e2ebb0"/><rect x="462.37" y="450.2" width="2.97" height="11.7" fill="#dde9ae"/><rect x="464.99" y="450.2" width="7.46" height="11.7" fill="#e2ebb0"/><rect x="472.10" y="450.2" width="1.15" height="11.7" fill="#a9b985"/><rect x="472.90" y="450.2" width="2.41" height="11.7" fill="#dde9ae"/><rect x="474.96" y="450.2" width="4.89" height="11.7" fill="#d3e4a9"/><rect x="479.50" y="450.2" width="3.68" height="11.7" fill="#dde9ae"/><rect x="482.83" y="450.2" width="1.41" height="11.7" fill="#c9dfa3"/><rect x="483.89" y="450.2" width="2.41" height="11.7" fill="#e2ebb0"/><rect x="485.95" y="450.2" width="1.51" height="11.7" fill="#d3e4a9"/><rect x="487.11" y="450.2" width="4.11" height="11.7" fill="#e2ebb0"/><rect x="490.87" y="450.2" width="3.87" height="11.7" fill="#cde2a6"/><rect x="494.39" y="450.2" width="9.56" height="11.7" fill="#d3e4a9"/><rect x="503.60" y="450.2" width="1.15" height="11.7" fill="#a9b985"/><rect x="504.40" y="450.2" width="0.73" height="11.7" fill="#d3e4a9"/><rect x="504.78" y="450.2" width="1.80" height="11.7" fill="#c9dfa3"/><rect x="506.23" y="450.2" width="2.94" height="11.7" fill="#e2ebb0"/><rect x="508.82" y="450.2" width="3.06" height="11.7" fill="#cde2a6"/><rect x="511.53" y="450.2" width="1.48" height="11.7" fill="#c9dfa3"/><rect x="512.66" y="450.2" width="1.48" height="11.7" fill="#e2ebb0"/><rect x="513.79" y="450.2" width="0.56" height="11.7" fill="#c9dfa3"/><rect x="514.00" y="450.2" width="1.15" height="11.7" fill="#a9b985"/><rect x="514.80" y="450.2" width="2.72" height="11.7" fill="#c9dfa3"/><rect x="517.17" y="450.2" width="3.91" height="11.7" fill="#dde9ae"/><rect x="520.73" y="450.2" width="3.26" height="11.7" fill="#cde2a6"/><rect x="523.64" y="450.2" width="1.30" height="11.7" fill="#e2ebb0"/><rect x="524.59" y="450.2" width="3.35" height="11.7" fill="#d3e4a9"/><rect x="527.59" y="450.2" width="4.44" height="11.7" fill="#dde9ae"/><rect x="531.68" y="450.2" width="3.55" height="11.7" fill="#d3e4a9"/><rect x="534.88" y="450.2" width="2.85" height="11.7" fill="#dde9ae"/><rect x="537.38" y="450.2" width="2.04" height="11.7" fill="#e2ebb0"/><rect x="539.07" y="450.2" width="4.89" height="11.7" fill="#d3e4a9"/><rect x="543.61" y="450.2" width="1.14" height="11.7" fill="#cde2a6"/><rect x="544.40" y="450.2" width="8.25" height="11.7" fill="#b7c692"/><rect x="552.30" y="450.2" width="2.20" height="11.7" fill="#dde9ae"/><rect x="554.15" y="450.2" width="2.47" height="11.7" fill="#e2ebb0"/><rect x="556.27" y="450.2" width="3.89" height="11.7" fill="#d3e4a9"/><rect x="559.81" y="450.2" width="1.42" height="11.7" fill="#e2ebb0"/><rect x="560.88" y="450.2" width="2.30" height="11.7" fill="#d3e4a9"/><rect x="562.83" y="450.2" width="1.90" height="11.7" fill="#dde9ae"/><rect x="564.38" y="450.2" width="2.75" height="11.7" fill="#d3e4a9"/><rect x="566.78" y="450.2" width="1.77" height="11.7" fill="#e2ebb0"/><rect x="568.20" y="450.2" width="1.15" height="11.7" fill="#a9b985"/><rect x="569.00" y="450.2" width="2.19" height="11.7" fill="#cde2a6"/><rect x="570.84" y="450.2" width="2.04" height="11.7" fill="#d3e4a9"/><rect x="572.53" y="450.2" width="5.27" height="11.7" fill="#e2ebb0"/><rect x="577.45" y="450.2" width="1.64" height="11.7" fill="#cde2a6"/><rect x="578.74" y="450.2" width="1.53" height="11.7" fill="#d3e4a9"/><rect x="579.92" y="450.2" width="2.06" height="11.7" fill="#e2ebb0"/><rect x="581.63" y="450.2" width="2.60" height="11.7" fill="#c9dfa3"/><rect x="583.88" y="450.2" width="2.95" height="11.7" fill="#dde9ae"/><rect x="586.48" y="450.2" width="3.13" height="11.7" fill="#d3e4a9"/><rect x="589.26" y="450.2" width="3.28" height="11.7" fill="#cde2a6"/><rect x="592.19" y="450.2" width="2.13" height="11.7" fill="#c9dfa3"/><rect x="593.97" y="450.2" width="1.21" height="11.7" fill="#cde2a6"/><rect x="594.83" y="450.2" width="2.97" height="11.7" fill="#d3e4a9"/><rect x="597.45" y="450.2" width="2.54" height="11.7" fill="#e2ebb0"/><rect x="599.64" y="450.2" width="2.40" height="11.7" fill="#cde2a6"/><rect x="601.69" y="450.2" width="3.17" height="11.7" fill="#e2ebb0"/><rect x="604.51" y="450.2" width="1.46" height="11.7" fill="#cde2a6"/><rect x="605.62" y="450.2" width="3.09" height="11.7" fill="#dde9ae"/><rect x="608.36" y="450.2" width="2.08" height="11.7" fill="#e2ebb0"/><rect x="610.09" y="450.2" width="1.90" height="11.7" fill="#d3e4a9"/><rect x="611.64" y="450.2" width="1.95" height="11.7" fill="#e2ebb0"/><rect x="613.24" y="450.2" width="1.34" height="11.7" fill="#d3e4a9"/><rect x="614.23" y="450.2" width="5.75" height="11.7" fill="#e2ebb0"/><rect x="619.63" y="450.2" width="3.45" height="11.7" fill="#cde2a6"/><rect x="622.73" y="450.2" width="8.89" height="11.7" fill="#d3e4a9"/><rect x="631.27" y="450.2" width="4.48" height="11.7" fill="#e2ebb0"/><rect x="635.40" y="450.2" width="1.15" height="11.7" fill="#a9b985"/><rect x="636.20" y="450.2" width="0.70" height="11.7" fill="#e2ebb0"/><rect x="636.55" y="450.2" width="2.44" height="11.7" fill="#dde9ae"/><rect x="638.64" y="450.2" width="3.86" height="11.7" fill="#d3e4a9"/><rect x="642.15" y="450.2" width="2.33" height="11.7" fill="#dde9ae"/><rect x="644.13" y="450.2" width="2.92" height="11.7" fill="#cde2a6"/><rect x="646.70" y="450.2" width="3.45" height="11.7" fill="#b1c08c"/><rect x="649.80" y="450.2" width="0.61" height="11.7" fill="#d3e4a9"/><rect x="650.06" y="450.2" width="2.29" height="11.7" fill="#e2ebb0"/><rect x="652.00" y="450.2" width="4.15" height="11.7" fill="#b1c08c"/><rect x="655.80" y="450.2" width="1.25" height="11.7" fill="#e2ebb0"/><rect x="656.70" y="450.2" width="3.68" height="11.7" fill="#dde9ae"/><rect x="660.03" y="450.2" width="0.62" height="11.7" fill="#c9dfa3"/><rect x="660.30" y="450.2" width="1.15" height="11.7" fill="#a9b985"/><rect x="661.10" y="450.2" width="2.81" height="11.7" fill="#d3e4a9"/><rect x="663.56" y="450.2" width="1.99" height="11.7" fill="#c9dfa3"/><rect x="665.20" y="450.2" width="1.15" height="11.7" fill="#a9b985"/><rect x="666.00" y="450.2" width="0.77" height="11.7" fill="#c9dfa3"/><rect x="666.42" y="450.2" width="3.53" height="11.7" fill="#e2ebb0"/><rect x="669.60" y="450.2" width="1.15" height="11.7" fill="#a9b985"/><rect x="670.40" y="450.2" width="1.78" height="11.7" fill="#dde9ae"/><rect x="671.83" y="450.2" width="5.33" height="11.7" fill="#e2ebb0"/><rect x="676.81" y="450.2" width="3.42" height="11.7" fill="#cde2a6"/><rect x="679.88" y="450.2" width="2.17" height="11.7" fill="#e2ebb0"/><rect x="681.70" y="450.2" width="1.71" height="11.7" fill="#dde9ae"/><rect x="683.06" y="450.2" width="2.35" height="11.7" fill="#cde2a6"/><rect x="685.06" y="450.2" width="7.41" height="11.7" fill="#c9dfa3"/><rect x="692.12" y="450.2" width="1.41" height="11.7" fill="#e2ebb0"/><rect x="693.18" y="450.2" width="2.34" height="11.7" fill="#c9dfa3"/><rect x="695.17" y="450.2" width="3.49" height="11.7" fill="#e2ebb0"/><rect x="698.31" y="450.2" width="3.27" height="11.7" fill="#dde9ae"/><rect x="701.23" y="450.2" width="3.47" height="11.7" fill="#e2ebb0"/><rect x="704.35" y="450.2" width="3.72" height="11.7" fill="#dde9ae"/><rect x="707.72" y="450.2" width="2.64" height="11.7" fill="#cde2a6"/><rect x="710.01" y="450.2" width="13.41" height="11.7" fill="#e2ebb0"/><rect x="723.07" y="450.2" width="3.37" height="11.7" fill="#d3e4a9"/><rect x="726.09" y="450.2" width="3.03" height="11.7" fill="#dde9ae"/><rect x="728.77" y="450.2" width="3.16" height="11.7" fill="#c9dfa3"/><rect x="731.58" y="450.2" width="2.74" height="11.7" fill="#dde9ae"/><rect x="733.97" y="450.2" width="2.48" height="11.7" fill="#d3e4a9"/><rect x="736.10" y="450.2" width="1.85" height="11.7" fill="#cde2a6"/><rect x="737.60" y="450.2" width="1.15" height="11.7" fill="#a9b985"/><rect x="738.40" y="450.2" width="1.49" height="11.7" fill="#cde2a6"/><rect x="739.54" y="450.2" width="5.41" height="11.7" fill="#dde9ae"/><rect x="744.60" y="450.2" width="1.15" height="11.7" fill="#a9b985"/><rect x="745.40" y="450.2" width="1.88" height="11.7" fill="#d3e4a9"/><rect x="746.93" y="450.2" width="3.33" height="11.7" fill="#cde2a6"/><rect x="749.91" y="450.2" width="2.04" height="11.7" fill="#c9dfa3"/><rect x="751.60" y="450.2" width="1.15" height="11.7" fill="#a9b985"/><rect x="752.40" y="450.2" width="0.56" height="11.7" fill="#c9dfa3"/><rect x="752.61" y="450.2" width="2.21" height="11.7" fill="#dde9ae"/><rect x="754.47" y="450.2" width="3.78" height="11.7" fill="#c9dfa3"/><rect x="757.90" y="450.2" width="1.45" height="11.7" fill="#e2ebb0"/><rect x="759.00" y="450.2" width="3.56" height="11.7" fill="#d3e4a9"/><rect x="762.21" y="450.2" width="1.24" height="11.7" fill="#c9dfa3"/><rect x="763.10" y="450.2" width="1.15" height="11.7" fill="#a9b985"/><rect x="763.90" y="450.2" width="1.06" height="11.7" fill="#c9dfa3"/><rect x="764.61" y="450.2" width="2.67" height="11.7" fill="#d3e4a9"/><rect x="766.93" y="450.2" width="1.33" height="11.7" fill="#c9dfa3"/><rect x="767.91" y="450.2" width="2.76" height="11.7" fill="#e2ebb0"/><rect x="770.32" y="450.2" width="0.63" height="11.7" fill="#dde9ae"/><rect x="770.60" y="450.2" width="1.15" height="11.7" fill="#a9b985"/><rect x="771.40" y="450.2" width="2.09" height="11.7" fill="#dde9ae"/><rect x="773.14" y="450.2" width="1.27" height="11.7" fill="#cde2a6"/><rect x="774.06" y="450.2" width="3.68" height="11.7" fill="#d3e4a9"/><rect x="777.39" y="450.2" width="3.60" height="11.7" fill="#dde9ae"/><rect x="780.64" y="450.2" width="5.78" height="11.7" fill="#d3e4a9"/><rect x="786.07" y="450.2" width="3.87" height="11.7" fill="#c9dfa3"/><rect x="789.59" y="450.2" width="0.36" height="11.7" fill="#cde2a6"/><rect x="789.60" y="450.2" width="1.15" height="11.7" fill="#a9b985"/><rect x="790.40" y="450.2" width="3.72" height="11.7" fill="#cde2a6"/><rect x="793.77" y="450.2" width="2.90" height="11.7" fill="#dde9ae"/><rect x="796.32" y="450.2" width="3.69" height="11.7" fill="#e2ebb0"/><rect x="799.66" y="450.2" width="1.79" height="11.7" fill="#d3e4a9"/><rect x="801.10" y="450.2" width="1.15" height="11.7" fill="#a9b985"/><rect x="801.90" y="450.2" width="1.45" height="11.7" fill="#d3e4a9"/><rect x="803.00" y="450.2" width="3.29" height="11.7" fill="#dde9ae"/><rect x="805.94" y="450.2" width="5.70" height="11.7" fill="#e2ebb0"/><rect x="811.29" y="450.2" width="2.18" height="11.7" fill="#c9dfa3"/><rect x="813.12" y="450.2" width="2.33" height="11.7" fill="#d3e4a9"/><rect x="815.10" y="450.2" width="1.15" height="11.7" fill="#a9b985"/><rect x="815.90" y="450.2" width="0.45" height="11.7" fill="#d3e4a9"/><rect x="816.00" y="450.2" width="12.35" height="11.7" fill="#c9dea1"/><rect x="828.00" y="450.2" width="3.65" height="11.7" fill="#cde2a6"/><rect x="831.30" y="450.2" width="2.24" height="11.7" fill="#dde9ae"/><rect x="833.19" y="450.2" width="3.78" height="11.7" fill="#e2ebb0"/><rect x="836.62" y="450.2" width="2.17" height="11.7" fill="#cde2a6"/><rect x="838.44" y="450.2" width="3.19" height="11.7" fill="#e2ebb0"/><rect x="841.28" y="450.2" width="1.67" height="11.7" fill="#d3e4a9"/><rect x="842.60" y="450.2" width="1.15" height="11.7" fill="#a9b985"/><rect x="843.40" y="450.2" width="7.95" height="11.7" fill="#d3e4a9"/><rect x="851.00" y="450.2" width="3.16" height="11.7" fill="#c9dfa3"/><rect x="853.81" y="450.2" width="2.22" height="11.7" fill="#cde2a6"/><rect x="855.68" y="450.2" width="4.86" height="11.7" fill="#c9dfa3"/><rect x="860.19" y="450.2" width="2.64" height="11.7" fill="#d3e4a9"/><rect x="862.48" y="450.2" width="2.40" height="11.7" fill="#dde9ae"/><rect x="864.53" y="450.2" width="2.99" height="11.7" fill="#d3e4a9"/><rect x="867.17" y="450.2" width="3.27" height="11.7" fill="#dde9ae"/><rect x="870.09" y="450.2" width="0.86" height="11.7" fill="#e2ebb0"/><rect x="870.60" y="450.2" width="1.15" height="11.7" fill="#a9b985"/><rect x="871.40" y="450.2" width="1.45" height="11.7" fill="#e2ebb0"/><rect x="872.50" y="450.2" width="1.28" height="11.7" fill="#d3e4a9"/><rect x="873.43" y="450.2" width="7.99" height="11.7" fill="#e2ebb0"/><rect x="881.07" y="450.2" width="3.25" height="11.7" fill="#cde2a6"/><rect x="883.97" y="450.2" width="4.85" height="11.7" fill="#d3e4a9"/><rect x="888.47" y="450.2" width="3.11" height="11.7" fill="#cde2a6"/><rect x="891.23" y="450.2" width="3.07" height="11.7" fill="#d3e4a9"/><rect x="893.95" y="450.2" width="6.39" height="11.7" fill="#cde2a6"/><rect x="899.99" y="450.2" width="2.13" height="11.7" fill="#e2ebb0"/><rect x="901.77" y="450.2" width="3.66" height="11.7" fill="#d3e4a9"/><rect x="905.08" y="450.2" width="1.64" height="11.7" fill="#c9dfa3"/><rect x="906.37" y="450.2" width="2.90" height="11.7" fill="#cde2a6"/><rect x="908.92" y="450.2" width="3.93" height="11.7" fill="#c9dfa3"/><rect x="912.50" y="450.2" width="7.29" height="11.7" fill="#e2ebb0"/><rect x="919.44" y="450.2" width="1.45" height="11.7" fill="#c9dfa3"/><rect x="920.54" y="450.2" width="1.45" height="11.7" fill="#e2ebb0"/><rect x="921.64" y="450.2" width="2.04" height="11.7" fill="#c9dfa3"/><rect x="923.33" y="450.2" width="3.78" height="11.7" fill="#e2ebb0"/><rect x="926.76" y="450.2" width="0.44" height="11.7" fill="#d3e4a9"/>
<rect x="23.00" y="469.0" width="1.55" height="11.8" fill="#9aa5b3"/><rect x="24.20" y="469.0" width="0.70" height="11.8" fill="#228a4e"/><rect x="30.00" y="469.0" width="0.90" height="11.8" fill="#228a4e"/><rect x="35.00" y="469.0" width="1.55" height="11.8" fill="#a86bb0"/><rect x="36.20" y="469.0" width="1.30" height="11.8" fill="#228a4e"/><rect x="41.00" y="469.0" width="0.95" height="11.8" fill="#6f7fc0"/><rect x="41.60" y="469.0" width="0.90" height="11.8" fill="#3c6e9e"/><rect x="46.00" y="469.0" width="4.35" height="11.8" fill="#228a4e"/><rect x="50.00" y="469.0" width="0.55" height="11.8" fill="#f59eab"/><rect x="50.20" y="469.0" width="1.05" height="11.8" fill="#a86bb0"/><rect x="50.90" y="469.0" width="1.75" height="11.8" fill="#228a4e"/><rect x="52.30" y="469.0" width="1.25" height="11.8" fill="#f59eab"/><rect x="53.20" y="469.0" width="1.15" height="11.8" fill="#a86bb0"/><rect x="54.00" y="469.0" width="3.35" height="11.8" fill="#228a4e"/><rect x="57.00" y="469.0" width="2.50" height="11.8" fill="#6b9bc3"/><rect x="61.50" y="469.0" width="0.80" height="11.8" fill="#a86bb0"/><rect x="63.00" y="469.0" width="3.50" height="11.8" fill="#228a4e"/><rect x="70.00" y="469.0" width="2.35" height="11.8" fill="#228a4e"/><rect x="72.00" y="469.0" width="1.15" height="11.8" fill="#a86bb0"/><rect x="72.80" y="469.0" width="1.05" height="11.8" fill="#6b9bc3"/><rect x="73.50" y="469.0" width="3.85" height="11.8" fill="#228a4e"/><rect x="77.00" y="469.0" width="10.35" height="11.8" fill="#a86bb0"/><rect x="87.00" y="469.0" width="0.85" height="11.8" fill="#c8b080"/><rect x="87.50" y="469.0" width="5.85" height="11.8" fill="#a86bb0"/><rect x="93.00" y="469.0" width="0.95" height="11.8" fill="#a8b872"/><rect x="93.60" y="469.0" width="2.75" height="11.8" fill="#a86bb0"/><rect x="96.00" y="469.0" width="0.60" height="11.8" fill="#6f7fc0"/><rect x="97.50" y="469.0" width="3.50" height="11.8" fill="#228a4e"/><rect x="102.50" y="469.0" width="1.85" height="11.8" fill="#a86bb0"/><rect x="104.00" y="469.0" width="1.55" height="11.8" fill="#6b9bc3"/><rect x="105.20" y="469.0" width="0.95" height="11.8" fill="#a86bb0"/><rect x="105.80" y="469.0" width="1.55" height="11.8" fill="#6b9bc3"/><rect x="107.00" y="469.0" width="1.35" height="11.8" fill="#c8b080"/><rect x="108.00" y="469.0" width="1.85" height="11.8" fill="#228a4e"/><rect x="109.50" y="469.0" width="2.35" height="11.8" fill="#b07254"/><rect x="111.50" y="469.0" width="8.85" height="11.8" fill="#a86bb0"/><rect x="120.00" y="469.0" width="2.35" height="11.8" fill="#b07254"/><rect x="122.00" y="469.0" width="1.65" height="11.8" fill="#a86bb0"/><rect x="123.30" y="469.0" width="1.05" height="11.8" fill="#c8b080"/><rect x="124.00" y="469.0" width="1.15" height="11.8" fill="#f59eab"/><rect x="124.80" y="469.0" width="1.55" height="11.8" fill="#b07254"/><rect x="126.00" y="469.0" width="1.85" height="11.8" fill="#6ab0dc"/><rect x="127.50" y="469.0" width="1.50" height="11.8" fill="#a86bb0"/><rect x="130.50" y="469.0" width="1.85" height="11.8" fill="#a86bb0"/><rect x="132.00" y="469.0" width="1.05" height="11.8" fill="#b07254"/><rect x="132.70" y="469.0" width="81.65" height="11.8" fill="#f59eab"/><rect x="214.00" y="469.0" width="1.50" height="11.8" fill="#228a4e"/><rect x="216.70" y="469.0" width="2.65" height="11.8" fill="#228a4e"/><rect x="219.00" y="469.0" width="2.35" height="11.8" fill="#6fa840"/><rect x="221.00" y="469.0" width="11.60" height="11.8" fill="#f59eab"/><rect x="251.00" y="469.0" width="4.35" height="11.8" fill="#a86bb0"/><rect x="255.00" y="469.0" width="3.35" height="11.8" fill="#228a4e"/><rect x="258.00" y="469.0" width="10.45" height="11.8" fill="#f59eab"/><rect x="268.10" y="469.0" width="0.95" height="11.8" fill="#b07254"/><rect x="268.70" y="469.0" width="5.65" height="11.8" fill="#f59eab"/><rect x="274.00" y="469.0" width="1.15" height="11.8" fill="#228a4e"/><rect x="274.80" y="469.0" width="1.05" height="11.8" fill="#6b9bc3"/><rect x="275.50" y="469.0" width="12.85" height="11.8" fill="#f59eab"/><rect x="288.00" y="469.0" width="9.35" height="11.8" fill="#a86bb0"/><rect x="297.00" y="469.0" width="7.00" height="11.8" fill="#f59eab"/><rect x="305.00" y="469.0" width="1.35" height="11.8" fill="#a8dcc8"/><rect x="306.00" y="469.0" width="0.95" height="11.8" fill="#6f7fc0"/><rect x="306.60" y="469.0" width="1.35" height="11.8" fill="#a86bb0"/><rect x="307.60" y="469.0" width="0.95" height="11.8" fill="#c8b080"/><rect x="308.20" y="469.0" width="1.45" height="11.8" fill="#228a4e"/><rect x="309.30" y="469.0" width="1.25" height="11.8" fill="#6ab0dc"/><rect x="310.20" y="469.0" width="1.15" height="11.8" fill="#6b9bc3"/><rect x="311.00" y="469.0" width="5.65" height="11.8" fill="#a86bb0"/><rect x="316.30" y="469.0" width="0.85" height="11.8" fill="#c8b080"/><rect x="316.80" y="469.0" width="0.85" height="11.8" fill="#228a4e"/><rect x="317.30" y="469.0" width="0.50" height="11.8" fill="#b07254"/><rect x="320.70" y="469.0" width="0.80" height="11.8" fill="#9578c0"/><rect x="326.00" y="469.0" width="1.35" height="11.8" fill="#a86bb0"/><rect x="327.00" y="469.0" width="2.35" height="11.8" fill="#6ab0dc"/><rect x="329.00" y="469.0" width="2.35" height="11.8" fill="#6b9bc3"/><rect x="331.00" y="469.0" width="3.25" height="11.8" fill="#6ab0dc"/><rect x="333.90" y="469.0" width="7.15" height="11.8" fill="#228a4e"/><rect x="340.70" y="469.0" width="2.25" height="11.8" fill="#6ab0dc"/><rect x="342.60" y="469.0" width="0.90" height="11.8" fill="#9578c0"/><rect x="345.00" y="469.0" width="6.55" height="11.8" fill="#228a4e"/><rect x="351.20" y="469.0" width="1.05" height="11.8" fill="#a86bb0"/><rect x="351.90" y="469.0" width="0.95" height="11.8" fill="#f59eab"/><rect x="352.50" y="469.0" width="1.00" height="11.8" fill="#b07254"/><rect x="355.00" y="469.0" width="1.55" height="11.8" fill="#228a4e"/><rect x="356.20" y="469.0" width="0.85" height="11.8" fill="#a8b872"/><rect x="356.70" y="469.0" width="1.55" height="11.8" fill="#228a4e"/><rect x="357.90" y="469.0" width="1.25" height="11.8" fill="#c8b080"/><rect x="358.80" y="469.0" width="1.75" height="11.8" fill="#6ab0dc"/><rect x="360.20" y="469.0" width="1.20" height="11.8" fill="#a86bb0"/><rect x="363.20" y="469.0" width="1.65" height="11.8" fill="#6b9bc3"/><rect x="364.50" y="469.0" width="1.85" height="11.8" fill="#6ab0dc"/><rect x="366.00" y="469.0" width="0.95" height="11.8" fill="#6f7fc0"/><rect x="366.60" y="469.0" width="0.95" height="11.8" fill="#6ab0dc"/><rect x="367.20" y="469.0" width="1.15" height="11.8" fill="#b07254"/><rect x="368.00" y="469.0" width="1.35" height="11.8" fill="#228a4e"/><rect x="369.00" y="469.0" width="4.15" height="11.8" fill="#6ab0dc"/><rect x="372.80" y="469.0" width="2.55" height="11.8" fill="#a86bb0"/><rect x="375.00" y="469.0" width="0.85" height="11.8" fill="#9578c0"/><rect x="375.50" y="469.0" width="0.85" height="11.8" fill="#a86bb0"/><rect x="376.00" y="469.0" width="3.35" height="11.8" fill="#228a4e"/><rect x="379.00" y="469.0" width="4.35" height="11.8" fill="#f59eab"/><rect x="383.00" y="469.0" width="2.25" height="11.8" fill="#b07254"/><rect x="384.90" y="469.0" width="44.45" height="11.8" fill="#f59eab"/><rect x="429.00" y="469.0" width="1.15" height="11.8" fill="#9578c0"/><rect x="429.80" y="469.0" width="37.35" height="11.8" fill="#f59eab"/><rect x="466.80" y="469.0" width="1.25" height="11.8" fill="#b07254"/><rect x="467.70" y="469.0" width="2.85" height="11.8" fill="#f59eab"/><rect x="470.20" y="469.0" width="2.95" height="11.8" fill="#b07254"/><rect x="472.80" y="469.0" width="157.55" height="11.8" fill="#f59eab"/><rect x="630.00" y="469.0" width="1.25" height="11.8" fill="#9578c0"/><rect x="630.90" y="469.0" width="18.45" height="11.8" fill="#f59eab"/><rect x="649.00" y="469.0" width="2.05" height="11.8" fill="#a86bb0"/><rect x="650.70" y="469.0" width="1.65" height="11.8" fill="#f59eab"/><rect x="652.00" y="469.0" width="4.35" height="11.8" fill="#a86bb0"/><rect x="656.00" y="469.0" width="47.55" height="11.8" fill="#f59eab"/><rect x="703.20" y="469.0" width="1.85" height="11.8" fill="#b07254"/><rect x="704.70" y="469.0" width="58.85" height="11.8" fill="#f59eab"/><rect x="763.20" y="469.0" width="1.15" height="11.8" fill="#9578c0"/><rect x="764.00" y="469.0" width="106.35" height="11.8" fill="#f59eab"/><rect x="870.00" y="469.0" width="2.15" height="11.8" fill="#b07254"/><rect x="871.80" y="469.0" width="55.40" height="11.8" fill="#f59eab"/><rect x="24.11" y="469.0" width="0.88" height="11.8" fill="#228a4e"/><rect x="40.86" y="469.0" width="0.88" height="11.8" fill="#6f7fc0"/><rect x="49.66" y="469.0" width="0.88" height="11.8" fill="#f59eab"/><rect x="50.11" y="469.0" width="0.88" height="11.8" fill="#a86bb0"/><rect x="53.16" y="469.0" width="0.88" height="11.8" fill="#a86bb0"/><rect x="61.46" y="469.0" width="0.88" height="11.8" fill="#a86bb0"/><rect x="71.96" y="469.0" width="0.88" height="11.8" fill="#a86bb0"/><rect x="72.71" y="469.0" width="0.88" height="11.8" fill="#6b9bc3"/><rect x="86.81" y="469.0" width="0.88" height="11.8" fill="#c8b080"/><rect x="92.86" y="469.0" width="0.88" height="11.8" fill="#a8b872"/><rect x="95.86" y="469.0" width="0.88" height="11.8" fill="#6f7fc0"/><rect x="105.06" y="469.0" width="0.88" height="11.8" fill="#a86bb0"/><rect x="123.21" y="469.0" width="0.88" height="11.8" fill="#c8b080"/><rect x="123.96" y="469.0" width="0.88" height="11.8" fill="#f59eab"/><rect x="131.91" y="469.0" width="0.88" height="11.8" fill="#b07254"/><rect x="267.96" y="469.0" width="0.88" height="11.8" fill="#b07254"/><rect x="273.96" y="469.0" width="0.88" height="11.8" fill="#228a4e"/><rect x="274.71" y="469.0" width="0.88" height="11.8" fill="#6b9bc3"/><rect x="305.86" y="469.0" width="0.88" height="11.8" fill="#6f7fc0"/><rect x="307.46" y="469.0" width="0.88" height="11.8" fill="#c8b080"/><rect x="310.16" y="469.0" width="0.88" height="11.8" fill="#6b9bc3"/><rect x="316.11" y="469.0" width="0.88" height="11.8" fill="#c8b080"/><rect x="316.61" y="469.0" width="0.88" height="11.8" fill="#228a4e"/><rect x="317.11" y="469.0" width="0.88" height="11.8" fill="#b07254"/><rect x="320.66" y="469.0" width="0.88" height="11.8" fill="#9578c0"/><rect x="351.11" y="469.0" width="0.88" height="11.8" fill="#a86bb0"/><rect x="351.76" y="469.0" width="0.88" height="11.8" fill="#f59eab"/><rect x="356.01" y="469.0" width="0.88" height="11.8" fill="#a8b872"/><rect x="365.86" y="469.0" width="0.88" height="11.8" fill="#6f7fc0"/><rect x="366.46" y="469.0" width="0.88" height="11.8" fill="#6ab0dc"/><rect x="367.16" y="469.0" width="0.88" height="11.8" fill="#b07254"/><rect x="374.81" y="469.0" width="0.88" height="11.8" fill="#9578c0"/><rect x="375.31" y="469.0" width="0.88" height="11.8" fill="#a86bb0"/><rect x="428.96" y="469.0" width="0.88" height="11.8" fill="#9578c0"/><rect x="763.16" y="469.0" width="0.88" height="11.8" fill="#9578c0"/>
<rect x="23.00" y="487.0" width="29.55" height="11.8" fill="#b9d5c2"/><rect x="52.20" y="487.0" width="1.10" height="11.8" fill="#5aa472"/><rect x="52.95" y="487.0" width="23.60" height="11.8" fill="#b9d5c2"/><rect x="76.20" y="487.0" width="1.10" height="11.8" fill="#5aa472"/><rect x="76.95" y="487.0" width="15.40" height="11.8" fill="#b9d5c2"/><rect x="92.00" y="487.0" width="1.10" height="11.8" fill="#5aa472"/><rect x="92.75" y="487.0" width="16.80" height="11.8" fill="#b9d5c2"/><rect x="109.20" y="487.0" width="1.10" height="11.8" fill="#5aa472"/><rect x="109.95" y="487.0" width="18.50" height="11.8" fill="#b9d5c2"/><rect x="128.10" y="487.0" width="1.15" height="11.8" fill="#5aa472"/><rect x="128.90" y="487.0" width="2.55" height="11.8" fill="#b9d5c2"/><rect x="131.10" y="487.0" width="1.15" height="11.8" fill="#5aa472"/><rect x="131.90" y="487.0" width="3.45" height="11.8" fill="#b9d5c2"/><rect x="135.00" y="487.0" width="1.15" height="11.8" fill="#5aa472"/><rect x="135.80" y="487.0" width="1.75" height="11.8" fill="#b9d5c2"/><rect x="137.20" y="487.0" width="77.05" height="11.8" fill="#5aa472"/><rect x="213.90" y="487.0" width="7.45" height="11.8" fill="#b9d5c2"/><rect x="221.00" y="487.0" width="1.15" height="11.8" fill="#5aa472"/><rect x="221.80" y="487.0" width="1.75" height="11.8" fill="#b9d5c2"/><rect x="223.20" y="487.0" width="1.65" height="11.8" fill="#5aa472"/><rect x="224.50" y="487.0" width="1.65" height="11.8" fill="#b9d5c2"/><rect x="225.80" y="487.0" width="1.95" height="11.8" fill="#5aa472"/><rect x="227.40" y="487.0" width="1.95" height="11.8" fill="#b9d5c2"/><rect x="229.00" y="487.0" width="3.95" height="11.8" fill="#5aa472"/><rect x="232.60" y="487.0" width="25.75" height="11.8" fill="#b9d5c2"/><rect x="258.00" y="487.0" width="10.25" height="11.8" fill="#5aa472"/><rect x="267.90" y="487.0" width="4.45" height="11.8" fill="#b9d5c2"/><rect x="272.00" y="487.0" width="2.35" height="11.8" fill="#5aa472"/><rect x="274.00" y="487.0" width="6.15" height="11.8" fill="#b9d5c2"/><rect x="279.80" y="487.0" width="8.75" height="11.8" fill="#5aa472"/><rect x="288.20" y="487.0" width="4.15" height="11.8" fill="#b9d5c2"/><rect x="292.00" y="487.0" width="12.25" height="11.8" fill="#5aa472"/><rect x="303.90" y="487.0" width="1.45" height="11.8" fill="#b9d5c2"/><rect x="305.00" y="487.0" width="1.15" height="11.8" fill="#5aa472"/><rect x="305.80" y="487.0" width="8.55" height="11.8" fill="#b9d5c2"/><rect x="314.00" y="487.0" width="2.15" height="11.8" fill="#5aa472"/><rect x="315.80" y="487.0" width="13.55" height="11.8" fill="#b9d5c2"/><rect x="329.00" y="487.0" width="3.15" height="11.8" fill="#5aa472"/><rect x="331.80" y="487.0" width="3.55" height="11.8" fill="#b9d5c2"/><rect x="335.00" y="487.0" width="2.85" height="11.8" fill="#5aa472"/><rect x="337.50" y="487.0" width="7.85" height="11.8" fill="#b9d5c2"/><rect x="345.00" y="487.0" width="1.35" height="11.8" fill="#5aa472"/><rect x="346.00" y="487.0" width="2.55" height="11.8" fill="#b9d5c2"/><rect x="348.20" y="487.0" width="3.05" height="11.8" fill="#5aa472"/><rect x="350.90" y="487.0" width="4.45" height="11.8" fill="#b9d5c2"/><rect x="355.00" y="487.0" width="1.15" height="11.8" fill="#5aa472"/><rect x="355.80" y="487.0" width="7.75" height="11.8" fill="#b9d5c2"/><rect x="363.20" y="487.0" width="1.15" height="11.8" fill="#5aa472"/><rect x="364.00" y="487.0" width="4.35" height="11.8" fill="#b9d5c2"/><rect x="368.00" y="487.0" width="1.35" height="11.8" fill="#5aa472"/><rect x="369.00" y="487.0" width="3.85" height="11.8" fill="#b9d5c2"/><rect x="372.50" y="487.0" width="1.15" height="11.8" fill="#5aa472"/><rect x="373.30" y="487.0" width="7.05" height="11.8" fill="#b9d5c2"/><rect x="380.00" y="487.0" width="15.00" height="11.8" fill="#5aa472"/><rect x="396.00" y="487.0" width="531.20" height="11.8" fill="#5aa472"/><rect x="52.14" y="487.0" width="0.88" height="11.8" fill="#5aa472"/><rect x="76.14" y="487.0" width="0.88" height="11.8" fill="#5aa472"/><rect x="91.94" y="487.0" width="0.88" height="11.8" fill="#5aa472"/><rect x="109.14" y="487.0" width="0.88" height="11.8" fill="#5aa472"/><rect x="128.06" y="487.0" width="0.88" height="11.8" fill="#5aa472"/><rect x="131.06" y="487.0" width="0.88" height="11.8" fill="#5aa472"/><rect x="134.96" y="487.0" width="0.88" height="11.8" fill="#5aa472"/><rect x="220.96" y="487.0" width="0.88" height="11.8" fill="#5aa472"/><rect x="304.96" y="487.0" width="0.88" height="11.8" fill="#5aa472"/><rect x="354.96" y="487.0" width="0.88" height="11.8" fill="#5aa472"/><rect x="363.16" y="487.0" width="0.88" height="11.8" fill="#5aa472"/><rect x="372.46" y="487.0" width="0.88" height="11.8" fill="#5aa472"/>
</g>
<text x="938.2" y="423.6" font-size="11" textLength="27.0" lengthAdjust="spacingAndGlyphs" fill="#2e2e2e" stroke="#333" stroke-width="0.28">Clade</text>
<text x="938.2" y="441.8" font-size="11" textLength="57.5" lengthAdjust="spacingAndGlyphs" fill="#2e2e2e" stroke="#333" stroke-width="0.28">Data source</text>
<text x="938.2" y="459.8" font-size="11" textLength="21.0" lengthAdjust="spacingAndGlyphs" fill="#2e2e2e" stroke="#333" stroke-width="0.28">Year</text>
<text x="938.2" y="478.6" font-size="11" textLength="40.0" lengthAdjust="spacingAndGlyphs" fill="#2e2e2e" stroke="#333" stroke-width="0.28">Country</text>
<text x="938.2" y="496.6" font-size="11" textLength="116.5" lengthAdjust="spacingAndGlyphs" fill="#2e2e2e" stroke="#333" stroke-width="0.28">Macrolide susceptibility</text>
<text x="791.3" y="30.7" font-size="11" font-weight="bold" textLength="28.3" lengthAdjust="spacingAndGlyphs" fill="#2e2e2e">Clade</text>
<circle cx="795.4" cy="47.2" r="4.2" fill="#9bd08a"/>
<text x="804.6" y="50.7" font-size="11" textLength="21.5" lengthAdjust="spacingAndGlyphs" fill="#2e2e2e" stroke="#333" stroke-width="0.28">T1-1</text>
<circle cx="795.4" cy="62.8" r="4.2" fill="#f9b9c0"/>
<text x="804.6" y="66.3" font-size="11" textLength="51.2" lengthAdjust="spacingAndGlyphs" fill="#2e2e2e" stroke="#333" stroke-width="0.28">T1-2-PRE1</text>
<circle cx="795.4" cy="78.5" r="4.2" fill="#c7786d"/>
<text x="804.6" y="82.0" font-size="11" textLength="44.5" lengthAdjust="spacingAndGlyphs" fill="#2e2e2e" stroke="#333" stroke-width="0.28">T1-2-EC1</text>
<circle cx="795.4" cy="94.1" r="4.2" fill="#82cdd4"/>
<text x="804.6" y="97.6" font-size="11" textLength="21.5" lengthAdjust="spacingAndGlyphs" fill="#2e2e2e" stroke="#333" stroke-width="0.28">T1-3</text>
<circle cx="795.4" cy="109.8" r="4.2" fill="#fbbe84"/>
<text x="804.6" y="113.3" font-size="11" textLength="21.5" lengthAdjust="spacingAndGlyphs" fill="#2e2e2e" stroke="#333" stroke-width="0.28">T2-1</text>
<circle cx="795.4" cy="125.4" r="4.2" fill="#bfc8e8"/>
<text x="804.6" y="128.9" font-size="11" textLength="51.8" lengthAdjust="spacingAndGlyphs" fill="#2e2e2e" stroke="#333" stroke-width="0.28">T2-2-PRE2</text>
<circle cx="795.4" cy="141.0" r="4.2" fill="#7079bd"/>
<text x="804.6" y="144.5" font-size="11" textLength="45.3" lengthAdjust="spacingAndGlyphs" fill="#2e2e2e" stroke="#333" stroke-width="0.28">T2-2-EC2</text>
<circle cx="795.4" cy="156.7" r="4.2" fill="#c5c7c6"/>
<text x="804.6" y="160.2" font-size="11" textLength="57.0" lengthAdjust="spacingAndGlyphs" fill="#2e2e2e" stroke="#333" stroke-width="0.28">Unassigned</text>
<text x="881.2" y="30.7" font-size="11" font-weight="bold" textLength="22.3" lengthAdjust="spacingAndGlyphs" fill="#2e2e2e">Year</text>
<rect x="881" y="45.6" width="20.6" height="97.4" rx="6.5" ry="6.5" fill="url(#yg)"/>
<text x="905.0" y="51.0" font-size="11" textLength="24.6" lengthAdjust="spacingAndGlyphs" fill="#2e2e2e" stroke="#333" stroke-width="0.28">2023</text>
<text x="905.0" y="74.0" font-size="11" textLength="24.6" lengthAdjust="spacingAndGlyphs" fill="#2e2e2e" stroke="#333" stroke-width="0.28">2011</text>
<text x="905.0" y="97.6" font-size="11" textLength="24.6" lengthAdjust="spacingAndGlyphs" fill="#2e2e2e" stroke="#333" stroke-width="0.28">1996</text>
<text x="905.0" y="122.8" font-size="11" textLength="24.6" lengthAdjust="spacingAndGlyphs" fill="#2e2e2e" stroke="#333" stroke-width="0.28">1984</text>
<text x="905.0" y="144.9" font-size="11" textLength="24.6" lengthAdjust="spacingAndGlyphs" fill="#2e2e2e" stroke="#333" stroke-width="0.28">1944</text>
<rect x="886.5" y="153.9" width="14.2" height="8.6" fill="#fff" stroke="#333" stroke-width="0.8"/>
<text x="904.9" y="161.6" font-size="11" textLength="47.5" lengthAdjust="spacingAndGlyphs" fill="#2e2e2e" stroke="#333" stroke-width="0.28">Unknown</text>
<text x="971.2" y="30.7" font-size="11" font-weight="bold" textLength="60.4" lengthAdjust="spacingAndGlyphs" fill="#2e2e2e">Data source</text>
<rect x="971.3" y="42.7" width="14.1" height="8.3" fill="#a5d8db" stroke="#2c2c2c" stroke-width="0.9"/>
<text x="989.8" y="49.8" font-size="11" textLength="53.5" lengthAdjust="spacingAndGlyphs" fill="#2e2e2e" stroke="#333" stroke-width="0.28">Public data</text>
<rect x="971.3" y="57.8" width="14.1" height="8.3" fill="#6c86c4" stroke="#2c2c2c" stroke-width="0.9"/>
<text x="989.8" y="65.3" font-size="11" textLength="50.4" lengthAdjust="spacingAndGlyphs" fill="#2e2e2e" stroke="#333" stroke-width="0.28">This study</text>
<text x="971.2" y="86.8" font-size="11" font-weight="bold" textLength="51.4" lengthAdjust="spacingAndGlyphs" fill="#2e2e2e">Macrolide</text>
<text x="971.2" y="100.7" font-size="11" font-weight="bold" textLength="69.8" lengthAdjust="spacingAndGlyphs" fill="#2e2e2e">susceptibility</text>
<rect x="971.3" y="112.9" width="14.1" height="8.3" fill="#5aa472" stroke="#2c2c2c" stroke-width="0.9"/>
<text x="989.8" y="120.3" font-size="11" textLength="45.0" lengthAdjust="spacingAndGlyphs" fill="#2e2e2e" stroke="#333" stroke-width="0.28">Resistant</text>
<rect x="971.3" y="128.0" width="14.1" height="8.3" fill="#b9d5c2" stroke="#2c2c2c" stroke-width="0.9"/>
<text x="989.8" y="135.4" font-size="11" textLength="55.5" lengthAdjust="spacingAndGlyphs" fill="#2e2e2e" stroke="#333" stroke-width="0.28">Susceptible</text>
<text x="792.8" y="193.2" font-size="11" font-weight="bold" textLength="42.5" lengthAdjust="spacingAndGlyphs" fill="#2e2e2e">Country</text>
<rect x="790.4" y="203.9" width="14.1" height="8.3" fill="#f59eab" stroke="#2c2c2c" stroke-width="0.9"/>
<text x="808.7" y="211.6" font-size="11" textLength="28.0" lengthAdjust="spacingAndGlyphs" fill="#2e2e2e" stroke="#333" stroke-width="0.28">China</text>
<rect x="790.4" y="219.3" width="14.1" height="8.3" fill="#a86bb0" stroke="#2c2c2c" stroke-width="0.9"/>
<text x="808.7" y="227.0" font-size="11" textLength="27.5" lengthAdjust="spacingAndGlyphs" fill="#2e2e2e" stroke="#333" stroke-width="0.28">Japan</text>
<rect x="790.4" y="234.7" width="14.1" height="8.3" fill="#b07254" stroke="#2c2c2c" stroke-width="0.9"/>
<text x="808.7" y="242.4" font-size="11" textLength="60.2" lengthAdjust="spacingAndGlyphs" fill="#2e2e2e" stroke="#333" stroke-width="0.28">South Korea</text>
<rect x="790.4" y="250.1" width="14.1" height="8.3" fill="#a8dcc8" stroke="#2c2c2c" stroke-width="0.9"/>
<text x="808.7" y="257.8" font-size="11" textLength="36.5" lengthAdjust="spacingAndGlyphs" fill="#2e2e2e" stroke="#333" stroke-width="0.28">Canada</text>
<rect x="790.4" y="265.5" width="14.1" height="8.3" fill="#8dbd97" stroke="#2c2c2c" stroke-width="0.9"/>
<text x="808.7" y="273.2" font-size="11" textLength="54.1" lengthAdjust="spacingAndGlyphs" fill="#2e2e2e" stroke="#333" stroke-width="0.28">Guatemala</text>
<rect x="790.4" y="280.9" width="14.1" height="8.3" fill="#228a4e" stroke="#2c2c2c" stroke-width="0.9"/>
<text x="808.7" y="288.6" font-size="11" textLength="21.0" lengthAdjust="spacingAndGlyphs" fill="#2e2e2e" stroke="#333" stroke-width="0.28">USA</text>
<rect x="879.6" y="200.6" width="14.1" height="8.3" fill="#9aa5b3" stroke="#2c2c2c" stroke-width="0.9"/>
<text x="898.5" y="208.3" font-size="11" textLength="45.5" lengthAdjust="spacingAndGlyphs" fill="#2e2e2e" stroke="#333" stroke-width="0.28">Denmark</text>
<rect x="879.6" y="216.0" width="14.1" height="8.3" fill="#6b9bc3" stroke="#2c2c2c" stroke-width="0.9"/>
<text x="898.5" y="223.7" font-size="11" textLength="33.5" lengthAdjust="spacingAndGlyphs" fill="#2e2e2e" stroke="#333" stroke-width="0.28">France</text>
<rect x="879.6" y="231.4" width="14.1" height="8.3" fill="#6f7fc0" stroke="#2c2c2c" stroke-width="0.9"/>
<text x="898.5" y="239.1" font-size="11" textLength="45.0" lengthAdjust="spacingAndGlyphs" fill="#2e2e2e" stroke="#333" stroke-width="0.28">Germany</text>
<rect x="879.6" y="246.8" width="14.1" height="8.3" fill="#6ab0dc" stroke="#2c2c2c" stroke-width="0.9"/>
<text x="898.5" y="254.5" font-size="11" textLength="60.0" lengthAdjust="spacingAndGlyphs" fill="#2e2e2e" stroke="#333" stroke-width="0.28">Netherlands</text>
<rect x="879.6" y="262.2" width="14.1" height="8.3" fill="#9578c0" stroke="#2c2c2c" stroke-width="0.9"/>
<text x="898.5" y="269.9" font-size="11" textLength="27.0" lengthAdjust="spacingAndGlyphs" fill="#2e2e2e" stroke="#333" stroke-width="0.28">Spain</text>
<rect x="879.6" y="277.6" width="14.1" height="8.3" fill="#3c6e9e" stroke="#2c2c2c" stroke-width="0.9"/>
<text x="898.5" y="285.3" font-size="11" textLength="14.0" lengthAdjust="spacingAndGlyphs" fill="#2e2e2e" stroke="#333" stroke-width="0.28">UK</text>
<rect x="975.4" y="200.6" width="14.1" height="8.3" fill="#dbb98a" stroke="#2c2c2c" stroke-width="0.9"/>
<text x="994.1" y="208.3" font-size="11" textLength="28.0" lengthAdjust="spacingAndGlyphs" fill="#2e2e2e" stroke="#333" stroke-width="0.28">Egypt</text>
<rect x="975.4" y="216.0" width="14.1" height="8.3" fill="#a8b872" stroke="#2c2c2c" stroke-width="0.9"/>
<text x="994.1" y="223.7" font-size="11" textLength="29.5" lengthAdjust="spacingAndGlyphs" fill="#2e2e2e" stroke="#333" stroke-width="0.28">Kenya</text>
<rect x="975.4" y="231.4" width="14.1" height="8.3" fill="#c8b080" stroke="#2c2c2c" stroke-width="0.9"/>
<text x="994.1" y="239.1" font-size="11" textLength="60.4" lengthAdjust="spacingAndGlyphs" fill="#2e2e2e" stroke="#333" stroke-width="0.28">South Africa</text>
<rect x="975.4" y="246.8" width="14.1" height="8.3" fill="#6fa840" stroke="#2c2c2c" stroke-width="0.9"/>
<text x="994.1" y="254.5" font-size="11" textLength="34.5" lengthAdjust="spacingAndGlyphs" fill="#2e2e2e" stroke="#333" stroke-width="0.28">Tunisia</text>
<rect x="975.4" y="262.2" width="14.1" height="8.3" fill="#ffffff" stroke="#2c2c2c" stroke-width="0.9"/>
<text x="994.1" y="269.9" font-size="11" textLength="48.0" lengthAdjust="spacingAndGlyphs" fill="#2e2e2e" stroke="#333" stroke-width="0.28">Unknown</text>
<text x="8.4" y="531.8" font-size="12" font-weight="bold" font-style="italic" fill="#1a1a1a" textLength="45.2" lengthAdjust="spacingAndGlyphs">Figure 2:</text>
<text x="57.6" y="531.8" font-size="12" font-weight="bold" fill="#1a1a1a" textLength="284.7" lengthAdjust="spacingAndGlyphs">SNP phylogeny of all isolates included in this study</text>
</svg></body></html>
